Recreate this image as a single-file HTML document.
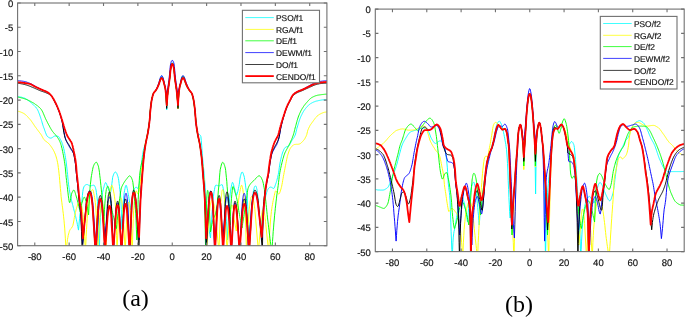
<!DOCTYPE html>
<html><head><meta charset="utf-8"><title>Radiation patterns</title>
<style>
html,body{margin:0;padding:0;background:#fff;}
body{width:685px;height:317px;overflow:hidden;position:relative;}
svg{position:absolute;left:0;top:0;display:block;}
.tk{font-family:"Liberation Sans",Arial,Helvetica,sans-serif;font-size:38px;fill:#151515;stroke:#151515;stroke-width:.7px;text-rendering:geometricPrecision;}
.lg{font-family:"Liberation Sans",Arial,Helvetica,sans-serif;font-size:33.6px;fill:#151515;stroke:#151515;stroke-width:.7px;text-rendering:geometricPrecision;}
.cap{font-family:"Liberation Serif","Times New Roman",Times,serif;font-size:24px;fill:#000;}
</style></head><body>
<svg width="685" height="317" viewBox="0 0 685 317">
<defs>
<clipPath id="cl"><rect x="17.6" y="3.0" width="309.30" height="242.70"/></clipPath>
<clipPath id="cr"><rect x="375.3" y="9.1" width="308.90" height="242.50"/></clipPath>
</defs>
<rect x="0" y="0" width="685" height="317" fill="#fff"/>
<g clip-path="url(#cl)" fill="none" stroke-linejoin="round" stroke-linecap="butt">
<path d="M17.6 96.7L18.0 96.7L18.3 96.7L18.7 96.7L19.0 96.8L19.4 96.8L19.7 96.9L20.1 96.9L20.4 97.0L20.8 97.1L21.1 97.1L21.5 97.2L21.8 97.3L22.2 97.4L22.5 97.5L22.9 97.6L23.2 97.7L23.6 97.8L23.9 97.9L24.3 98.0L24.6 98.2L25.0 98.4L25.3 98.6L25.7 98.8L26.0 99.0L26.4 99.2L26.8 99.4L27.1 99.7L27.5 99.9L27.8 100.2L28.2 100.4L28.5 100.7L28.9 101.0L29.2 101.2L29.6 101.5L29.9 101.7L30.3 102.0L30.6 102.3L31.0 102.6L31.3 102.9L31.7 103.2L32.0 103.6L32.4 103.9L32.7 104.2L33.1 104.6L33.4 104.9L33.8 105.3L34.1 105.6L34.5 106.0L34.8 106.3L35.2 106.7L35.6 107.0L35.9 107.4L36.3 107.8L36.6 108.3L37.0 108.7L37.3 109.3L37.7 109.9L38.0 110.7L38.4 111.5L38.7 112.4L39.1 113.3L39.4 114.2L39.8 115.2L40.1 116.2L40.5 117.2L40.8 118.3L41.2 119.4L41.5 120.5L41.9 121.7L42.2 122.9L42.6 124.1L42.9 125.2L43.3 126.3L43.6 127.3L44.0 128.2L44.4 129.2L44.7 130.3L45.1 131.3L45.4 132.3L45.8 133.2L46.1 134.1L46.5 134.9L46.8 135.6L47.2 136.1L47.5 136.5L47.9 136.8L48.2 137.1L48.6 137.3L48.9 137.5L49.3 137.7L49.6 137.9L50.0 138.0L50.3 138.1L50.7 138.1L51.0 138.1L51.4 138.0L51.7 137.8L52.1 137.6L52.5 137.4L52.8 137.1L53.2 136.9L53.5 136.6L53.9 136.4L54.2 136.2L54.6 136.1L54.9 136.0L55.3 136.0L55.6 136.0L56.0 136.0L56.3 136.1L56.7 136.1L57.0 136.2L57.4 136.2L57.7 136.3L58.1 136.4L58.4 136.5L58.8 136.8L59.1 137.2L59.5 137.8L59.8 138.4L60.2 139.1L60.5 139.7L60.9 140.4L61.3 141.1L61.6 141.9L62.0 142.7L62.3 143.7L62.7 144.7L63.0 145.8L63.4 147.0L63.7 148.5L64.1 150.0L64.4 151.7L64.8 153.6L65.1 155.5L65.5 157.6L65.8 159.7L66.2 162.1L66.5 165.0L66.9 168.1L67.2 171.3L67.6 174.6L67.9 178.0L68.3 181.6L68.6 184.8L69.0 187.4L69.3 189.8L69.7 191.9L70.1 193.9L70.4 195.7L70.8 197.4L71.1 198.9L71.5 200.4L71.8 201.7L72.2 203.1L72.5 204.4L72.9 205.7L73.2 207.1L73.6 208.5L73.9 209.9L74.3 211.2L74.6 212.6L75.0 213.9L75.3 215.3L75.7 216.7L76.0 218.2L76.4 219.7L76.7 221.2L77.1 222.9L77.4 224.6L77.8 226.4L78.1 228.2L78.5 230.1L78.9 226.0L79.2 222.0L79.6 218.3L79.9 214.9L80.3 211.7L80.7 208.8L81.0 206.3L81.4 204.0L81.7 201.7L82.1 199.0L82.4 195.4L82.8 191.7L83.2 189.1L83.5 188.0L83.9 187.0L84.2 186.3L84.6 185.7L85.0 185.3L85.3 185.1L85.7 184.9L86.0 184.7L86.4 184.6L86.7 184.5L87.1 184.5L87.5 184.6L87.8 184.7L88.2 184.9L88.5 185.2L88.9 185.4L89.3 185.6L89.6 185.8L90.0 185.9L90.3 185.9L90.7 185.9L91.1 185.8L91.4 185.7L91.8 185.6L92.1 185.5L92.5 185.4L92.8 185.3L93.2 185.3L93.6 185.2L93.9 185.2L94.3 185.4L94.6 185.9L95.0 186.7L95.4 187.6L95.7 188.7L96.1 190.2L96.4 192.4L96.8 195.2L97.1 198.2L97.5 201.4L97.9 205.3L98.2 210.6L98.6 219.5L98.9 234.0L99.3 251.7L99.7 238.5L100.0 226.7L100.4 217.4L100.7 210.8L101.1 205.4L101.5 200.9L101.8 197.4L102.2 194.8L102.5 192.7L102.9 191.0L103.3 189.5L103.6 188.2L104.0 186.8L104.3 185.4L104.7 184.3L105.1 183.3L105.4 182.7L105.8 182.6L106.1 183.0L106.5 183.8L106.9 184.9L107.2 186.1L107.6 187.2L107.9 188.0L108.3 188.9L108.7 189.8L109.0 190.6L109.4 191.3L109.7 191.9L110.1 192.3L110.5 192.5L110.8 191.5L111.2 189.1L111.6 186.3L111.9 183.6L112.3 180.4L112.6 177.7L113.0 176.1L113.4 175.1L113.7 174.2L114.1 173.4L114.4 172.8L114.8 172.3L115.2 172.1L115.5 172.0L115.9 172.2L116.2 172.6L116.6 173.2L117.0 173.9L117.3 174.8L117.7 175.8L118.0 176.8L118.4 178.5L118.8 180.8L119.1 183.5L119.5 186.4L119.8 189.3L120.2 192.3L120.6 196.0L120.9 201.4L121.3 209.5L121.6 218.7L122.0 229.4L122.4 218.5L122.7 209.6L123.1 203.4L123.5 198.8L123.9 195.3L124.2 192.7L124.6 190.5L125.0 188.5L125.3 186.8L125.7 185.7L126.1 185.2L126.5 185.6L126.8 186.9L127.2 188.6L127.6 190.6L127.9 192.5L128.3 194.3L128.7 196.4L129.0 198.5L129.4 200.7L129.8 202.9L130.2 205.1L130.5 207.5L130.9 210.0L131.3 206.5L131.6 203.2L132.0 200.3L132.3 197.5L132.7 194.9L133.0 192.8L133.4 191.3L133.7 190.2L134.1 189.4L134.4 188.8L134.8 188.3L135.2 187.8L135.5 187.4L135.9 187.2L136.2 187.1L136.6 187.3L136.9 187.7L137.3 188.2L137.6 188.4L138.0 188.2L138.3 187.5L138.7 186.4L139.1 185.0L139.4 183.5L139.8 180.9L140.1 177.4L140.5 173.8L140.8 170.4L141.2 166.8L141.5 163.2L141.9 160.1L142.2 157.3L142.6 154.7L143.0 152.3L143.3 150.3L143.7 148.8L144.0 147.7L144.4 146.9L144.7 146.0L145.1 144.9L145.4 143.6L145.8 142.2L146.1 140.6L146.5 138.9L146.9 137.1L147.2 135.3L147.6 133.4L147.9 131.4L148.3 129.4L148.6 127.3L149.0 124.9L149.3 122.1L149.7 118.2L150.0 113.3L150.4 109.3L150.7 106.1L151.1 103.2L151.5 100.9L151.8 99.0L152.2 97.4L152.5 96.0L152.9 94.8L153.2 93.8L153.6 93.1L153.9 92.5L154.3 92.1L154.6 91.7L155.0 91.4L155.4 91.0L155.7 90.5L156.1 90.0L156.4 89.4L156.8 88.8L157.1 88.2L157.5 87.4L157.8 86.6L158.2 85.8L158.5 85.0L158.9 84.1L159.3 83.0L159.6 81.4L160.0 79.6L160.3 78.2L160.7 77.4L161.0 76.8L161.4 76.3L161.7 76.2L162.1 76.4L162.4 76.9L162.8 77.6L163.2 78.5L163.5 80.3L163.9 82.5L164.2 84.2L164.6 85.5L164.9 86.8L165.3 88.5L165.6 91.1L166.0 95.8L166.3 102.4L166.7 110.0L167.1 102.4L167.4 96.7L167.8 92.7L168.2 89.5L168.5 86.9L168.9 84.6L169.2 82.0L169.6 79.2L170.0 75.9L170.3 71.6L170.7 68.3L171.1 66.1L171.4 64.4L171.8 63.4L172.1 62.9L172.5 62.9L172.9 63.5L173.2 64.6L173.6 66.4L174.0 68.6L174.3 72.2L174.7 76.4L175.0 79.6L175.4 82.3L175.8 84.9L176.1 87.2L176.5 89.9L176.9 93.3L177.2 97.3L177.6 101.8L177.9 107.0L178.3 100.9L178.7 95.6L179.0 91.4L179.4 88.8L179.7 87.0L180.1 85.6L180.4 84.3L180.8 82.9L181.1 81.3L181.5 79.9L181.8 79.0L182.2 78.3L182.5 77.8L182.9 77.5L183.3 77.6L183.6 78.0L184.0 78.6L184.3 79.3L184.7 80.3L185.0 81.6L185.4 82.8L185.7 83.8L186.1 84.7L186.4 85.5L186.8 86.2L187.1 87.0L187.5 87.7L187.9 88.4L188.2 88.9L188.6 89.5L188.9 90.0L189.3 90.5L189.6 91.0L190.0 91.4L190.3 91.7L190.7 92.1L191.0 92.5L191.4 93.0L191.7 93.7L192.1 94.7L192.5 95.9L192.8 97.3L193.2 98.9L193.5 100.7L193.9 102.9L194.2 105.5L194.6 108.4L194.9 111.3L195.3 114.6L195.6 118.1L196.0 121.4L196.3 125.0L196.7 128.7L197.1 131.6L197.4 132.8L197.8 133.4L198.1 133.8L198.5 134.1L198.8 134.3L199.2 134.4L199.5 134.6L199.9 134.8L200.2 135.2L200.6 135.8L200.9 136.6L201.3 140.7L201.7 145.9L202.0 150.5L202.4 155.1L202.7 159.3L203.1 163.1L203.4 166.7L203.8 170.2L204.1 173.9L204.5 177.9L204.8 182.4L205.2 187.1L205.5 191.9L205.9 196.5L206.3 200.8L206.6 205.0L207.0 209.2L207.3 213.3L207.7 217.2L208.0 220.8L208.4 224.0L208.7 226.8L209.1 229.5L209.4 232.0L209.8 234.2L210.1 236.3L210.5 238.0L210.9 231.6L211.2 225.6L211.6 219.9L211.9 214.7L212.3 209.9L212.7 205.3L213.0 200.8L213.4 196.9L213.8 193.8L214.1 191.5L214.5 189.5L214.8 187.6L215.2 186.2L215.6 185.4L215.9 185.2L216.3 185.2L216.6 185.3L217.0 185.4L217.4 185.6L217.7 185.7L218.1 185.8L218.5 185.9L218.8 185.9L219.2 185.9L219.5 185.8L219.9 185.6L220.3 185.4L220.6 185.2L221.0 185.0L221.4 184.8L221.7 184.7L222.1 184.6L222.4 185.1L222.8 186.5L223.2 188.3L223.5 190.1L223.9 192.3L224.2 194.9L224.6 197.9L225.0 201.5L225.3 205.8L225.7 210.7L226.1 215.8L226.4 221.2L226.8 227.0L227.1 233.3L227.5 240.0L227.9 230.1L228.3 221.1L228.6 213.2L229.0 206.5L229.4 201.2L229.8 197.2L230.2 193.9L230.5 191.2L230.9 188.9L231.3 186.8L231.7 184.8L232.1 183.2L232.4 182.4L232.8 182.6L233.2 183.5L233.6 184.7L233.9 186.2L234.3 187.7L234.7 189.0L235.1 190.2L235.5 191.5L235.8 192.7L236.2 194.0L236.6 195.3L237.0 194.3L237.3 193.1L237.7 191.8L238.1 190.2L238.4 188.5L238.8 186.6L239.2 184.7L239.6 182.1L239.9 179.2L240.3 176.8L240.7 175.4L241.0 174.2L241.4 173.1L241.8 172.3L242.1 172.0L242.5 172.2L242.9 172.8L243.3 173.7L243.6 174.8L244.0 176.0L244.4 177.5L244.7 179.7L245.1 182.3L245.5 185.1L245.8 187.9L246.2 190.3L246.6 192.3L247.0 194.6L247.3 198.1L247.7 206.2L248.1 216.6L248.4 226.9L248.8 238.0L252.2 200.5L252.3 198.9L252.5 197.5L252.7 196.1L252.8 194.8L253.0 193.7L253.2 192.6L253.3 191.7L253.5 190.8L253.7 190.0L253.8 189.2L254.0 188.6L254.2 188.0L254.3 187.5L254.5 187.1L254.7 186.7L254.8 186.4L255.0 186.2L255.2 186.0L255.3 185.9L255.5 185.9L255.6 185.9L255.8 186.0L255.9 186.2L256.1 186.4L256.2 186.7L256.3 187.1L256.5 187.5L256.6 188.0L256.7 188.6L256.9 189.2L257.0 190.0L257.1 190.8L257.3 191.7L257.4 192.6L257.6 193.7L257.7 194.8L257.8 196.1L258.0 197.5L258.1 198.9L258.2 200.5L261.0 232.0L261.4 227.3L261.7 222.9L262.1 218.8L262.4 215.1L262.8 211.8L263.1 209.2L263.5 206.9L263.8 204.8L264.2 202.9L264.5 201.1L264.9 199.5L265.2 198.1L265.6 196.7L265.9 195.3L266.3 194.0L266.6 192.7L267.0 191.5L267.3 190.5L267.7 189.7L268.0 189.1L268.4 188.6L268.8 188.2L269.1 187.9L269.5 187.6L269.8 187.3L270.2 187.2L270.5 187.1L270.9 187.1L271.2 187.2L271.6 187.4L271.9 187.6L272.3 187.8L272.6 188.0L273.0 188.2L273.3 188.3L273.7 188.4L274.0 188.3L274.4 187.7L274.7 186.9L275.1 185.8L275.4 184.7L275.8 183.7L276.2 182.7L276.5 181.5L276.9 180.3L277.2 179.0L277.6 177.5L277.9 176.0L278.3 174.4L278.6 172.3L279.0 170.0L279.3 167.5L279.7 165.1L280.0 163.1L280.4 161.3L280.7 159.7L281.1 158.1L281.4 156.6L281.8 155.3L282.1 154.1L282.5 153.0L282.8 152.0L283.2 151.1L283.6 150.2L283.9 149.4L284.3 148.7L284.6 148.2L285.0 147.7L285.3 147.4L285.7 147.2L286.0 147.0L286.4 146.9L286.7 146.7L287.1 146.6L287.4 146.5L287.8 146.4L288.1 146.2L288.5 146.0L288.8 145.7L289.2 145.4L289.5 144.9L289.9 144.3L290.2 143.6L290.6 142.9L291.0 142.1L291.3 141.5L291.7 140.9L292.0 140.3L292.4 139.8L292.7 139.3L293.1 138.8L293.4 138.3L293.8 137.8L294.1 137.2L294.5 136.6L294.8 135.8L295.2 135.0L295.5 134.0L295.9 132.7L296.2 131.2L296.6 129.7L296.9 128.3L297.3 127.0L297.7 125.8L298.0 124.7L298.4 123.5L298.7 122.4L299.1 121.3L299.4 120.2L299.8 119.2L300.1 118.3L300.5 117.4L300.8 116.6L301.2 115.8L301.5 115.1L301.9 114.4L302.2 113.7L302.6 113.0L302.9 112.4L303.3 111.8L303.6 111.2L304.0 110.6L304.3 110.1L304.7 109.6L305.1 109.1L305.4 108.7L305.8 108.2L306.1 107.8L306.5 107.4L306.8 107.0L307.2 106.6L307.5 106.2L307.9 105.9L308.2 105.5L308.6 105.2L308.9 104.9L309.3 104.6L309.6 104.3L310.0 104.1L310.3 103.8L310.7 103.6L311.0 103.4L311.4 103.2L311.7 103.0L312.1 102.8L312.5 102.6L312.8 102.4L313.2 102.3L313.5 102.1L313.9 101.9L314.2 101.8L314.6 101.7L314.9 101.5L315.3 101.4L315.6 101.3L316.0 101.2L316.3 101.1L316.7 101.0L317.0 100.9L317.4 100.9L317.7 100.8L318.1 100.7L318.4 100.6L318.8 100.6L319.1 100.5L319.5 100.4L319.9 100.4L320.2 100.3L320.6 100.2L320.9 100.2L321.3 100.1L321.6 100.0L322.0 100.0L322.3 99.9L322.7 99.9L323.0 99.9L323.4 99.8L323.7 99.8L324.1 99.7L324.4 99.7L324.8 99.7L325.1 99.7L325.5 99.6L325.8 99.6L326.2 99.6L326.5 99.6L326.9 99.6" stroke="#00ffff" stroke-width="0.95"/>
<path d="M17.6 111.3L18.0 111.3L18.3 111.4L18.7 111.4L19.0 111.5L19.4 111.6L19.7 111.7L20.1 111.8L20.4 111.9L20.8 112.1L21.1 112.2L21.5 112.4L21.8 112.5L22.2 112.7L22.6 112.8L22.9 113.0L23.3 113.2L23.6 113.4L24.0 113.6L24.3 113.8L24.7 114.0L25.0 114.3L25.4 114.6L25.7 114.9L26.1 115.2L26.5 115.6L26.8 115.9L27.2 116.3L27.5 116.6L27.9 117.0L28.2 117.4L28.6 117.8L28.9 118.2L29.3 118.6L29.6 118.9L30.0 119.3L30.3 119.8L30.7 120.2L31.1 120.7L31.4 121.2L31.8 121.7L32.1 122.2L32.5 122.7L32.8 123.2L33.2 123.7L33.5 124.2L33.9 124.8L34.2 125.3L34.6 125.8L34.9 126.3L35.3 126.9L35.7 127.4L36.0 127.8L36.4 128.3L36.7 128.8L37.1 129.3L37.4 129.7L37.8 130.2L38.1 130.6L38.5 131.1L38.8 131.6L39.2 132.0L39.5 132.5L39.9 133.0L40.3 133.5L40.6 134.0L41.0 134.5L41.3 135.0L41.7 135.6L42.0 136.2L42.4 136.9L42.7 137.5L43.1 138.2L43.4 138.8L43.8 139.3L44.2 139.8L44.5 140.1L44.9 140.5L45.2 140.8L45.6 141.1L45.9 141.4L46.3 141.6L46.6 141.9L47.0 142.1L47.3 142.4L47.7 142.7L48.0 143.0L48.4 143.3L48.8 143.6L49.1 144.0L49.5 144.4L49.8 144.8L50.2 145.3L50.5 145.7L50.9 146.2L51.2 146.7L51.6 147.2L51.9 147.8L52.3 148.3L52.6 148.9L53.0 149.5L53.4 150.2L53.7 150.8L54.1 151.5L54.4 152.3L54.8 153.0L55.1 153.9L55.5 154.8L55.8 155.8L56.2 156.9L56.5 158.1L56.9 159.4L57.2 160.9L57.6 162.7L58.0 164.9L58.3 167.5L58.7 170.2L59.0 173.2L59.4 176.6L59.7 180.6L60.1 184.7L60.4 188.6L60.8 192.6L61.1 196.5L61.5 200.0L61.9 202.8L62.2 205.3L62.6 207.9L62.9 210.8L63.3 213.7L63.6 216.8L64.0 220.2L64.3 223.9L64.7 228.1L65.0 233.0L65.4 238.8L65.7 245.2L66.1 251.7L66.5 248.3L66.8 244.9L67.2 241.9L67.5 239.3L67.9 237.3L68.2 235.5L68.6 233.9L69.0 232.6L69.3 231.4L69.7 230.5L70.0 229.8L70.4 229.3L70.7 228.8L71.1 228.4L71.5 228.0L71.8 227.5L72.2 227.0L72.5 226.3L72.9 225.4L73.2 224.0L73.6 222.0L74.0 219.8L74.3 217.6L74.7 215.7L75.0 214.1L75.4 212.5L75.8 211.1L76.1 209.7L76.5 208.4L76.8 207.3L77.2 206.1L77.5 205.0L77.9 204.0L78.3 203.3L78.6 202.9L79.0 202.6L79.3 202.4L79.7 202.2L80.0 202.1L80.4 202.0L80.8 202.2L81.1 203.1L81.5 204.5L81.8 206.5L82.2 208.9L82.5 211.5L82.9 214.2L83.3 217.3L83.6 221.3L84.0 226.2L84.3 231.8L84.7 238.1L85.0 244.8L85.4 251.7L85.8 244.0L86.1 236.5L86.5 229.6L86.9 223.4L87.2 218.2L87.6 213.9L88.0 210.2L88.3 206.8L88.7 203.7L89.1 201.0L89.4 198.7L89.8 196.8L90.2 195.4L90.5 194.0L90.9 192.8L91.3 191.6L91.6 190.7L92.0 190.0L92.4 189.6L92.7 189.6L93.1 190.2L93.5 191.6L93.8 193.3L94.2 195.4L94.6 197.5L94.9 199.8L95.3 202.5L95.7 206.0L96.0 210.5L96.4 217.3L96.8 226.9L97.1 238.7L97.5 251.7L99.8 217.6L99.9 216.0L100.0 214.6L100.1 213.2L100.2 211.9L100.3 210.8L100.4 209.7L100.5 208.8L100.7 207.9L100.8 207.1L100.9 206.3L101.0 205.7L101.1 205.1L101.2 204.6L101.3 204.2L101.4 203.8L101.5 203.5L101.7 203.3L101.8 203.1L101.9 203.0L102.0 203.0L102.1 203.0L102.2 203.1L102.3 203.3L102.4 203.5L102.5 203.8L102.6 204.2L102.7 204.6L102.8 205.1L102.9 205.7L103.0 206.3L103.1 207.1L103.2 207.9L103.3 208.8L103.4 209.7L103.5 210.8L103.6 211.9L103.7 213.2L103.8 214.6L103.9 216.0L104.0 217.6L106.0 251.7L106.4 242.4L106.7 233.4L107.1 225.3L107.5 218.2L107.8 212.2L108.2 207.5L108.6 203.4L108.9 199.8L109.3 196.6L109.7 194.0L110.0 191.8L110.4 189.9L110.8 188.0L111.1 186.5L111.5 185.5L111.9 185.2L112.2 185.7L112.6 186.7L113.0 188.2L113.3 190.0L113.7 191.9L114.1 193.9L114.4 196.2L114.8 199.1L115.2 202.7L115.5 207.1L115.9 213.1L116.3 221.9L116.6 235.3L117.0 251.7L118.8 212.3L118.9 210.7L119.0 209.3L119.1 207.9L119.2 206.6L119.3 205.5L119.4 204.4L119.5 203.5L119.6 202.6L119.7 201.8L119.8 201.0L119.9 200.4L120.0 199.8L120.1 199.3L120.1 198.9L120.2 198.5L120.3 198.2L120.4 198.0L120.5 197.8L120.6 197.7L120.7 197.7L120.8 197.7L120.9 197.8L121.0 198.0L121.2 198.2L121.3 198.5L121.4 198.9L121.5 199.3L121.6 199.8L121.7 200.4L121.8 201.0L121.9 201.8L122.0 202.6L122.2 203.5L122.3 204.4L122.4 205.5L122.5 206.6L122.6 207.9L122.7 209.3L122.8 210.7L123.0 212.3L125.2 251.7L126.8 216.6L126.9 215.0L127.0 213.6L127.1 212.2L127.2 210.9L127.3 209.8L127.3 208.7L127.4 207.8L127.5 206.9L127.6 206.1L127.7 205.3L127.8 204.7L127.8 204.1L127.9 203.6L128.0 203.2L128.1 202.8L128.2 202.5L128.3 202.3L128.3 202.1L128.4 202.0L128.5 202.0L128.6 202.0L128.7 202.1L128.8 202.3L128.9 202.5L129.0 202.8L129.1 203.2L129.1 203.6L129.2 204.1L129.3 204.7L129.4 205.3L129.5 206.1L129.6 206.9L129.7 207.8L129.8 208.7L129.9 209.8L130.0 210.9L130.1 212.2L130.2 213.6L130.3 215.0L130.3 216.6L132.2 251.7L132.6 239.8L132.9 228.5L133.3 218.6L133.6 210.6L134.0 205.2L134.3 201.6L134.7 198.3L135.0 195.5L135.4 193.2L135.8 191.6L136.1 190.9L136.5 191.1L136.8 191.7L137.2 192.5L137.5 193.3L137.9 193.9L138.2 193.9L138.6 193.1L139.0 191.6L139.3 189.7L139.7 187.4L140.0 185.0L140.4 181.8L140.7 177.6L141.1 173.6L141.4 170.5L141.8 167.8L142.2 165.3L142.5 163.1L142.9 161.1L143.2 159.1L143.6 156.8L143.9 154.0L144.3 151.1L144.6 148.3L145.0 145.8L145.4 143.7L145.7 141.9L146.1 140.2L146.4 138.7L146.8 137.1L147.1 135.5L147.5 133.7L147.8 131.8L148.2 129.8L148.6 127.7L148.9 125.3L149.3 122.6L149.6 119.0L150.0 114.1L150.3 109.8L150.7 106.5L151.1 103.6L151.4 101.2L151.8 99.3L152.1 97.6L152.5 96.2L152.8 94.9L153.2 93.9L153.5 93.1L153.9 92.6L154.3 92.1L154.6 91.8L155.0 91.4L155.3 91.0L155.7 90.6L156.0 90.0L156.4 89.5L156.7 88.9L157.1 88.2L157.5 87.5L157.8 86.7L158.2 85.9L158.5 85.0L158.9 84.1L159.2 83.1L159.6 82.0L159.9 80.8L160.3 79.8L160.7 79.1L161.0 78.5L161.4 78.0L161.7 77.8L162.1 78.0L162.4 78.5L162.8 79.2L163.1 79.9L163.5 81.2L163.9 82.6L164.2 84.0L164.6 85.3L164.9 86.7L165.3 88.5L165.6 90.9L166.0 94.9L166.3 100.0L166.7 106.0L167.1 101.1L167.4 96.7L167.8 92.8L168.2 89.5L168.5 86.9L168.9 84.6L169.2 82.0L169.6 79.1L170.0 76.0L170.3 71.9L170.7 68.8L171.1 66.7L171.4 65.1L171.8 64.1L172.1 63.6L172.5 63.6L172.9 64.2L173.2 65.3L173.6 67.0L174.0 69.1L174.3 72.5L174.7 76.5L175.0 79.5L175.4 82.3L175.8 84.9L176.1 87.2L176.5 89.9L176.9 93.2L177.2 97.3L177.6 102.6L177.9 109.0L178.3 102.1L178.7 96.0L179.0 91.4L179.4 88.7L179.7 86.9L180.1 85.4L180.4 84.1L180.8 82.8L181.2 81.3L181.5 80.1L181.9 79.2L182.2 78.6L182.6 78.0L182.9 77.8L183.3 77.9L183.7 78.4L184.0 79.1L184.4 79.8L184.7 80.7L185.1 81.9L185.4 83.0L185.8 84.0L186.2 84.8L186.5 85.6L186.9 86.4L187.2 87.1L187.6 87.8L187.9 88.5L188.3 89.1L188.7 89.6L189.0 90.1L189.4 90.6L189.7 91.1L190.1 91.5L190.4 91.8L190.8 92.2L191.2 92.7L191.5 93.2L191.9 94.0L192.2 95.1L192.6 96.4L192.9 97.9L193.3 99.6L193.7 101.5L194.0 103.9L194.4 106.7L194.7 109.6L195.1 112.7L195.4 116.1L195.8 119.6L196.2 122.9L196.5 126.2L196.9 129.3L197.2 132.1L197.6 134.3L197.9 136.2L198.3 137.8L198.6 139.4L199.0 140.9L199.4 142.5L199.7 144.2L200.1 146.2L200.4 148.2L200.8 150.4L201.1 152.6L201.5 155.1L201.9 157.7L202.2 160.5L202.6 163.6L202.9 166.9L203.3 170.6L203.6 174.9L204.0 179.8L204.4 186.0L204.7 193.4L205.1 201.8L205.4 211.4L205.8 223.3L206.1 236.9L206.5 251.7L209.2 214.6L209.4 213.0L209.5 211.6L209.7 210.2L209.8 208.9L209.9 207.8L210.1 206.7L210.2 205.8L210.3 204.9L210.5 204.1L210.6 203.3L210.8 202.7L210.9 202.1L211.0 201.6L211.2 201.2L211.3 200.8L211.4 200.5L211.6 200.3L211.7 200.1L211.9 200.0L212.0 200.0L212.2 200.0L212.3 200.1L212.5 200.3L212.7 200.5L212.9 200.8L213.0 201.2L213.2 201.6L213.4 202.1L213.6 202.7L213.7 203.3L213.9 204.1L214.1 204.9L214.2 205.8L214.4 206.7L214.6 207.8L214.8 208.9L214.9 210.2L215.1 211.6L215.3 213.0L215.4 214.6L218.9 251.7L220.8 204.2L220.9 202.6L221.0 201.2L221.1 199.8L221.2 198.5L221.3 197.4L221.4 196.3L221.5 195.4L221.6 194.5L221.7 193.7L221.8 192.9L221.8 192.3L221.9 191.7L222.0 191.2L222.1 190.8L222.2 190.4L222.3 190.1L222.4 189.9L222.5 189.7L222.6 189.6L222.7 189.6L222.8 189.6L222.9 189.7L223.0 189.9L223.1 190.1L223.2 190.4L223.3 190.8L223.5 191.2L223.6 191.7L223.7 192.3L223.8 192.9L223.9 193.7L224.0 194.5L224.1 195.4L224.2 196.3L224.3 197.4L224.4 198.5L224.5 199.8L224.6 201.2L224.7 202.6L224.8 204.2L227.0 251.7L229.5 219.6L229.6 218.0L229.8 216.6L229.9 215.2L230.0 213.9L230.1 212.8L230.2 211.7L230.4 210.8L230.5 209.9L230.6 209.1L230.8 208.3L230.9 207.7L231.0 207.1L231.1 206.6L231.2 206.2L231.4 205.8L231.5 205.5L231.6 205.3L231.8 205.1L231.9 205.0L232.0 205.0L232.1 205.0L232.2 205.1L232.3 205.3L232.4 205.5L232.5 205.8L232.6 206.2L232.8 206.6L232.9 207.1L233.0 207.7L233.1 208.3L233.2 209.1L233.3 209.9L233.4 210.8L233.5 211.7L233.6 212.8L233.7 213.9L233.8 215.2L233.9 216.6L234.0 218.0L234.2 219.6L236.3 231.0L236.7 224.2L237.0 217.9L237.4 212.3L237.8 207.6L238.1 203.8L238.5 200.7L238.9 197.9L239.2 195.5L239.6 193.4L239.9 191.5L240.3 189.5L240.7 187.7L241.0 186.2L241.4 185.3L241.8 185.3L242.1 186.2L242.5 187.7L242.9 189.8L243.2 192.2L243.6 194.6L243.9 197.4L244.3 201.0L244.7 205.4L245.0 210.7L245.4 218.0L245.8 227.6L246.1 239.1L246.5 251.7L249.1 211.2L249.2 209.6L249.4 208.2L249.5 206.8L249.6 205.5L249.8 204.4L249.9 203.3L250.0 202.4L250.1 201.5L250.3 200.7L250.4 199.9L250.5 199.3L250.7 198.7L250.8 198.2L250.9 197.8L251.0 197.4L251.2 197.1L251.3 196.9L251.4 196.7L251.6 196.6L251.7 196.6L251.9 196.6L252.0 196.7L252.2 196.9L252.4 197.1L252.5 197.4L252.7 197.8L252.9 198.2L253.0 198.7L253.2 199.3L253.4 199.9L253.5 200.7L253.7 201.5L253.9 202.4L254.0 203.3L254.2 204.4L254.4 205.5L254.5 206.8L254.7 208.2L254.9 209.6L255.0 211.2L258.4 251.7L260.7 224.4L260.8 222.8L260.9 221.4L261.0 220.0L261.2 218.7L261.3 217.6L261.4 216.5L261.5 215.6L261.6 214.7L261.7 213.9L261.9 213.1L262.0 212.5L262.1 211.9L262.2 211.4L262.3 211.0L262.4 210.6L262.5 210.3L262.7 210.1L262.8 209.9L262.9 209.8L263.0 209.8L263.1 209.8L263.3 209.9L263.4 210.1L263.6 210.3L263.7 210.6L263.8 211.0L264.0 211.4L264.1 211.9L264.3 212.5L264.4 213.1L264.5 213.9L264.7 214.7L264.8 215.6L265.0 216.5L265.1 217.6L265.2 218.7L265.4 220.0L265.5 221.4L265.7 222.8L265.8 224.4L268.6 251.7L269.0 245.2L269.3 238.6L269.7 232.5L270.0 227.0L270.4 222.0L270.7 217.8L271.1 214.4L271.4 211.4L271.8 208.8L272.1 206.5L272.5 204.4L272.8 202.4L273.2 200.6L273.5 199.0L273.9 197.3L274.3 195.6L274.6 193.9L275.0 192.4L275.3 191.4L275.7 190.9L276.0 191.0L276.4 191.3L276.7 191.7L277.1 192.2L277.4 192.7L277.8 193.2L278.1 193.6L278.5 193.9L278.8 194.0L279.2 193.8L279.6 193.2L279.9 192.3L280.3 191.3L280.6 190.1L281.0 188.9L281.3 187.6L281.7 186.2L282.0 184.4L282.4 182.5L282.7 180.4L283.1 178.3L283.4 176.3L283.8 174.4L284.1 172.6L284.5 170.7L284.9 168.8L285.2 167.0L285.6 165.2L285.9 163.4L286.3 161.6L286.6 159.8L287.0 158.1L287.3 156.6L287.7 155.3L288.0 154.1L288.4 153.0L288.7 152.0L289.1 151.0L289.4 150.1L289.8 149.3L290.2 148.6L290.5 148.0L290.9 147.5L291.2 147.1L291.6 146.7L291.9 146.3L292.3 145.9L292.6 145.6L293.0 145.3L293.3 145.0L293.7 144.8L294.0 144.7L294.4 144.5L294.7 144.5L295.1 144.4L295.5 144.4L295.8 144.4L296.2 144.3L296.5 144.3L296.9 144.3L297.2 144.3L297.6 144.3L297.9 144.2L298.3 144.2L298.6 144.2L299.0 144.1L299.3 144.0L299.7 143.9L300.0 143.7L300.4 143.5L300.8 143.2L301.1 142.9L301.5 142.6L301.8 142.3L302.2 141.9L302.5 141.6L302.9 141.2L303.2 140.8L303.6 140.4L303.9 140.0L304.3 139.5L304.6 139.0L305.0 138.4L305.3 137.7L305.7 137.0L306.1 136.3L306.4 135.5L306.8 134.5L307.1 133.1L307.5 131.5L307.8 130.2L308.2 129.4L308.5 128.5L308.9 127.8L309.2 127.0L309.6 126.4L309.9 125.7L310.3 125.1L310.6 124.6L311.0 124.0L311.4 123.5L311.7 123.0L312.1 122.5L312.4 122.1L312.8 121.6L313.1 121.1L313.5 120.6L313.8 120.1L314.2 119.7L314.5 119.2L314.9 118.7L315.2 118.3L315.6 117.8L315.9 117.4L316.3 117.0L316.7 116.6L317.0 116.2L317.4 115.9L317.7 115.6L318.1 115.3L318.4 115.0L318.8 114.7L319.1 114.5L319.5 114.4L319.8 114.2L320.2 114.0L320.5 113.8L320.9 113.7L321.2 113.5L321.6 113.3L322.0 113.2L322.3 113.0L322.7 112.9L323.0 112.8L323.4 112.6L323.7 112.5L324.1 112.4L324.4 112.3L324.8 112.2L325.1 112.2L325.5 112.1L325.8 112.1L326.2 112.0L326.5 112.0L326.9 112.0" stroke="#ffff00" stroke-width="0.95"/>
<path d="M17.6 97.1L18.0 97.2L18.3 97.2L18.7 97.3L19.0 97.3L19.4 97.4L19.7 97.5L20.1 97.6L20.4 97.6L20.8 97.7L21.1 97.8L21.5 97.9L21.8 98.0L22.2 98.1L22.5 98.2L22.9 98.3L23.2 98.4L23.6 98.5L23.9 98.6L24.3 98.7L24.6 98.8L25.0 98.9L25.3 99.0L25.7 99.2L26.1 99.3L26.4 99.4L26.8 99.6L27.1 99.7L27.5 99.9L27.8 100.0L28.2 100.2L28.5 100.4L28.9 100.5L29.2 100.7L29.6 100.9L29.9 101.0L30.3 101.2L30.6 101.4L31.0 101.6L31.3 101.8L31.7 102.0L32.0 102.2L32.4 102.4L32.7 102.6L33.1 102.8L33.5 103.0L33.8 103.2L34.2 103.4L34.5 103.7L34.9 103.9L35.2 104.2L35.6 104.4L35.9 104.7L36.3 104.9L36.6 105.2L37.0 105.5L37.3 105.8L37.7 106.0L38.0 106.3L38.4 106.6L38.7 106.8L39.1 107.1L39.4 107.5L39.8 107.8L40.1 108.1L40.5 108.5L40.8 108.9L41.2 109.4L41.6 109.9L41.9 110.5L42.3 111.1L42.6 111.9L43.0 112.6L43.3 113.4L43.7 114.2L44.0 115.1L44.4 115.9L44.7 116.7L45.1 117.6L45.4 118.4L45.8 119.1L46.1 119.9L46.5 120.6L46.8 121.2L47.2 121.9L47.5 122.6L47.9 123.3L48.2 124.0L48.6 124.7L49.0 125.3L49.3 126.0L49.7 126.7L50.0 127.3L50.4 127.9L50.7 128.5L51.1 129.1L51.4 129.7L51.8 130.3L52.1 130.8L52.5 131.3L52.8 131.8L53.2 132.2L53.5 132.7L53.9 133.0L54.2 133.4L54.6 133.8L54.9 134.2L55.3 134.5L55.6 134.9L56.0 135.4L56.3 135.8L56.7 136.3L57.1 136.8L57.4 137.3L57.8 137.8L58.1 138.3L58.5 138.9L58.8 139.5L59.2 140.2L59.5 140.8L59.9 141.6L60.2 142.4L60.6 143.3L60.9 144.4L61.3 145.6L61.6 147.0L62.0 148.4L62.3 150.0L62.7 151.6L63.0 153.4L63.4 155.2L63.7 157.0L64.1 159.0L64.4 161.3L64.8 163.8L65.2 166.5L65.5 170.0L65.9 174.3L66.2 177.6L66.6 180.6L66.9 183.5L67.3 186.6L67.6 189.8L68.0 192.9L68.3 195.8L68.7 198.2L69.0 200.6L69.4 202.4L69.7 202.7L70.1 201.9L70.4 200.3L70.8 198.3L71.1 196.2L71.5 194.4L71.8 193.1L72.2 192.3L72.6 191.6L72.9 190.9L73.3 190.4L73.6 190.1L74.0 190.1L74.3 190.5L74.7 191.3L75.0 192.3L75.4 193.4L75.7 194.7L76.1 195.9L76.4 197.0L76.8 198.2L77.1 199.5L77.5 200.9L77.8 202.3L78.2 203.8L78.5 205.1L78.9 206.5L79.2 207.9L79.6 209.2L79.9 210.6L80.3 212.0L80.7 209.6L81.1 207.4L81.4 205.4L81.8 203.6L82.2 202.0L82.6 200.8L82.9 199.7L83.3 198.6L83.7 197.7L84.1 197.2L84.4 197.1L84.8 197.7L85.2 198.6L85.6 199.9L86.0 201.4L86.3 202.9L86.7 204.5L87.1 206.1L87.5 208.1L87.8 210.2L88.2 212.5L88.6 214.9L89.0 207.0L89.3 199.8L89.7 193.5L90.0 188.3L90.4 184.3L90.8 181.0L91.1 178.0L91.5 175.5L91.9 173.4L92.2 171.5L92.6 169.7L92.9 168.0L93.3 166.6L93.7 165.5L94.0 164.8L94.4 164.1L94.8 163.5L95.1 163.0L95.5 162.6L95.8 162.3L96.2 162.2L96.6 162.3L96.9 162.8L97.3 163.4L97.6 164.2L98.0 165.2L98.4 166.2L98.7 167.7L99.1 169.9L99.5 172.7L99.8 175.7L100.2 178.7L100.5 181.9L100.9 185.5L101.3 189.1L101.6 192.8L102.0 196.1L102.4 199.6L102.7 203.8L103.1 209.4L103.4 216.6L103.8 225.0L104.2 216.6L104.5 209.3L104.9 203.1L105.3 198.3L105.6 194.7L106.0 191.8L106.3 189.6L106.7 188.3L107.1 187.3L107.4 186.5L107.8 186.2L108.2 186.5L108.5 187.4L108.9 188.6L109.2 190.1L109.6 192.5L110.0 195.3L110.3 198.0L110.7 200.7L111.1 203.5L111.4 206.2L111.8 208.7L112.1 210.8L112.5 212.6L112.9 214.3L113.2 215.9L113.6 217.4L114.0 218.8L114.3 220.3L114.7 221.7L115.0 223.2L115.4 224.6L115.8 225.9L116.1 227.2L116.5 228.5L116.9 224.5L117.2 220.7L117.6 217.0L117.9 213.5L118.3 210.2L118.6 207.0L119.0 204.0L119.3 201.2L119.7 198.5L120.1 195.8L120.4 193.0L120.8 190.6L121.1 188.9L121.5 187.7L121.8 186.7L122.2 185.9L122.6 185.2L122.9 184.5L123.3 183.9L123.6 183.3L124.0 182.7L124.3 182.1L124.7 181.5L125.0 181.0L125.4 180.5L125.8 180.1L126.1 179.6L126.5 179.2L126.8 178.7L127.2 178.3L127.5 177.8L127.9 177.2L128.3 176.8L128.6 176.4L129.0 176.0L129.3 175.9L129.7 175.8L130.0 175.9L130.4 176.2L130.7 176.6L131.1 177.2L131.5 177.9L131.8 178.7L132.2 179.6L132.5 180.6L132.9 182.4L133.2 185.0L133.6 188.0L134.0 191.9L134.3 197.1L134.7 201.6L135.0 205.4L135.4 209.2L135.7 213.9L136.1 220.6L136.4 229.5L136.8 240.0L137.2 228.2L137.5 217.2L137.9 207.6L138.2 199.5L138.6 192.5L138.9 185.9L139.3 180.2L139.6 175.5L140.0 172.0L140.4 169.4L140.7 167.3L141.1 165.5L141.4 164.0L141.8 162.5L142.1 161.1L142.5 159.5L142.9 157.7L143.2 155.8L143.6 153.8L143.9 151.8L144.3 149.7L144.6 147.7L145.0 145.8L145.3 144.0L145.7 142.3L146.1 140.6L146.4 139.0L146.8 137.3L147.1 135.6L147.5 133.8L147.8 131.8L148.2 129.9L148.5 127.8L148.9 125.4L149.3 122.7L149.6 119.2L150.0 114.2L150.3 109.9L150.7 106.6L151.0 103.7L151.4 101.3L151.8 99.4L152.1 97.7L152.5 96.2L152.8 94.9L153.2 93.9L153.5 93.1L153.9 92.6L154.2 92.2L154.6 91.8L155.0 91.4L155.3 91.0L155.7 90.6L156.0 90.1L156.4 89.5L156.7 88.9L157.1 88.2L157.4 87.5L157.8 86.7L158.2 85.9L158.5 85.0L158.9 84.1L159.2 83.1L159.6 81.9L159.9 80.6L160.3 79.5L160.6 78.8L161.0 78.2L161.4 77.7L161.7 77.5L162.1 77.7L162.4 78.2L162.8 78.9L163.1 79.7L163.5 81.0L163.9 82.6L164.2 84.0L164.6 85.3L164.9 86.8L165.3 88.5L165.6 90.9L166.0 94.8L166.3 100.0L166.7 106.0L167.1 101.1L167.4 96.7L167.8 92.8L168.2 89.5L168.5 86.9L168.9 84.6L169.2 82.0L169.6 79.2L170.0 75.9L170.3 71.7L170.7 68.5L171.1 66.3L171.4 64.7L171.8 63.7L172.1 63.2L172.5 63.2L172.9 63.8L173.2 64.9L173.6 66.6L174.0 68.8L174.3 72.3L174.7 76.4L175.0 79.6L175.4 82.3L175.8 84.9L176.1 87.2L176.5 89.9L176.9 93.3L177.2 97.3L177.6 101.5L177.9 106.0L178.3 100.2L178.7 95.2L179.0 91.3L179.4 88.8L179.7 87.0L180.1 85.7L180.5 84.3L180.8 82.6L181.2 80.4L181.5 78.4L181.9 77.4L182.2 76.7L182.6 76.2L183.0 76.0L183.3 76.1L183.7 76.6L184.0 77.2L184.4 78.0L184.7 79.5L185.1 81.5L185.5 83.1L185.8 84.1L186.2 84.9L186.5 85.7L186.9 86.4L187.3 87.2L187.6 87.9L188.0 88.5L188.3 89.1L188.7 89.7L189.0 90.2L189.4 90.7L189.8 91.1L190.1 91.5L190.5 91.9L190.8 92.3L191.2 92.7L191.5 93.3L191.9 94.1L192.3 95.2L192.6 96.5L193.0 98.1L193.3 99.8L193.7 101.8L194.1 104.2L194.4 107.0L194.8 109.9L195.1 113.1L195.5 116.5L195.8 120.0L196.2 123.3L196.6 126.6L196.9 129.7L197.3 132.4L197.6 134.6L198.0 136.4L198.3 138.1L198.7 139.7L199.1 141.3L199.4 143.1L199.8 145.0L200.1 147.3L200.5 149.8L200.8 152.5L201.2 155.4L201.6 158.6L201.9 162.0L202.3 165.7L202.6 169.8L203.0 174.2L203.4 178.9L203.7 183.6L204.1 189.0L204.4 195.8L204.8 206.0L205.1 223.3L205.5 245.0L206.6 204.9L206.6 203.3L206.7 201.9L206.7 200.5L206.8 199.2L206.8 198.1L206.9 197.0L206.9 196.1L207.0 195.2L207.0 194.4L207.1 193.6L207.1 193.0L207.2 192.4L207.2 191.9L207.3 191.5L207.3 191.1L207.4 190.8L207.4 190.6L207.5 190.4L207.5 190.3L207.6 190.3L207.7 190.3L207.7 190.4L207.8 190.6L207.9 190.8L208.0 191.1L208.0 191.5L208.1 191.9L208.2 192.4L208.3 193.0L208.3 193.6L208.4 194.4L208.5 195.2L208.5 196.1L208.6 197.0L208.7 198.1L208.8 199.2L208.8 200.5L208.9 201.9L209.0 203.3L209.1 204.9L210.5 232.0L210.9 230.0L211.2 228.0L211.6 226.1L211.9 224.3L212.3 222.7L212.7 221.2L213.0 219.9L213.4 218.8L213.8 217.9L214.1 217.1L214.5 216.3L214.8 215.5L215.2 214.7L215.6 213.6L215.9 212.3L216.3 210.6L216.6 208.2L217.0 205.2L217.4 201.8L217.7 198.0L218.1 194.1L218.4 190.1L218.8 186.2L219.2 182.0L219.5 177.1L219.9 172.6L220.2 169.8L220.6 168.0L221.0 166.4L221.3 165.0L221.7 163.8L222.1 162.9L222.4 162.4L222.8 162.3L223.1 162.5L223.5 162.9L223.9 163.6L224.2 164.5L224.6 165.5L224.9 166.7L225.3 168.1L225.7 170.5L226.0 173.9L226.4 177.7L226.8 181.7L227.1 186.3L227.5 191.1L227.8 196.1L228.2 201.4L228.6 206.6L228.9 211.5L229.3 216.2L229.6 220.7L230.0 225.0L230.4 216.8L230.7 209.4L231.1 203.2L231.5 198.3L231.8 194.4L232.2 190.8L232.5 188.0L232.9 186.6L233.3 186.7L233.6 187.6L234.0 188.9L234.4 190.3L234.7 191.6L235.1 192.7L235.5 193.8L235.8 194.9L236.2 196.2L236.5 197.6L236.9 199.2L237.3 201.2L237.6 203.4L238.0 205.8L238.4 208.1L238.7 210.4L239.1 212.5L239.5 214.5L239.8 216.5L240.2 218.5L240.5 220.5L240.9 222.4L241.3 224.3L241.6 226.2L242.0 228.0L242.4 225.7L242.7 223.5L243.1 221.2L243.4 218.9L243.8 216.7L244.1 214.4L244.5 212.1L244.8 209.8L245.2 207.6L245.5 205.4L245.9 203.1L246.3 200.8L246.6 198.4L247.0 195.7L247.3 192.7L247.7 190.1L248.0 188.6L248.4 187.5L248.7 186.7L249.1 186.0L249.4 185.4L249.8 184.8L250.2 184.3L250.5 183.8L250.9 183.4L251.2 183.0L251.6 182.6L251.9 182.2L252.3 181.9L252.6 181.6L253.0 181.3L253.4 181.0L253.7 180.6L254.1 180.3L254.4 180.0L254.8 179.6L255.1 179.2L255.5 178.8L255.8 178.4L256.2 178.0L256.5 177.6L256.9 177.3L257.3 176.9L257.6 176.6L258.0 176.3L258.3 176.1L258.7 175.9L259.0 175.8L259.4 175.8L259.7 175.9L260.1 176.2L260.4 176.6L260.8 177.0L261.2 177.6L261.5 178.3L261.9 179.0L262.2 179.8L262.6 180.7L262.9 181.9L263.3 183.4L263.6 185.2L264.0 187.2L264.4 189.3L264.7 191.9L265.1 194.9L265.4 198.1L265.8 201.2L266.1 204.4L266.5 207.8L266.8 211.2L267.2 214.6L267.5 217.9L267.9 221.1L268.3 224.2L268.6 227.2L269.0 230.1L269.3 233.0L269.7 235.9L270.0 238.7L270.4 241.5L270.7 244.2L271.1 246.9L271.4 249.5L271.8 251.7L272.2 246.6L272.5 241.4L272.9 236.4L273.2 231.6L273.6 227.1L273.9 222.9L274.3 219.0L274.6 215.2L275.0 211.7L275.3 208.3L275.7 205.1L276.0 201.9L276.4 198.9L276.7 196.0L277.1 193.3L277.5 190.7L277.8 188.2L278.2 185.5L278.5 182.6L278.9 179.6L279.2 176.7L279.6 174.3L279.9 172.2L280.3 170.3L280.6 168.6L281.0 167.0L281.3 165.4L281.7 164.0L282.0 162.5L282.4 161.1L282.7 159.7L283.1 158.4L283.5 157.1L283.8 155.9L284.2 154.8L284.5 153.9L284.9 153.0L285.2 152.2L285.6 151.5L285.9 150.8L286.3 150.2L286.6 149.6L287.0 148.9L287.3 148.3L287.7 147.6L288.0 146.9L288.4 146.2L288.8 145.5L289.1 144.8L289.5 144.1L289.8 143.4L290.2 142.7L290.5 141.9L290.9 141.1L291.2 140.3L291.6 139.5L291.9 138.7L292.3 137.8L292.6 136.9L293.0 135.9L293.3 134.9L293.7 133.6L294.1 132.3L294.4 130.8L294.8 129.4L295.1 128.0L295.5 126.7L295.8 125.5L296.2 124.2L296.5 122.9L296.9 121.6L297.2 120.4L297.6 119.2L297.9 118.1L298.3 117.0L298.6 116.0L299.0 115.1L299.4 114.3L299.7 113.4L300.1 112.7L300.4 111.9L300.8 111.2L301.1 110.5L301.5 109.9L301.8 109.2L302.2 108.6L302.5 108.0L302.9 107.5L303.2 106.9L303.6 106.4L303.9 105.9L304.3 105.4L304.6 105.0L305.0 104.5L305.4 104.1L305.7 103.6L306.1 103.2L306.4 102.8L306.8 102.4L307.1 102.0L307.5 101.6L307.8 101.2L308.2 100.8L308.5 100.4L308.9 100.0L309.2 99.7L309.6 99.3L309.9 99.0L310.3 98.6L310.7 98.4L311.0 98.1L311.4 97.8L311.7 97.6L312.1 97.4L312.4 97.2L312.8 97.1L313.1 96.9L313.5 96.7L313.8 96.5L314.2 96.4L314.5 96.2L314.9 96.1L315.2 95.9L315.6 95.8L316.0 95.7L316.3 95.6L316.7 95.5L317.0 95.4L317.4 95.3L317.7 95.2L318.1 95.2L318.4 95.1L318.8 95.0L319.1 95.0L319.5 94.9L319.8 94.9L320.2 94.8L320.5 94.8L320.9 94.7L321.2 94.7L321.6 94.6L322.0 94.6L322.3 94.5L322.7 94.5L323.0 94.4L323.4 94.4L323.7 94.4L324.1 94.3L324.4 94.3L324.8 94.3L325.1 94.3L325.5 94.2L325.8 94.2L326.2 94.2L326.5 94.2L326.9 94.2" stroke="#00ff00" stroke-width="0.95"/>
<path d="M17.6 80.7L18.0 80.7L18.3 80.7L18.7 80.7L19.0 80.7L19.4 80.8L19.7 80.8L20.1 80.8L20.4 80.9L20.8 80.9L21.1 81.0L21.5 81.0L21.8 81.1L22.2 81.1L22.5 81.2L22.9 81.2L23.2 81.3L23.6 81.3L23.9 81.4L24.3 81.5L24.7 81.5L25.0 81.6L25.4 81.7L25.7 81.8L26.1 81.9L26.4 82.0L26.8 82.1L27.1 82.3L27.5 82.4L27.8 82.5L28.2 82.7L28.5 82.8L28.9 82.9L29.2 83.1L29.6 83.2L29.9 83.4L30.3 83.5L30.7 83.7L31.0 83.9L31.4 84.0L31.7 84.2L32.1 84.4L32.4 84.6L32.8 84.8L33.1 85.0L33.5 85.2L33.8 85.4L34.2 85.6L34.5 85.8L34.9 86.0L35.2 86.2L35.6 86.4L35.9 86.6L36.3 86.8L36.6 87.0L37.0 87.2L37.4 87.4L37.7 87.5L38.1 87.7L38.4 87.9L38.8 88.1L39.1 88.3L39.5 88.5L39.8 88.6L40.2 88.8L40.5 89.0L40.9 89.2L41.2 89.3L41.6 89.5L41.9 89.7L42.3 89.8L42.6 90.0L43.0 90.2L43.3 90.3L43.7 90.5L44.1 90.6L44.4 90.7L44.8 90.9L45.1 91.0L45.5 91.2L45.8 91.3L46.2 91.5L46.5 91.7L46.9 91.9L47.2 92.1L47.6 92.3L47.9 92.5L48.3 92.7L48.6 93.0L49.0 93.3L49.3 93.6L49.7 93.9L50.1 94.2L50.4 94.6L50.8 94.9L51.1 95.3L51.5 95.8L51.8 96.3L52.2 96.8L52.5 97.4L52.9 98.0L53.2 98.7L53.6 99.3L53.9 100.0L54.3 100.7L54.6 101.4L55.0 102.1L55.3 102.8L55.7 103.5L56.0 104.2L56.4 105.0L56.8 105.8L57.1 106.6L57.5 107.4L57.8 108.2L58.2 109.1L58.5 110.0L58.9 111.0L59.2 111.9L59.6 112.9L59.9 113.9L60.3 114.9L60.6 116.0L61.0 117.2L61.3 118.4L61.7 119.8L62.0 121.2L62.4 122.8L62.7 124.8L63.1 126.9L63.5 129.0L63.8 131.0L64.2 132.8L64.5 134.6L64.9 136.3L65.2 137.7L65.6 138.9L65.9 139.9L66.3 140.7L66.6 141.6L67.0 142.3L67.3 143.0L67.7 143.7L68.0 144.3L68.4 144.9L68.7 145.5L69.1 146.2L69.4 146.8L69.8 147.4L70.2 148.1L70.5 148.7L70.9 149.3L71.2 149.8L71.6 150.3L71.9 150.8L72.3 151.3L72.6 151.8L73.0 152.4L73.3 153.1L73.7 154.0L74.0 155.3L74.4 157.0L74.7 158.9L75.1 161.1L75.4 163.6L75.8 166.8L76.2 170.9L76.5 174.7L76.9 177.9L77.2 180.9L77.6 184.1L77.9 187.6L78.3 191.3L78.6 194.9L79.0 198.5L79.3 201.7L79.7 204.5L80.0 207.0L80.4 209.9L80.7 213.5L81.1 218.1L81.4 223.5L81.8 229.7L82.1 236.5L82.5 244.0L86.2 205.6L86.4 204.0L86.6 202.6L86.8 201.2L87.0 199.9L87.2 198.8L87.4 197.7L87.6 196.8L87.8 195.9L87.9 195.1L88.1 194.3L88.3 193.7L88.5 193.1L88.7 192.6L88.9 192.2L89.1 191.8L89.2 191.5L89.4 191.3L89.6 191.1L89.8 191.0L90.0 191.0L90.2 191.0L90.3 191.1L90.5 191.3L90.6 191.5L90.8 191.8L90.9 192.2L91.1 192.6L91.2 193.1L91.4 193.7L91.5 194.3L91.7 195.1L91.9 195.9L92.0 196.8L92.2 197.7L92.3 198.8L92.5 199.9L92.6 201.2L92.8 202.6L92.9 204.0L93.1 205.6L96.2 251.7L98.3 215.1L98.4 213.5L98.5 212.1L98.6 210.7L98.7 209.4L98.8 208.3L98.9 207.2L99.0 206.3L99.1 205.4L99.2 204.6L99.4 203.8L99.5 203.2L99.6 202.6L99.7 202.1L99.8 201.7L99.9 201.3L100.0 201.0L100.1 200.8L100.2 200.6L100.3 200.5L100.4 200.5L100.5 200.5L100.6 200.6L100.7 200.8L100.9 201.0L101.0 201.3L101.1 201.7L101.2 202.1L101.3 202.6L101.4 203.2L101.5 203.8L101.6 204.6L101.8 205.4L101.9 206.3L102.0 207.2L102.1 208.3L102.2 209.4L102.3 210.7L102.4 212.1L102.5 213.5L102.7 215.1L104.9 237.0L107.2 211.4L107.4 209.8L107.5 208.4L107.6 207.0L107.7 205.7L107.8 204.6L108.0 203.5L108.1 202.6L108.2 201.7L108.3 200.9L108.4 200.1L108.5 199.5L108.7 198.9L108.8 198.4L108.9 198.0L109.0 197.6L109.1 197.3L109.2 197.1L109.4 196.9L109.5 196.8L109.6 196.8L109.7 196.8L109.8 196.9L109.9 197.1L110.0 197.3L110.1 197.6L110.2 198.0L110.3 198.4L110.4 198.9L110.5 199.5L110.5 200.1L110.6 200.9L110.7 201.7L110.8 202.6L110.9 203.5L111.0 204.6L111.1 205.7L111.2 207.0L111.3 208.4L111.4 209.8L111.5 211.4L113.4 251.7L115.5 217.6L115.6 216.0L115.7 214.6L115.8 213.2L115.9 211.9L116.0 210.8L116.1 209.7L116.2 208.8L116.3 207.9L116.4 207.1L116.5 206.3L116.7 205.7L116.8 205.1L116.9 204.6L117.0 204.2L117.1 203.8L117.2 203.5L117.3 203.3L117.4 203.1L117.5 203.0L117.6 203.0L117.7 203.0L117.8 203.1L117.9 203.3L118.0 203.5L118.1 203.8L118.2 204.2L118.3 204.6L118.4 205.1L118.5 205.7L118.6 206.3L118.7 207.1L118.8 207.9L118.9 208.8L119.0 209.7L119.1 210.8L119.2 211.9L119.3 213.2L119.4 214.6L119.5 216.0L119.6 217.6L121.6 251.7L123.8 207.9L123.9 206.3L124.0 204.9L124.1 203.5L124.2 202.2L124.3 201.1L124.5 200.0L124.6 199.1L124.7 198.2L124.8 197.4L124.9 196.6L125.0 196.0L125.1 195.4L125.2 194.9L125.3 194.5L125.5 194.1L125.6 193.8L125.7 193.6L125.8 193.4L125.9 193.3L126.0 193.3L126.1 193.3L126.2 193.4L126.3 193.6L126.4 193.8L126.5 194.1L126.6 194.5L126.7 194.9L126.8 195.4L126.9 196.0L127.0 196.6L127.1 197.4L127.2 198.2L127.3 199.1L127.4 200.0L127.5 201.1L127.6 202.2L127.7 203.5L127.8 204.9L127.9 206.3L128.0 207.9L129.9 251.7L131.8 207.1L131.9 205.5L132.0 204.1L132.1 202.7L132.2 201.4L132.3 200.3L132.4 199.2L132.5 198.3L132.6 197.4L132.7 196.6L132.8 195.8L132.8 195.2L132.9 194.6L133.0 194.1L133.1 193.7L133.2 193.3L133.3 193.0L133.4 192.8L133.5 192.6L133.6 192.5L133.7 192.5L133.8 192.5L134.0 192.6L134.1 192.8L134.2 193.0L134.4 193.3L134.5 193.7L134.6 194.1L134.8 194.6L134.9 195.2L135.0 195.8L135.2 196.6L135.3 197.4L135.4 198.3L135.6 199.2L135.7 200.3L135.8 201.4L136.0 202.7L136.1 204.1L136.2 205.5L136.3 207.1L139.0 240.0L139.4 228.7L139.7 218.3L140.1 209.1L140.4 201.2L140.8 194.7L141.1 189.3L141.5 184.6L141.8 180.2L142.2 175.6L142.6 170.8L142.9 165.9L143.3 161.5L143.6 157.8L144.0 154.8L144.3 152.1L144.7 149.7L145.0 147.4L145.4 145.2L145.7 143.2L146.1 141.5L146.5 139.8L146.8 138.1L147.2 136.5L147.5 134.7L147.9 132.7L148.2 130.6L148.6 128.4L148.9 126.0L149.3 123.3L149.7 119.9L150.0 115.1L150.4 110.6L150.7 107.2L151.1 104.2L151.4 101.7L151.8 99.7L152.1 98.0L152.5 96.5L152.8 95.2L153.2 94.1L153.6 93.3L153.9 92.6L154.3 92.1L154.6 91.7L155.0 91.3L155.3 90.8L155.7 90.3L156.0 89.7L156.4 89.0L156.8 88.3L157.1 87.5L157.5 86.6L157.8 85.7L158.2 84.7L158.5 83.6L158.9 82.5L159.2 81.4L159.6 80.1L160.0 78.8L160.3 77.7L160.7 77.0L161.0 76.3L161.4 75.8L161.7 75.6L162.1 75.8L162.4 76.3L162.8 77.1L163.1 77.9L163.5 79.3L163.9 80.9L164.2 82.4L164.6 84.0L164.9 85.7L165.3 87.4L165.6 89.1L166.0 90.9L166.3 92.7L166.7 94.5L167.1 92.3L167.4 90.1L167.8 87.8L168.2 85.4L168.5 82.9L168.9 80.4L169.2 77.5L169.6 73.6L170.0 69.3L170.3 66.0L170.7 63.6L171.1 62.3L171.4 61.3L171.8 60.8L172.1 60.3L172.5 60.4L172.9 60.8L173.2 61.4L173.6 62.4L174.0 63.8L174.3 66.3L174.7 69.6L175.0 73.9L175.4 77.7L175.8 80.5L176.1 83.0L176.5 85.5L176.9 87.9L177.2 90.1L177.6 92.4L178.0 94.5L178.3 92.7L178.7 90.9L179.0 89.1L179.4 87.4L179.7 85.7L180.1 84.0L180.5 82.4L180.8 80.9L181.2 79.2L181.5 77.9L181.9 77.0L182.3 76.3L182.6 75.8L183.0 75.6L183.3 75.7L183.7 76.2L184.0 76.8L184.4 77.4L184.8 78.3L185.1 79.4L185.5 80.5L185.8 81.7L186.2 82.7L186.6 83.7L186.9 84.6L187.3 85.5L187.6 86.4L188.0 87.2L188.4 88.0L188.7 88.7L189.1 89.4L189.4 90.0L189.8 90.6L190.1 91.1L190.5 91.5L190.9 91.9L191.2 92.4L191.6 92.9L191.9 93.7L192.3 94.7L192.7 95.8L193.0 97.3L193.4 98.8L193.7 100.6L194.1 102.9L194.4 105.7L194.8 108.9L195.2 112.8L195.5 117.8L195.9 121.9L196.2 124.8L196.6 127.4L197.0 129.7L197.3 131.8L197.7 133.9L198.0 135.7L198.4 137.4L198.7 139.1L199.1 140.7L199.5 142.5L199.8 144.4L200.2 146.5L200.5 148.7L200.9 151.1L201.3 153.7L201.6 156.6L202.0 160.0L202.3 164.2L202.7 168.9L203.1 173.8L203.4 178.5L203.8 182.9L204.1 187.3L204.5 192.4L204.8 198.7L205.2 207.2L205.6 217.8L205.9 230.3L206.3 244.0L208.6 205.6L208.7 204.0L208.8 202.6L208.9 201.2L209.1 199.9L209.2 198.8L209.3 197.7L209.4 196.8L209.5 195.9L209.6 195.1L209.7 194.3L209.9 193.7L210.0 193.1L210.1 192.6L210.2 192.2L210.3 191.8L210.4 191.5L210.6 191.3L210.7 191.1L210.8 191.0L210.9 191.0L211.0 191.0L211.1 191.1L211.2 191.3L211.3 191.5L211.4 191.8L211.5 192.2L211.6 192.6L211.7 193.1L211.8 193.7L211.9 194.3L211.9 195.1L212.0 195.9L212.1 196.8L212.2 197.7L212.3 198.8L212.4 199.9L212.5 201.2L212.6 202.6L212.7 204.0L212.8 205.6L214.7 251.7L216.7 215.1L216.7 213.5L216.8 212.1L216.9 210.7L217.0 209.4L217.1 208.3L217.2 207.2L217.3 206.3L217.4 205.4L217.5 204.6L217.6 203.8L217.7 203.2L217.8 202.6L217.9 202.1L218.0 201.7L218.1 201.3L218.2 201.0L218.3 200.8L218.4 200.6L218.5 200.5L218.6 200.5L218.7 200.5L218.8 200.6L218.9 200.8L219.0 201.0L219.2 201.3L219.3 201.7L219.4 202.1L219.5 202.6L219.6 203.2L219.7 203.8L219.8 204.6L219.9 205.4L220.0 206.3L220.1 207.2L220.3 208.3L220.4 209.4L220.5 210.7L220.6 212.1L220.7 213.5L220.8 215.1L223.0 237.0L225.0 211.4L225.1 209.8L225.2 208.4L225.3 207.0L225.4 205.7L225.5 204.6L225.6 203.5L225.7 202.6L225.8 201.7L225.9 200.9L226.0 200.1L226.1 199.5L226.2 198.9L226.3 198.4L226.4 198.0L226.5 197.6L226.6 197.3L226.7 197.1L226.8 196.9L226.9 196.8L227.0 196.8L227.1 196.8L227.2 196.9L227.3 197.1L227.4 197.3L227.5 197.6L227.6 198.0L227.7 198.4L227.8 198.9L227.9 199.5L228.1 200.1L228.2 200.9L228.3 201.7L228.4 202.6L228.5 203.5L228.6 204.6L228.7 205.7L228.8 207.0L228.9 208.4L229.0 209.8L229.1 211.4L231.2 251.7L233.1 217.6L233.2 216.0L233.3 214.6L233.4 213.2L233.5 211.9L233.6 210.8L233.7 209.7L233.8 208.8L233.9 207.9L234.0 207.1L234.1 206.3L234.1 205.7L234.2 205.1L234.3 204.6L234.4 204.2L234.5 203.8L234.6 203.5L234.7 203.3L234.8 203.1L234.9 203.0L235.0 203.0L235.1 203.0L235.2 203.1L235.4 203.3L235.5 203.5L235.6 203.8L235.7 204.2L235.8 204.6L235.9 205.1L236.1 205.7L236.2 206.3L236.3 207.1L236.4 207.9L236.5 208.8L236.6 209.7L236.8 210.8L236.9 211.9L237.0 213.2L237.1 214.6L237.2 216.0L237.4 217.6L239.7 251.7L242.0 207.9L242.1 206.3L242.2 204.9L242.3 203.5L242.4 202.2L242.5 201.1L242.6 200.0L242.7 199.1L242.9 198.2L243.0 197.4L243.1 196.6L243.2 196.0L243.3 195.4L243.4 194.9L243.5 194.5L243.6 194.1L243.8 193.8L243.9 193.6L244.0 193.4L244.1 193.3L244.2 193.3L244.3 193.3L244.4 193.4L244.5 193.6L244.6 193.8L244.7 194.1L244.8 194.5L244.9 194.9L245.0 195.4L245.1 196.0L245.3 196.6L245.4 197.4L245.5 198.2L245.6 199.1L245.7 200.0L245.8 201.1L245.9 202.2L246.0 203.5L246.1 204.9L246.2 206.3L246.3 207.9L248.4 251.7L251.5 207.1L251.7 205.5L251.8 204.1L252.0 202.7L252.1 201.4L252.3 200.3L252.4 199.2L252.6 198.3L252.7 197.4L252.9 196.6L253.1 195.8L253.2 195.2L253.4 194.6L253.5 194.1L253.7 193.7L253.8 193.3L254.0 193.0L254.1 192.8L254.3 192.6L254.4 192.5L254.6 192.5L254.8 192.5L255.0 192.6L255.2 192.8L255.3 193.0L255.5 193.3L255.7 193.7L255.9 194.1L256.1 194.6L256.3 195.2L256.5 195.8L256.7 196.6L256.8 197.4L257.0 198.3L257.2 199.2L257.4 200.3L257.6 201.4L257.8 202.7L258.0 204.1L258.2 205.5L258.3 207.1L262.1 240.0L262.4 232.2L262.8 224.9L263.1 218.2L263.5 212.2L263.9 207.0L264.2 202.5L264.6 198.5L264.9 194.9L265.3 191.8L265.6 189.2L266.0 186.9L266.3 184.9L266.7 183.1L267.0 181.4L267.4 179.7L267.7 178.1L268.1 176.7L268.4 175.1L268.8 172.8L269.1 170.0L269.5 167.0L269.8 164.4L270.2 162.2L270.5 160.1L270.9 158.2L271.2 156.4L271.6 154.9L272.0 153.6L272.3 152.7L272.7 151.9L273.0 151.1L273.4 150.5L273.7 149.9L274.1 149.3L274.4 148.7L274.8 148.0L275.1 147.4L275.5 146.8L275.8 146.2L276.2 145.6L276.5 145.0L276.9 144.3L277.2 143.4L277.6 142.6L277.9 141.6L278.3 140.5L278.6 139.3L279.0 138.0L279.3 136.3L279.7 134.3L280.1 132.1L280.4 130.0L280.8 128.3L281.1 126.6L281.5 125.1L281.8 123.6L282.2 122.2L282.5 120.8L282.9 119.5L283.2 118.2L283.6 116.9L283.9 115.7L284.3 114.6L284.6 113.4L285.0 112.3L285.3 111.3L285.7 110.2L286.0 109.2L286.4 108.3L286.7 107.4L287.1 106.5L287.5 105.7L287.8 104.9L288.2 104.2L288.5 103.5L288.9 102.8L289.2 102.1L289.6 101.4L289.9 100.8L290.3 100.1L290.6 99.3L291.0 98.5L291.3 97.7L291.7 97.0L292.0 96.2L292.4 95.6L292.7 95.2L293.1 94.8L293.4 94.4L293.8 94.1L294.1 93.7L294.5 93.4L294.8 93.2L295.2 92.9L295.6 92.7L295.9 92.5L296.3 92.2L296.6 92.0L297.0 91.8L297.3 91.7L297.7 91.5L298.0 91.3L298.4 91.2L298.7 91.0L299.1 90.9L299.4 90.7L299.8 90.6L300.1 90.4L300.5 90.3L300.8 90.2L301.2 90.0L301.5 89.9L301.9 89.7L302.2 89.6L302.6 89.4L302.9 89.2L303.3 89.0L303.7 88.9L304.0 88.7L304.4 88.5L304.7 88.3L305.1 88.1L305.4 87.9L305.8 87.7L306.1 87.5L306.5 87.3L306.8 87.1L307.2 86.9L307.5 86.7L307.9 86.5L308.2 86.3L308.6 86.1L308.9 85.9L309.3 85.7L309.6 85.5L310.0 85.3L310.3 85.1L310.7 84.9L311.0 84.7L311.4 84.5L311.8 84.3L312.1 84.1L312.5 83.9L312.8 83.7L313.2 83.5L313.5 83.4L313.9 83.2L314.2 83.0L314.6 82.9L314.9 82.8L315.3 82.6L315.6 82.5L316.0 82.4L316.3 82.3L316.7 82.2L317.0 82.1L317.4 82.0L317.7 82.0L318.1 81.9L318.4 81.8L318.8 81.7L319.2 81.6L319.5 81.6L319.9 81.5L320.2 81.4L320.6 81.4L320.9 81.3L321.3 81.3L321.6 81.2L322.0 81.2L322.3 81.1L322.7 81.1L323.0 81.0L323.4 81.0L323.7 80.9L324.1 80.9L324.4 80.9L324.8 80.8L325.1 80.8L325.5 80.8L325.8 80.8L326.2 80.7L326.5 80.7L326.9 80.7" stroke="#0000ff" stroke-width="0.95"/>
<path d="M17.6 83.2L18.0 83.2L18.3 83.3L18.7 83.3L19.0 83.4L19.4 83.4L19.7 83.5L20.1 83.5L20.4 83.6L20.8 83.7L21.1 83.7L21.5 83.8L21.8 83.9L22.2 83.9L22.5 84.0L22.9 84.1L23.2 84.2L23.6 84.3L24.0 84.3L24.3 84.4L24.7 84.5L25.0 84.6L25.4 84.7L25.7 84.8L26.1 84.9L26.4 85.0L26.8 85.1L27.1 85.2L27.5 85.4L27.8 85.5L28.2 85.6L28.5 85.7L28.9 85.9L29.2 86.0L29.6 86.1L30.0 86.3L30.3 86.4L30.7 86.6L31.0 86.7L31.4 86.9L31.7 87.0L32.1 87.2L32.4 87.3L32.8 87.4L33.1 87.6L33.5 87.7L33.8 87.9L34.2 88.0L34.5 88.2L34.9 88.3L35.3 88.5L35.6 88.7L36.0 88.8L36.3 89.0L36.7 89.1L37.0 89.3L37.4 89.5L37.7 89.6L38.1 89.8L38.4 89.9L38.8 90.1L39.1 90.2L39.5 90.4L39.8 90.5L40.2 90.7L40.5 90.8L40.9 90.9L41.3 91.1L41.6 91.2L42.0 91.3L42.3 91.4L42.7 91.6L43.0 91.7L43.4 91.8L43.7 91.9L44.1 92.0L44.4 92.2L44.8 92.3L45.1 92.4L45.5 92.6L45.8 92.7L46.2 92.9L46.5 93.0L46.9 93.2L47.3 93.4L47.6 93.5L48.0 93.7L48.3 93.8L48.7 94.0L49.0 94.2L49.4 94.4L49.7 94.6L50.1 94.9L50.4 95.1L50.8 95.4L51.1 95.7L51.5 96.1L51.8 96.6L52.2 97.1L52.5 97.6L52.9 98.3L53.3 98.9L53.6 99.6L54.0 100.3L54.3 101.0L54.7 101.6L55.0 102.3L55.4 103.0L55.7 103.7L56.1 104.4L56.4 105.2L56.8 105.9L57.1 106.7L57.5 107.5L57.8 108.4L58.2 109.2L58.5 110.1L58.9 111.0L59.3 112.0L59.6 112.9L60.0 113.9L60.3 115.0L60.7 116.1L61.0 117.2L61.4 118.5L61.7 119.9L62.1 121.3L62.4 123.2L62.8 125.4L63.1 127.8L63.5 130.1L63.8 132.2L64.2 134.0L64.5 135.6L64.9 137.1L65.3 138.4L65.6 139.3L66.0 140.1L66.3 140.8L66.7 141.4L67.0 142.0L67.4 142.6L67.7 143.1L68.1 143.6L68.4 144.1L68.8 144.6L69.1 145.2L69.5 145.9L69.8 146.6L70.2 147.2L70.6 147.9L70.9 148.4L71.3 148.9L71.6 149.4L72.0 150.0L72.3 150.5L72.7 151.2L73.0 152.1L73.4 153.1L73.7 154.3L74.1 155.8L74.4 157.5L74.8 159.4L75.1 161.6L75.5 164.0L75.8 167.2L76.2 171.4L76.6 175.2L76.9 178.3L77.3 181.3L77.6 184.7L78.0 188.4L78.3 192.3L78.7 196.2L79.0 199.8L79.4 203.0L79.7 205.5L80.1 208.0L80.4 211.3L80.8 216.1L81.1 222.8L81.5 231.3L81.8 241.1L82.2 251.7L86.0 205.6L86.1 204.0L86.3 202.6L86.5 201.2L86.7 199.9L86.9 198.8L87.1 197.7L87.3 196.8L87.5 195.9L87.6 195.1L87.8 194.3L88.0 193.7L88.2 193.1L88.4 192.6L88.6 192.2L88.8 191.8L89.0 191.5L89.1 191.3L89.3 191.1L89.5 191.0L89.7 191.0L89.8 191.0L90.0 191.1L90.1 191.3L90.3 191.5L90.4 191.8L90.5 192.2L90.7 192.6L90.8 193.1L91.0 193.7L91.1 194.3L91.2 195.1L91.4 195.9L91.5 196.8L91.7 197.7L91.8 198.8L91.9 199.9L92.1 201.2L92.2 202.6L92.4 204.0L92.5 205.6L95.3 251.7L97.8 210.1L97.9 208.5L98.0 207.1L98.2 205.7L98.3 204.4L98.4 203.3L98.5 202.2L98.7 201.3L98.8 200.4L98.9 199.6L99.0 198.8L99.2 198.2L99.3 197.6L99.4 197.1L99.5 196.7L99.7 196.3L99.8 196.0L99.9 195.8L100.0 195.6L100.2 195.5L100.3 195.5L100.4 195.5L100.5 195.6L100.7 195.8L100.8 196.0L100.9 196.3L101.0 196.7L101.1 197.1L101.2 197.6L101.4 198.2L101.5 198.8L101.6 199.6L101.7 200.4L101.8 201.3L101.9 202.2L102.1 203.3L102.2 204.4L102.3 205.7L102.4 207.1L102.5 208.5L102.7 210.1L105.0 251.7L107.3 206.5L107.4 204.9L107.5 203.5L107.6 202.1L107.8 200.8L107.9 199.7L108.0 198.6L108.1 197.7L108.2 196.8L108.3 196.0L108.4 195.2L108.6 194.6L108.7 194.0L108.8 193.5L108.9 193.1L109.0 192.7L109.1 192.4L109.3 192.2L109.4 192.0L109.5 191.9L109.6 191.9L109.7 191.9L109.8 192.0L109.9 192.2L110.0 192.4L110.1 192.7L110.2 193.1L110.2 193.5L110.3 194.0L110.4 194.6L110.5 195.2L110.6 196.0L110.7 196.8L110.8 197.7L110.9 198.6L111.0 199.7L111.1 200.8L111.2 202.1L111.3 203.5L111.4 204.9L111.4 206.5L113.3 251.7L115.4 215.8L115.6 214.2L115.7 212.8L115.8 211.4L115.9 210.1L116.0 209.0L116.1 207.9L116.2 207.0L116.3 206.1L116.4 205.3L116.5 204.5L116.6 203.9L116.7 203.3L116.8 202.8L117.0 202.4L117.1 202.0L117.2 201.7L117.3 201.5L117.4 201.3L117.5 201.2L117.6 201.2L117.7 201.2L117.8 201.3L117.9 201.5L118.0 201.7L118.1 202.0L118.2 202.4L118.3 202.8L118.4 203.3L118.5 203.9L118.6 204.5L118.7 205.3L118.8 206.1L118.9 207.0L119.0 207.9L119.1 209.0L119.2 210.1L119.3 211.4L119.4 212.8L119.5 214.2L119.5 215.8L121.5 251.7L123.5 213.6L123.6 212.0L123.7 210.6L123.8 209.2L123.9 207.9L124.0 206.8L124.1 205.7L124.2 204.8L124.3 203.9L124.4 203.1L124.5 202.3L124.6 201.7L124.7 201.1L124.8 200.6L124.9 200.2L125.0 199.8L125.1 199.5L125.2 199.3L125.3 199.1L125.4 199.0L125.5 199.0L125.6 199.0L125.7 199.1L125.8 199.3L125.9 199.5L126.0 199.8L126.1 200.2L126.2 200.6L126.3 201.1L126.4 201.7L126.5 202.3L126.6 203.1L126.7 203.9L126.8 204.8L126.9 205.7L127.0 206.8L127.1 207.9L127.2 209.2L127.3 210.6L127.4 212.0L127.5 213.6L129.6 251.7L131.6 204.8L131.8 203.2L131.9 201.8L132.0 200.4L132.1 199.1L132.2 198.0L132.3 196.9L132.4 196.0L132.5 195.1L132.6 194.3L132.7 193.5L132.8 192.9L132.9 192.3L133.0 191.8L133.1 191.4L133.2 191.0L133.3 190.7L133.4 190.5L133.5 190.3L133.6 190.2L133.7 190.2L133.8 190.2L134.0 190.3L134.1 190.5L134.2 190.7L134.3 191.0L134.5 191.4L134.6 191.8L134.7 192.3L134.9 192.9L135.0 193.5L135.1 194.3L135.3 195.1L135.4 196.0L135.5 196.9L135.7 198.0L135.8 199.1L135.9 200.4L136.0 201.8L136.2 203.2L136.3 204.8L138.9 251.7L139.3 237.7L139.6 224.7L140.0 213.2L140.3 203.6L140.7 196.2L141.0 190.4L141.4 185.5L141.8 181.2L142.1 176.8L142.5 172.2L142.8 167.7L143.2 163.5L143.5 159.6L143.9 156.3L144.2 153.3L144.6 150.6L145.0 148.0L145.3 145.7L145.7 143.6L146.0 141.8L146.4 140.1L146.7 138.4L147.1 136.8L147.5 135.0L147.8 133.1L148.2 131.0L148.5 128.8L148.9 126.5L149.2 123.8L149.6 120.6L149.9 115.9L150.3 111.2L150.7 107.7L151.0 104.6L151.4 102.0L151.7 99.9L152.1 98.2L152.4 96.7L152.8 95.4L153.2 94.2L153.5 93.4L153.9 92.7L154.2 92.3L154.6 91.9L154.9 91.5L155.3 91.1L155.7 90.6L156.0 90.1L156.4 89.5L156.7 88.9L157.1 88.3L157.4 87.5L157.8 86.8L158.1 85.9L158.5 85.1L158.9 84.1L159.2 83.2L159.6 82.0L159.9 80.9L160.3 79.9L160.6 79.1L161.0 78.4L161.4 77.9L161.7 77.7L162.1 77.9L162.4 78.4L162.8 79.1L163.1 79.9L163.5 81.1L163.8 82.6L164.2 84.0L164.6 85.3L164.9 86.7L165.3 88.5L165.6 91.0L166.0 95.4L166.3 101.5L166.7 108.5L167.1 101.9L167.4 96.7L167.8 92.7L168.2 89.5L168.5 86.9L168.9 84.5L169.2 82.0L169.6 79.1L170.0 76.0L170.3 71.9L170.7 68.8L171.1 66.7L171.4 65.1L171.8 64.1L172.1 63.6L172.5 63.6L172.9 64.2L173.2 65.3L173.6 66.9L174.0 69.0L174.3 72.3L174.7 76.3L175.0 79.4L175.4 82.1L175.8 84.7L176.1 87.0L176.5 89.6L176.9 92.8L177.2 96.8L177.6 102.0L178.0 108.5L178.3 101.6L178.7 95.6L179.0 91.1L179.4 88.6L179.7 86.8L180.1 85.4L180.4 84.1L180.8 82.7L181.1 81.3L181.5 80.1L181.9 79.2L182.2 78.5L182.6 78.0L182.9 77.7L183.3 77.8L183.6 78.2L184.0 78.8L184.3 79.4L184.7 80.1L185.1 81.1L185.4 82.2L185.8 83.1L186.1 84.0L186.5 84.8L186.8 85.6L187.2 86.4L187.5 87.1L187.9 87.8L188.3 88.4L188.6 89.0L189.0 89.6L189.3 90.1L189.7 90.6L190.0 91.1L190.4 91.5L190.7 91.9L191.1 92.3L191.4 92.7L191.8 93.4L192.2 94.2L192.5 95.3L192.9 96.6L193.2 98.2L193.6 99.8L193.9 101.9L194.3 104.4L194.6 107.4L195.0 110.8L195.4 115.4L195.7 120.1L196.1 123.4L196.4 126.1L196.8 128.5L197.1 130.7L197.5 132.8L197.8 134.7L198.2 136.5L198.5 138.1L198.9 139.7L199.3 141.4L199.6 143.2L200.0 145.2L200.3 147.5L200.7 149.9L201.0 152.6L201.4 155.5L201.7 158.6L202.1 162.3L202.5 166.4L202.8 170.8L203.2 175.4L203.5 179.8L203.9 184.0L204.2 188.5L204.6 193.9L204.9 200.8L205.3 210.4L205.6 222.5L206.0 236.5L206.4 251.7L208.6 205.6L208.7 204.0L208.9 202.6L209.0 201.2L209.1 199.9L209.2 198.8L209.3 197.7L209.4 196.8L209.5 195.9L209.7 195.1L209.8 194.3L209.9 193.7L210.0 193.1L210.1 192.6L210.2 192.2L210.3 191.8L210.4 191.5L210.6 191.3L210.7 191.1L210.8 191.0L210.9 191.0L211.0 191.0L211.1 191.1L211.2 191.3L211.3 191.5L211.4 191.8L211.5 192.2L211.6 192.6L211.7 193.1L211.8 193.7L211.9 194.3L212.0 195.1L212.1 195.9L212.2 196.8L212.3 197.7L212.4 198.8L212.5 199.9L212.6 201.2L212.7 202.6L212.8 204.0L213.0 205.6L215.0 251.7L217.1 210.1L217.2 208.5L217.3 207.1L217.4 205.7L217.5 204.4L217.6 203.3L217.7 202.2L217.8 201.3L217.9 200.4L218.0 199.6L218.1 198.8L218.2 198.2L218.3 197.6L218.4 197.1L218.5 196.7L218.6 196.3L218.7 196.0L218.8 195.8L218.9 195.6L219.0 195.5L219.1 195.5L219.2 195.5L219.3 195.6L219.4 195.8L219.5 196.0L219.6 196.3L219.7 196.7L219.8 197.1L219.9 197.6L220.0 198.2L220.1 198.8L220.2 199.6L220.3 200.4L220.4 201.3L220.5 202.2L220.6 203.3L220.7 204.4L220.8 205.7L220.9 207.1L221.0 208.5L221.1 210.1L223.1 251.7L225.1 206.5L225.1 204.9L225.2 203.5L225.3 202.1L225.4 200.8L225.5 199.7L225.6 198.6L225.7 197.7L225.8 196.8L225.9 196.0L226.0 195.2L226.1 194.6L226.2 194.0L226.3 193.5L226.4 193.1L226.5 192.7L226.6 192.4L226.7 192.2L226.8 192.0L226.9 191.9L227.0 191.9L227.1 191.9L227.2 192.0L227.3 192.2L227.4 192.4L227.5 192.7L227.6 193.1L227.8 193.5L227.9 194.0L228.0 194.6L228.1 195.2L228.2 196.0L228.3 196.8L228.4 197.7L228.5 198.6L228.6 199.7L228.7 200.8L228.8 202.1L228.9 203.5L229.0 204.9L229.2 206.5L231.3 251.7L233.2 215.8L233.2 214.2L233.3 212.8L233.4 211.4L233.5 210.1L233.6 209.0L233.7 207.9L233.8 207.0L233.9 206.1L234.0 205.3L234.1 204.5L234.2 203.9L234.3 203.3L234.4 202.8L234.4 202.4L234.5 202.0L234.6 201.7L234.7 201.5L234.8 201.3L234.9 201.2L235.0 201.2L235.1 201.2L235.2 201.3L235.3 201.5L235.5 201.7L235.6 202.0L235.7 202.4L235.8 202.8L235.9 203.3L236.0 203.9L236.2 204.5L236.3 205.3L236.4 206.1L236.5 207.0L236.6 207.9L236.7 209.0L236.8 210.1L237.0 211.4L237.1 212.8L237.2 214.2L237.3 215.8L239.6 251.7L242.0 213.6L242.1 212.0L242.2 210.6L242.3 209.2L242.4 207.9L242.5 206.8L242.7 205.7L242.8 204.8L242.9 203.9L243.0 203.1L243.1 202.3L243.2 201.7L243.4 201.1L243.5 200.6L243.6 200.2L243.7 199.8L243.8 199.5L243.9 199.3L244.1 199.1L244.2 199.0L244.3 199.0L244.4 199.0L244.6 199.1L244.7 199.3L244.8 199.5L244.9 199.8L245.1 200.2L245.2 200.6L245.3 201.1L245.4 201.7L245.6 202.3L245.7 203.1L245.8 203.9L245.9 204.8L246.1 205.7L246.2 206.8L246.3 207.9L246.4 209.2L246.6 210.6L246.7 212.0L246.8 213.6L249.3 251.7L252.1 204.8L252.2 203.2L252.4 201.8L252.5 200.4L252.7 199.1L252.8 198.0L252.9 196.9L253.1 196.0L253.2 195.1L253.4 194.3L253.5 193.5L253.6 192.9L253.8 192.3L253.9 191.8L254.1 191.4L254.2 191.0L254.3 190.7L254.5 190.5L254.6 190.3L254.8 190.2L254.9 190.2L255.1 190.2L255.3 190.3L255.5 190.5L255.6 190.7L255.8 191.0L256.0 191.4L256.2 191.8L256.4 192.3L256.6 192.9L256.8 193.5L257.0 194.3L257.1 195.1L257.3 196.0L257.5 196.9L257.7 198.0L257.9 199.1L258.1 200.4L258.3 201.8L258.4 203.2L258.6 204.8L262.4 251.7L262.7 233.3L263.1 217.2L263.4 206.4L263.8 201.5L264.1 197.9L264.5 195.1L264.8 192.9L265.2 190.7L265.5 188.5L265.9 186.5L266.2 184.7L266.6 182.9L266.9 181.2L267.3 179.5L267.7 178.1L268.0 176.6L268.4 174.9L268.7 172.7L269.1 169.8L269.4 166.8L269.8 164.2L270.1 162.0L270.5 159.9L270.8 157.9L271.2 156.1L271.5 154.5L271.9 153.2L272.2 152.2L272.6 151.2L272.9 150.3L273.3 149.6L273.6 148.8L274.0 148.1L274.4 147.4L274.7 146.7L275.1 146.1L275.4 145.5L275.8 144.9L276.1 144.3L276.5 143.7L276.8 143.0L277.2 142.2L277.5 141.5L277.9 140.7L278.2 139.8L278.6 138.9L278.9 137.7L279.3 136.2L279.6 134.2L280.0 131.9L280.3 129.8L280.7 128.1L281.1 126.5L281.4 125.0L281.8 123.5L282.1 122.2L282.5 120.8L282.8 119.5L283.2 118.3L283.5 117.1L283.9 115.9L284.2 114.8L284.6 113.6L284.9 112.6L285.3 111.5L285.6 110.5L286.0 109.5L286.3 108.6L286.7 107.7L287.0 106.8L287.4 106.0L287.8 105.3L288.1 104.6L288.5 103.9L288.8 103.2L289.2 102.6L289.5 101.9L289.9 101.3L290.2 100.6L290.6 100.0L290.9 99.3L291.3 98.6L291.6 97.9L292.0 97.3L292.3 96.7L292.7 96.2L293.0 95.8L293.4 95.4L293.7 95.1L294.1 94.7L294.5 94.4L294.8 94.2L295.2 93.9L295.5 93.7L295.9 93.5L296.2 93.2L296.6 93.0L296.9 92.8L297.3 92.7L297.6 92.5L298.0 92.3L298.3 92.1L298.7 92.0L299.0 91.8L299.4 91.7L299.7 91.6L300.1 91.4L300.4 91.3L300.8 91.2L301.2 91.0L301.5 90.9L301.9 90.8L302.2 90.6L302.6 90.5L302.9 90.3L303.3 90.2L303.6 90.0L304.0 89.9L304.3 89.7L304.7 89.5L305.0 89.4L305.4 89.2L305.7 89.0L306.1 88.9L306.4 88.7L306.8 88.5L307.2 88.4L307.5 88.2L307.9 88.0L308.2 87.9L308.6 87.7L308.9 87.6L309.3 87.4L309.6 87.2L310.0 87.1L310.3 86.9L310.7 86.8L311.0 86.6L311.4 86.4L311.7 86.3L312.1 86.1L312.4 86.0L312.8 85.8L313.1 85.6L313.5 85.5L313.9 85.3L314.2 85.2L314.6 85.1L314.9 84.9L315.3 84.8L315.6 84.7L316.0 84.6L316.3 84.5L316.7 84.4L317.0 84.3L317.4 84.2L317.7 84.1L318.1 84.1L318.4 84.0L318.8 83.9L319.1 83.8L319.5 83.7L319.8 83.7L320.2 83.6L320.6 83.6L320.9 83.5L321.3 83.5L321.6 83.4L322.0 83.4L322.3 83.4L322.7 83.4L323.0 83.3L323.4 83.3L323.7 83.3L324.1 83.3L324.4 83.3L324.8 83.2L325.1 83.2L325.5 83.2L325.8 83.2L326.2 83.2L326.5 83.2L326.9 83.2" stroke="#000000" stroke-width="0.95"/>
<path d="M17.6 82.2L18.0 82.2L18.3 82.3L18.7 82.3L19.0 82.3L19.4 82.4L19.7 82.4L20.1 82.4L20.4 82.5L20.8 82.5L21.1 82.6L21.5 82.6L21.8 82.7L22.2 82.7L22.5 82.7L22.9 82.8L23.2 82.8L23.6 82.9L24.0 82.9L24.3 83.0L24.7 83.0L25.0 83.1L25.4 83.1L25.7 83.2L26.1 83.2L26.4 83.3L26.8 83.3L27.1 83.4L27.5 83.5L27.8 83.5L28.2 83.6L28.5 83.7L28.9 83.7L29.2 83.8L29.6 83.9L30.0 84.0L30.3 84.1L30.7 84.2L31.0 84.4L31.4 84.6L31.7 84.7L32.1 84.9L32.4 85.1L32.8 85.3L33.1 85.5L33.5 85.7L33.8 85.9L34.2 86.1L34.5 86.3L34.9 86.5L35.2 86.7L35.6 86.9L36.0 87.0L36.3 87.2L36.7 87.4L37.0 87.5L37.4 87.7L37.7 87.9L38.1 88.0L38.4 88.2L38.8 88.3L39.1 88.5L39.5 88.7L39.8 88.8L40.2 89.0L40.5 89.2L40.9 89.3L41.2 89.5L41.6 89.6L42.0 89.8L42.3 89.9L42.7 90.1L43.0 90.2L43.4 90.4L43.7 90.5L44.1 90.7L44.4 90.8L44.8 90.9L45.1 91.1L45.5 91.2L45.8 91.4L46.2 91.5L46.5 91.7L46.9 91.9L47.2 92.1L47.6 92.3L48.0 92.5L48.3 92.8L48.7 93.0L49.0 93.3L49.4 93.6L49.7 93.9L50.1 94.2L50.4 94.6L50.8 95.0L51.1 95.4L51.5 95.8L51.8 96.3L52.2 96.8L52.5 97.4L52.9 98.0L53.3 98.6L53.6 99.3L54.0 99.9L54.3 100.6L54.7 101.2L55.0 101.9L55.4 102.6L55.7 103.3L56.1 104.0L56.4 104.7L56.8 105.5L57.1 106.3L57.5 107.1L57.8 107.9L58.2 108.7L58.5 109.6L58.9 110.5L59.3 111.5L59.6 112.5L60.0 113.5L60.3 114.6L60.7 115.7L61.0 116.8L61.4 117.9L61.7 119.0L62.1 120.1L62.4 121.2L62.8 122.4L63.1 123.6L63.5 124.8L63.8 126.0L64.2 127.1L64.5 128.3L64.9 129.4L65.3 130.5L65.6 131.5L66.0 132.5L66.3 133.5L66.7 134.4L67.0 135.2L67.4 135.9L67.7 136.6L68.1 137.1L68.4 137.7L68.8 138.2L69.1 138.8L69.5 139.3L69.8 139.9L70.2 140.4L70.5 140.9L70.9 141.5L71.3 142.1L71.6 142.8L72.0 143.7L72.3 144.9L72.7 146.2L73.0 147.7L73.4 149.2L73.7 150.9L74.1 152.6L74.4 154.3L74.8 156.1L75.1 158.0L75.5 160.2L75.8 162.7L76.2 165.9L76.5 170.4L76.9 174.7L77.3 177.9L77.6 180.9L78.0 184.1L78.3 187.7L78.7 191.5L79.0 195.3L79.4 198.7L79.7 201.7L80.1 203.9L80.4 205.9L80.8 208.0L81.1 210.9L81.5 214.8L81.8 219.6L82.2 225.2L82.5 231.4L82.9 238.3L86.3 207.0L86.5 205.4L86.6 204.0L86.8 202.6L87.0 201.3L87.2 200.2L87.3 199.1L87.5 198.2L87.7 197.3L87.8 196.5L88.0 195.7L88.2 195.1L88.3 194.5L88.5 194.0L88.7 193.6L88.9 193.2L89.0 192.9L89.2 192.7L89.4 192.5L89.5 192.4L89.7 192.4L89.8 192.4L90.0 192.5L90.1 192.7L90.3 192.9L90.4 193.2L90.6 193.6L90.7 194.0L90.9 194.5L91.0 195.1L91.2 195.7L91.3 196.5L91.4 197.3L91.6 198.2L91.7 199.1L91.9 200.2L92.0 201.3L92.2 202.6L92.3 204.0L92.5 205.4L92.6 207.0L95.5 251.7L97.9 213.6L98.0 212.0L98.1 210.6L98.3 209.2L98.4 207.9L98.5 206.8L98.6 205.7L98.7 204.8L98.9 203.9L99.0 203.1L99.1 202.3L99.2 201.7L99.3 201.1L99.5 200.6L99.6 200.2L99.7 199.8L99.8 199.5L99.9 199.3L100.1 199.1L100.2 199.0L100.3 199.0L100.4 199.0L100.5 199.1L100.7 199.3L100.8 199.5L100.9 199.8L101.0 200.2L101.1 200.6L101.2 201.1L101.4 201.7L101.5 202.3L101.6 203.1L101.7 203.9L101.8 204.8L101.9 205.7L102.1 206.8L102.2 207.9L102.3 209.2L102.4 210.6L102.5 212.0L102.7 213.6L105.0 251.7L107.3 220.6L107.4 219.0L107.5 217.6L107.6 216.2L107.8 214.9L107.9 213.8L108.0 212.7L108.1 211.8L108.2 210.9L108.3 210.1L108.4 209.3L108.6 208.7L108.7 208.1L108.8 207.6L108.9 207.2L109.0 206.8L109.1 206.5L109.3 206.3L109.4 206.1L109.5 206.0L109.6 206.0L109.7 206.0L109.8 206.1L109.9 206.3L110.0 206.5L110.1 206.8L110.2 207.2L110.2 207.6L110.3 208.1L110.4 208.7L110.5 209.3L110.6 210.1L110.7 210.9L110.8 211.8L110.9 212.7L111.0 213.8L111.1 214.9L111.2 216.2L111.3 217.6L111.4 219.0L111.4 220.6L113.3 251.7L115.4 219.8L115.6 218.2L115.7 216.8L115.8 215.4L115.9 214.1L116.0 213.0L116.1 211.9L116.2 211.0L116.3 210.1L116.4 209.3L116.5 208.5L116.6 207.9L116.7 207.3L116.8 206.8L117.0 206.4L117.1 206.0L117.2 205.7L117.3 205.5L117.4 205.3L117.5 205.2L117.6 205.2L117.7 205.2L117.8 205.3L117.9 205.5L118.0 205.7L118.1 206.0L118.2 206.4L118.3 206.8L118.4 207.3L118.5 207.9L118.6 208.5L118.7 209.3L118.8 210.1L118.9 211.0L119.0 211.9L119.1 213.0L119.2 214.1L119.3 215.4L119.4 216.8L119.5 218.2L119.5 219.8L121.5 251.7L123.5 218.5L123.6 216.9L123.7 215.5L123.8 214.1L123.9 212.8L124.0 211.7L124.1 210.6L124.2 209.7L124.3 208.8L124.4 208.0L124.5 207.2L124.6 206.6L124.7 206.0L124.8 205.5L124.9 205.1L125.0 204.7L125.1 204.4L125.2 204.2L125.3 204.0L125.4 203.9L125.5 203.9L125.6 203.9L125.7 204.0L125.8 204.2L125.9 204.4L126.0 204.7L126.1 205.1L126.2 205.5L126.3 206.0L126.4 206.6L126.5 207.2L126.6 208.0L126.7 208.8L126.8 209.7L126.9 210.6L127.0 211.7L127.1 212.8L127.2 214.1L127.3 215.5L127.4 216.9L127.5 218.5L129.6 251.7L131.6 207.4L131.7 205.8L131.8 204.4L131.9 203.0L132.0 201.7L132.1 200.6L132.2 199.5L132.3 198.6L132.4 197.7L132.5 196.9L132.6 196.1L132.7 195.5L132.8 194.9L132.9 194.4L133.0 194.0L133.1 193.6L133.2 193.3L133.3 193.1L133.4 192.9L133.5 192.8L133.6 192.8L133.7 192.8L133.9 192.9L134.0 193.1L134.2 193.3L134.3 193.6L134.4 194.0L134.6 194.4L134.7 194.9L134.8 195.5L135.0 196.1L135.1 196.9L135.2 197.7L135.4 198.6L135.5 199.5L135.7 200.6L135.8 201.7L135.9 203.0L136.1 204.4L136.2 205.8L136.3 207.4L139.1 237.0L139.5 226.6L139.8 217.0L140.2 208.3L140.5 200.8L140.9 194.5L141.3 189.1L141.6 184.4L142.0 179.9L142.3 175.3L142.7 170.5L143.0 165.9L143.4 161.6L143.8 157.9L144.1 154.7L144.5 151.7L144.8 149.0L145.2 146.5L145.6 144.3L145.9 142.3L146.3 140.6L146.6 138.9L147.0 137.3L147.3 135.6L147.7 133.7L148.1 131.6L148.4 129.5L148.8 127.2L149.1 124.6L149.5 121.5L149.9 117.3L150.2 112.3L150.6 108.6L150.9 105.4L151.3 102.6L151.6 100.4L152.0 98.6L152.4 97.0L152.7 95.6L153.1 94.5L153.4 93.5L153.8 92.9L154.2 92.3L154.5 91.9L154.9 91.5L155.2 91.1L155.6 90.7L155.9 90.2L156.3 89.6L156.7 89.0L157.0 88.4L157.4 87.7L157.7 86.9L158.1 86.0L158.5 85.2L158.8 84.2L159.2 83.3L159.5 82.2L159.9 81.1L160.2 80.1L160.6 79.4L161.0 78.7L161.3 78.2L161.7 78.0L162.0 78.2L162.4 78.7L162.8 79.3L163.1 80.1L163.5 81.2L163.8 82.5L164.2 83.9L164.5 85.2L164.9 86.7L165.3 88.5L165.6 90.8L166.0 94.6L166.3 99.5L166.7 105.2L167.1 100.8L167.4 96.7L167.8 92.8L168.2 89.5L168.5 86.9L168.9 84.5L169.2 81.9L169.6 79.1L170.0 76.0L170.3 72.0L170.7 69.0L171.1 67.0L171.4 65.5L171.8 64.5L172.1 64.0L172.5 64.0L172.9 64.6L173.2 65.6L173.6 67.2L174.0 69.3L174.3 72.4L174.7 76.3L175.0 79.3L175.4 82.1L175.8 84.7L176.1 87.0L176.5 89.6L176.9 92.9L177.2 96.8L177.6 100.8L178.0 105.2L178.3 99.6L178.7 94.7L179.0 91.0L179.4 88.6L179.7 86.8L180.1 85.3L180.5 84.0L180.8 82.7L181.2 81.3L181.5 80.2L181.9 79.4L182.2 78.7L182.6 78.2L183.0 78.0L183.3 78.1L183.7 78.5L184.0 79.1L184.4 79.7L184.7 80.4L185.1 81.3L185.5 82.3L185.8 83.3L186.2 84.1L186.5 85.0L186.9 85.8L187.2 86.5L187.6 87.2L188.0 87.9L188.3 88.5L188.7 89.1L189.0 89.7L189.4 90.2L189.8 90.7L190.1 91.2L190.5 91.6L190.8 92.0L191.2 92.4L191.5 92.9L191.9 93.6L192.3 94.5L192.6 95.7L193.0 97.1L193.3 98.6L193.7 100.4L194.0 102.6L194.4 105.3L194.8 108.5L195.1 112.2L195.5 117.1L195.8 121.4L196.2 124.4L196.5 127.0L196.9 129.3L197.3 131.5L197.6 133.6L198.0 135.4L198.3 137.1L198.7 138.7L199.0 140.4L199.4 142.1L199.8 144.0L200.1 146.2L200.5 148.6L200.8 151.2L201.2 154.1L201.6 157.3L201.9 160.9L202.3 165.1L202.6 169.6L203.0 174.3L203.3 178.9L203.7 183.3L204.1 187.8L204.4 193.0L204.8 199.1L205.1 206.9L205.5 216.2L205.8 226.7L206.2 238.3L208.6 207.0L208.7 205.4L208.8 204.0L209.0 202.6L209.1 201.3L209.2 200.2L209.3 199.1L209.4 198.2L209.6 197.3L209.7 196.5L209.8 195.7L209.9 195.1L210.0 194.5L210.2 194.0L210.3 193.6L210.4 193.2L210.5 192.9L210.6 192.7L210.8 192.5L210.9 192.4L211.0 192.4L211.1 192.4L211.2 192.5L211.3 192.7L211.4 192.9L211.5 193.2L211.6 193.6L211.7 194.0L211.8 194.5L211.9 195.1L212.0 195.7L212.1 196.5L212.2 197.3L212.3 198.2L212.4 199.1L212.5 200.2L212.6 201.3L212.7 202.6L212.8 204.0L212.9 205.4L213.0 207.0L215.0 251.7L217.1 213.6L217.2 212.0L217.3 210.6L217.4 209.2L217.5 207.9L217.6 206.8L217.7 205.7L217.8 204.8L217.9 203.9L218.0 203.1L218.1 202.3L218.2 201.7L218.3 201.1L218.4 200.6L218.5 200.2L218.6 199.8L218.7 199.5L218.8 199.3L218.9 199.1L219.0 199.0L219.1 199.0L219.2 199.0L219.3 199.1L219.4 199.3L219.5 199.5L219.6 199.8L219.7 200.2L219.8 200.6L219.9 201.1L220.0 201.7L220.1 202.3L220.2 203.1L220.3 203.9L220.4 204.8L220.5 205.7L220.6 206.8L220.7 207.9L220.8 209.2L220.9 210.6L221.0 212.0L221.1 213.6L223.1 251.7L225.1 220.6L225.1 219.0L225.2 217.6L225.3 216.2L225.4 214.9L225.5 213.8L225.6 212.7L225.7 211.8L225.8 210.9L225.9 210.1L226.0 209.3L226.1 208.7L226.2 208.1L226.3 207.6L226.4 207.2L226.5 206.8L226.6 206.5L226.7 206.3L226.8 206.1L226.9 206.0L227.0 206.0L227.1 206.0L227.2 206.1L227.3 206.3L227.4 206.5L227.5 206.8L227.6 207.2L227.8 207.6L227.9 208.1L228.0 208.7L228.1 209.3L228.2 210.1L228.3 210.9L228.4 211.8L228.5 212.7L228.6 213.8L228.7 214.9L228.8 216.2L228.9 217.6L229.0 219.0L229.2 220.6L231.3 251.7L233.2 219.8L233.2 218.2L233.3 216.8L233.4 215.4L233.5 214.1L233.6 213.0L233.7 211.9L233.8 211.0L233.9 210.1L234.0 209.3L234.1 208.5L234.2 207.9L234.3 207.3L234.4 206.8L234.4 206.4L234.5 206.0L234.6 205.7L234.7 205.5L234.8 205.3L234.9 205.2L235.0 205.2L235.1 205.2L235.2 205.3L235.3 205.5L235.5 205.7L235.6 206.0L235.7 206.4L235.8 206.8L235.9 207.3L236.0 207.9L236.2 208.5L236.3 209.3L236.4 210.1L236.5 211.0L236.6 211.9L236.7 213.0L236.8 214.1L237.0 215.4L237.1 216.8L237.2 218.2L237.3 219.8L239.6 251.7L242.0 218.5L242.1 216.9L242.2 215.5L242.3 214.1L242.4 212.8L242.5 211.7L242.7 210.6L242.8 209.7L242.9 208.8L243.0 208.0L243.1 207.2L243.2 206.6L243.4 206.0L243.5 205.5L243.6 205.1L243.7 204.7L243.8 204.4L243.9 204.2L244.1 204.0L244.2 203.9L244.3 203.9L244.4 203.9L244.5 204.0L244.7 204.2L244.8 204.4L244.9 204.7L245.0 205.1L245.1 205.5L245.3 206.0L245.4 206.6L245.5 207.2L245.6 208.0L245.7 208.8L245.9 209.7L246.0 210.6L246.1 211.7L246.2 212.8L246.3 214.1L246.5 215.5L246.6 216.9L246.7 218.5L249.1 251.7L252.0 207.4L252.1 205.8L252.3 204.4L252.4 203.0L252.6 201.7L252.7 200.6L252.9 199.5L253.0 198.6L253.2 197.7L253.3 196.9L253.5 196.1L253.6 195.5L253.7 194.9L253.9 194.4L254.0 194.0L254.2 193.6L254.3 193.3L254.5 193.1L254.6 192.9L254.8 192.8L254.9 192.8L255.1 192.8L255.2 192.9L255.4 193.1L255.6 193.3L255.8 193.6L255.9 194.0L256.1 194.4L256.3 194.9L256.4 195.5L256.6 196.1L256.8 196.9L256.9 197.7L257.1 198.6L257.3 199.5L257.5 200.6L257.6 201.7L257.8 203.0L258.0 204.4L258.1 205.8L258.3 207.4L261.7 237.0L262.1 231.4L262.4 226.0L262.8 220.9L263.1 216.1L263.5 211.5L263.8 207.2L264.2 203.1L264.5 199.2L264.9 195.6L265.2 192.3L265.6 189.4L265.9 186.7L266.3 184.3L266.6 182.1L267.0 180.1L267.3 178.3L267.7 176.8L268.0 175.0L268.4 172.6L268.7 169.5L269.1 166.4L269.5 163.6L269.8 161.2L270.2 158.9L270.5 156.8L270.9 154.8L271.2 153.1L271.6 151.6L271.9 150.2L272.3 148.9L272.6 147.7L273.0 146.5L273.3 145.5L273.7 144.5L274.0 143.5L274.4 142.6L274.7 141.8L275.1 141.1L275.4 140.4L275.8 139.7L276.1 139.0L276.5 138.4L276.9 137.8L277.2 137.1L277.6 136.5L277.9 135.7L278.3 134.8L278.6 133.7L279.0 132.3L279.3 130.9L279.7 129.4L280.0 128.0L280.4 126.7L280.7 125.5L281.1 124.2L281.4 123.0L281.8 121.8L282.1 120.7L282.5 119.5L282.8 118.4L283.2 117.3L283.6 116.2L283.9 115.1L284.3 114.0L284.6 112.9L285.0 111.9L285.3 110.8L285.7 109.8L286.0 108.8L286.4 107.9L286.7 107.0L287.1 106.1L287.4 105.3L287.8 104.6L288.1 103.9L288.5 103.2L288.8 102.6L289.2 101.9L289.5 101.2L289.9 100.6L290.2 99.9L290.6 99.2L291.0 98.4L291.3 97.7L291.7 96.9L292.0 96.3L292.4 95.7L292.7 95.2L293.1 94.8L293.4 94.4L293.8 94.1L294.1 93.8L294.5 93.5L294.8 93.2L295.2 92.9L295.5 92.7L295.9 92.5L296.2 92.3L296.6 92.0L296.9 91.9L297.3 91.7L297.6 91.5L298.0 91.4L298.4 91.2L298.7 91.1L299.1 90.9L299.4 90.8L299.8 90.7L300.1 90.5L300.5 90.4L300.8 90.3L301.2 90.2L301.5 90.0L301.9 89.9L302.2 89.7L302.6 89.6L302.9 89.4L303.3 89.3L303.6 89.1L304.0 88.9L304.3 88.8L304.7 88.6L305.0 88.4L305.4 88.2L305.8 88.1L306.1 87.9L306.5 87.7L306.8 87.5L307.2 87.3L307.5 87.2L307.9 87.0L308.2 86.8L308.6 86.6L308.9 86.5L309.3 86.3L309.6 86.1L310.0 86.0L310.3 85.8L310.7 85.6L311.0 85.4L311.4 85.3L311.7 85.1L312.1 84.9L312.5 84.7L312.8 84.6L313.2 84.4L313.5 84.3L313.9 84.1L314.2 84.0L314.6 83.9L314.9 83.7L315.3 83.6L315.6 83.5L316.0 83.5L316.3 83.4L316.7 83.3L317.0 83.2L317.4 83.1L317.7 83.0L318.1 83.0L318.4 82.9L318.8 82.8L319.1 82.8L319.5 82.7L319.9 82.6L320.2 82.6L320.6 82.5L320.9 82.5L321.3 82.5L321.6 82.4L322.0 82.4L322.3 82.3L322.7 82.3L323.0 82.3L323.4 82.2L323.7 82.2L324.1 82.2L324.4 82.1L324.8 82.1L325.1 82.1L325.5 82.1L325.8 82.0L326.2 82.0L326.5 82.0L326.9 82.0" stroke="#ff0000" stroke-width="1.8"/>
</g>
<rect x="17.6" y="3.0" width="309.30" height="242.70" fill="none" stroke="#707070" stroke-width="1.1"/>
<path d="M34.78 245.7v-3.1M34.78 3.0v3.1M69.15 245.7v-3.1M69.15 3.0v3.1M103.52 245.7v-3.1M103.52 3.0v3.1M137.88 245.7v-3.1M137.88 3.0v3.1M172.25 245.7v-3.1M172.25 3.0v3.1M206.62 245.7v-3.1M206.62 3.0v3.1M240.98 245.7v-3.1M240.98 3.0v3.1M275.35 245.7v-3.1M275.35 3.0v3.1M309.72 245.7v-3.1M309.72 3.0v3.1M17.6 3.00h3.1M326.9 3.00h-3.1M17.6 27.27h3.1M326.9 27.27h-3.1M17.6 51.54h3.1M326.9 51.54h-3.1M17.6 75.81h3.1M326.9 75.81h-3.1M17.6 100.08h3.1M326.9 100.08h-3.1M17.6 124.35h3.1M326.9 124.35h-3.1M17.6 148.62h3.1M326.9 148.62h-3.1M17.6 172.89h3.1M326.9 172.89h-3.1M17.6 197.16h3.1M326.9 197.16h-3.1M17.6 221.43h3.1M326.9 221.43h-3.1M17.6 245.70h3.1M326.9 245.70h-3.1" stroke="#707070" stroke-width="1.1" fill="none"/>
<text transform="translate(34.78 259.80) scale(.25)" text-anchor="middle" class="tk">-80</text>
<text transform="translate(69.15 259.80) scale(.25)" text-anchor="middle" class="tk">-60</text>
<text transform="translate(103.52 259.80) scale(.25)" text-anchor="middle" class="tk">-40</text>
<text transform="translate(137.88 259.80) scale(.25)" text-anchor="middle" class="tk">-20</text>
<text transform="translate(172.25 259.80) scale(.25)" text-anchor="middle" class="tk">0</text>
<text transform="translate(206.62 259.80) scale(.25)" text-anchor="middle" class="tk">20</text>
<text transform="translate(240.98 259.80) scale(.25)" text-anchor="middle" class="tk">40</text>
<text transform="translate(275.35 259.80) scale(.25)" text-anchor="middle" class="tk">60</text>
<text transform="translate(309.72 259.80) scale(.25)" text-anchor="middle" class="tk">80</text>
<text transform="translate(13.20 7.10) scale(.25)" text-anchor="end" class="tk">0</text>
<text transform="translate(13.20 31.37) scale(.25)" text-anchor="end" class="tk">-5</text>
<text transform="translate(13.20 55.64) scale(.25)" text-anchor="end" class="tk">-10</text>
<text transform="translate(13.20 79.91) scale(.25)" text-anchor="end" class="tk">-15</text>
<text transform="translate(13.20 104.18) scale(.25)" text-anchor="end" class="tk">-20</text>
<text transform="translate(13.20 128.45) scale(.25)" text-anchor="end" class="tk">-25</text>
<text transform="translate(13.20 152.72) scale(.25)" text-anchor="end" class="tk">-30</text>
<text transform="translate(13.20 176.99) scale(.25)" text-anchor="end" class="tk">-35</text>
<text transform="translate(13.20 201.26) scale(.25)" text-anchor="end" class="tk">-40</text>
<text transform="translate(13.20 225.53) scale(.25)" text-anchor="end" class="tk">-45</text>
<text transform="translate(13.20 249.80) scale(.25)" text-anchor="end" class="tk">-50</text>
<rect x="242.4" y="10.3" width="77.10" height="72.50" fill="#fff" stroke="#707070" stroke-width="1.1"/>
<path d="M245.30 17.60H273.80" stroke="#00ffff" stroke-width="0.75" fill="none"/>
<text transform="translate(276.00 21.10) scale(.25)" class="lg">PSO/f1</text>
<path d="M245.30 29.40H273.80" stroke="#ffff00" stroke-width="0.75" fill="none"/>
<text transform="translate(276.00 32.90) scale(.25)" class="lg">RGA/f1</text>
<path d="M245.30 40.80H273.80" stroke="#00ff00" stroke-width="0.75" fill="none"/>
<text transform="translate(276.00 44.30) scale(.25)" class="lg">DE/f1</text>
<path d="M245.30 52.60H273.80" stroke="#0000ff" stroke-width="0.75" fill="none"/>
<text transform="translate(276.00 56.10) scale(.25)" class="lg">DEWM/f1</text>
<path d="M245.30 64.50H273.80" stroke="#000000" stroke-width="0.75" fill="none"/>
<text transform="translate(276.00 68.00) scale(.25)" class="lg">DO/f1</text>
<path d="M245.30 76.10H273.80" stroke="#ff0000" stroke-width="1.8" fill="none"/>
<text transform="translate(276.00 79.60) scale(.25)" class="lg">CENDO/f1</text>
<g clip-path="url(#cr)" fill="none" stroke-linejoin="round" stroke-linecap="butt">
<path d="M375.3 189.5L375.7 189.6L376.0 189.6L376.4 189.7L376.7 189.7L377.1 189.8L377.4 189.9L377.8 189.9L378.1 189.9L378.5 190.0L378.8 190.0L379.2 190.0L379.5 190.0L379.9 190.0L380.2 190.1L380.6 190.1L380.9 190.1L381.3 190.1L381.6 190.1L382.0 190.1L382.4 190.1L382.7 190.1L383.1 190.1L383.4 190.0L383.8 189.9L384.1 189.8L384.5 189.7L384.8 189.5L385.2 189.3L385.5 189.1L385.9 188.9L386.2 188.7L386.6 188.4L386.9 188.1L387.3 187.9L387.6 187.6L388.0 187.2L388.4 186.6L388.7 186.0L389.1 185.2L389.4 184.4L389.8 183.6L390.1 182.7L390.5 181.8L390.8 180.9L391.2 180.1L391.5 179.1L391.9 178.1L392.2 177.1L392.6 176.1L392.9 175.2L393.3 174.2L393.6 173.3L394.0 172.5L394.3 171.6L394.7 170.7L395.1 169.8L395.4 168.8L395.8 167.8L396.1 166.7L396.5 165.5L396.8 164.3L397.2 163.0L397.5 161.7L397.9 160.3L398.2 159.0L398.6 157.6L398.9 156.3L399.3 154.9L399.6 153.7L400.0 152.3L400.3 151.0L400.7 149.6L401.1 148.3L401.4 147.1L401.8 145.9L402.1 145.0L402.5 144.1L402.8 143.4L403.2 142.6L403.5 142.0L403.9 141.3L404.2 140.7L404.6 140.2L404.9 139.6L405.3 139.0L405.6 138.5L406.0 137.9L406.3 137.3L406.7 136.7L407.0 136.1L407.4 135.5L407.8 135.0L408.1 134.5L408.5 134.0L408.8 133.5L409.2 133.1L409.5 132.7L409.9 132.4L410.2 132.1L410.6 131.9L410.9 131.8L411.3 131.6L411.6 131.4L412.0 131.3L412.3 131.2L412.7 131.1L413.0 131.0L413.4 130.8L413.8 130.7L414.1 130.6L414.5 130.5L414.8 130.4L415.2 130.3L415.5 130.2L415.9 130.0L416.2 129.8L416.6 129.7L416.9 129.5L417.3 129.3L417.6 129.1L418.0 129.0L418.3 128.8L418.7 128.7L419.0 128.5L419.4 128.4L419.7 128.4L420.1 128.3L420.5 128.3L420.8 128.3L421.2 128.3L421.5 128.3L421.9 128.3L422.2 128.3L422.6 128.3L422.9 128.3L423.3 128.3L423.6 128.3L424.0 128.3L424.3 128.3L424.7 128.3L425.0 128.3L425.4 128.4L425.7 128.6L426.1 128.8L426.4 129.1L426.8 129.5L427.2 129.8L427.5 130.2L427.9 130.6L428.2 131.1L428.6 131.7L428.9 132.4L429.3 133.2L429.6 134.1L430.0 135.1L430.3 136.0L430.7 136.9L431.0 137.7L431.4 138.5L431.7 139.1L432.1 139.6L432.4 140.2L432.8 140.7L433.2 141.3L433.5 141.8L433.9 142.3L434.2 142.7L434.6 143.0L434.9 143.2L435.3 143.4L435.6 143.4L436.0 143.3L436.3 143.2L436.7 143.0L437.0 142.7L437.4 142.4L437.7 142.1L438.1 141.8L438.4 141.5L438.8 141.3L439.1 141.1L439.5 141.0L439.9 140.9L440.2 140.9L440.6 141.0L440.9 141.2L441.3 141.4L441.6 141.7L442.0 142.1L442.3 142.4L442.7 142.9L443.0 143.3L443.4 143.9L443.7 144.7L444.1 145.8L444.4 147.0L444.8 148.4L445.1 150.0L445.5 152.0L445.9 154.3L446.2 156.9L446.6 159.7L446.9 163.2L447.3 167.2L447.6 171.8L448.0 177.9L448.3 183.7L448.7 187.4L449.0 190.1L449.4 192.5L449.7 195.5L450.1 200.4L450.4 211.1L450.8 222.2L451.1 231.7L451.5 240.9L451.8 249.7L452.2 257.6L452.6 249.8L452.9 242.6L453.3 237.1L453.7 233.8L454.0 231.6L454.4 229.9L454.8 228.3L455.1 226.5L455.5 224.4L455.8 222.1L456.2 219.8L456.6 217.6L456.9 215.4L457.3 213.2L457.7 211.0L458.0 208.8L458.4 206.8L458.8 205.0L459.1 203.5L459.5 202.1L459.9 200.7L460.2 199.4L460.6 198.3L460.9 197.5L461.3 197.1L461.7 197.0L462.0 197.3L462.4 197.9L462.8 198.6L463.1 199.5L463.5 200.5L463.9 201.6L464.2 202.7L464.6 204.2L464.9 206.0L465.3 208.0L465.7 210.1L466.0 212.2L466.4 214.5L466.8 216.8L467.1 219.4L467.5 222.0L467.9 217.3L468.2 212.8L468.6 208.7L469.0 204.9L469.3 201.5L469.7 198.4L470.1 195.5L470.4 192.8L470.8 190.4L471.2 188.4L471.5 186.9L471.9 185.7L472.3 184.5L472.6 183.5L473.0 182.7L473.4 182.2L473.7 182.1L474.1 182.6L474.4 183.7L474.8 185.1L475.2 186.8L475.5 188.7L475.9 190.6L476.3 193.2L476.6 196.4L477.0 200.0L477.4 203.7L477.7 207.5L478.1 211.5L478.5 215.7L478.8 220.3L479.2 225.0L479.6 220.4L479.9 216.1L480.3 212.1L480.6 208.4L481.0 205.2L481.3 202.5L481.7 200.2L482.0 198.1L482.4 196.0L482.7 193.8L483.1 191.3L483.4 188.4L483.8 185.4L484.2 182.5L484.5 179.9L484.9 177.8L485.2 176.0L485.6 174.2L485.9 172.4L486.3 170.4L486.6 168.4L487.0 166.2L487.3 164.1L487.7 162.1L488.1 160.2L488.4 158.4L488.8 156.9L489.1 155.5L489.5 154.2L489.8 153.0L490.2 151.8L490.5 150.6L490.9 149.4L491.2 148.2L491.6 146.9L491.9 145.7L492.3 144.5L492.7 143.3L493.0 142.0L493.4 140.6L493.7 139.0L494.1 137.3L494.4 135.4L494.8 133.5L495.1 131.7L495.5 130.1L495.8 128.6L496.2 127.1L496.5 125.7L496.9 124.5L497.3 123.6L497.6 122.9L498.0 122.3L498.3 121.8L498.7 121.4L499.0 121.1L499.4 121.1L499.7 121.4L500.1 121.8L500.4 122.4L500.8 123.0L501.1 123.8L501.5 124.6L501.9 125.5L502.2 126.6L502.6 128.0L502.9 129.6L503.3 131.2L503.6 132.8L504.0 134.5L504.3 136.3L504.7 138.1L505.0 140.1L505.4 142.2L505.8 144.3L506.1 146.6L506.5 149.3L506.8 153.0L507.2 157.9L507.5 163.6L507.9 171.0L508.2 180.5L508.6 189.6L508.9 197.4L509.3 204.8L509.6 211.7L510.0 218.0L510.4 217.4L510.7 216.3L511.1 214.8L511.5 213.0L511.8 211.0L512.2 208.8L512.5 205.7L512.9 202.0L513.3 198.2L513.6 194.7L514.0 191.8L514.4 189.0L514.7 185.6L515.1 180.6L515.4 173.8L515.8 166.9L516.2 161.6L516.5 157.4L516.9 153.4L517.3 148.8L517.6 142.5L518.0 136.5L518.4 132.8L518.7 129.9L519.1 127.8L519.4 126.4L519.8 125.2L520.2 124.5L520.5 124.4L520.9 125.6L521.3 127.6L521.6 129.8L522.0 132.9L522.3 136.5L522.7 140.0L523.1 144.2L523.4 150.5L523.8 160.0L524.2 153.4L524.5 147.0L524.9 141.1L525.3 135.5L525.6 129.8L526.0 123.5L526.4 117.2L526.8 112.1L527.1 107.9L527.5 104.3L527.9 101.3L528.2 98.5L528.6 96.4L529.0 95.2L529.3 94.3L529.7 93.9L530.1 94.3L530.4 95.2L530.8 96.4L531.2 98.5L531.5 101.3L531.9 104.3L532.3 108.0L532.6 112.2L533.0 116.8L533.4 121.9L533.8 127.1L534.1 132.2L534.5 139.0L534.9 149.7L535.2 167.0L535.6 194.0L536.0 166.7L536.3 148.8L536.7 138.6L537.1 133.3L537.4 130.2L537.8 128.0L538.2 126.1L538.5 124.4L538.9 123.0L539.3 122.4L539.6 122.8L540.0 124.0L540.4 125.7L540.7 127.6L541.1 130.0L541.5 133.4L541.8 137.0L542.2 140.6L542.6 144.3L542.9 149.0L543.3 155.6L543.7 164.7L544.0 176.2L544.4 192.8L544.8 213.2L545.1 234.5L545.5 257.6L545.9 239.8L546.2 224.4L546.6 213.2L546.9 204.8L547.3 198.0L547.6 192.3L548.0 187.4L548.4 183.4L548.7 179.8L549.1 176.4L549.4 172.7L549.8 169.1L550.1 165.5L550.5 162.0L550.8 158.6L551.2 155.4L551.6 152.1L551.9 148.4L552.3 143.9L552.6 139.5L553.0 136.4L553.3 134.0L553.7 132.1L554.1 130.8L554.4 129.9L554.8 129.1L555.1 128.4L555.5 128.1L555.8 128.0L556.2 128.1L556.6 128.2L556.9 128.4L557.3 128.5L557.6 128.5L558.0 128.4L558.3 128.0L558.7 127.5L559.0 127.0L559.4 126.6L559.8 126.2L560.1 125.8L560.5 125.3L560.8 125.0L561.2 124.7L561.5 124.7L561.9 124.9L562.3 125.3L562.6 125.9L563.0 126.5L563.3 127.2L563.7 128.2L564.0 129.4L564.4 130.6L564.8 132.0L565.1 133.7L565.5 135.6L565.8 137.3L566.2 138.7L566.5 140.1L566.9 141.5L567.3 142.8L567.6 143.6L568.0 144.0L568.3 144.0L568.7 144.0L569.0 144.0L569.4 144.0L569.7 143.9L570.1 143.5L570.5 142.8L570.8 142.2L571.2 141.7L571.5 141.5L571.9 141.6L572.2 141.9L572.6 142.3L573.0 142.9L573.3 143.6L573.7 144.4L574.0 145.4L574.4 147.6L574.7 151.0L575.1 155.1L575.5 159.5L575.8 164.0L576.2 168.7L576.5 174.0L576.9 179.7L577.2 185.6L577.6 191.5L577.9 197.2L578.3 203.1L578.7 209.1L579.0 215.5L579.4 222.4L579.7 230.1L580.1 238.7L580.4 248.1L580.8 257.6L581.2 249.7L581.5 241.9L581.9 234.9L582.2 228.9L582.6 224.3L582.9 220.5L583.3 216.9L583.6 213.8L584.0 211.0L584.3 208.6L584.7 206.6L585.0 204.9L585.4 203.5L585.7 202.2L586.1 201.1L586.4 200.1L586.8 199.2L587.1 198.5L587.5 198.0L587.8 197.6L588.2 197.2L588.5 196.9L588.9 196.6L589.2 196.5L589.6 196.4L589.9 196.5L590.3 196.9L590.6 197.5L591.0 198.1L591.4 198.8L591.7 199.5L592.1 200.1L592.4 200.7L592.8 201.4L593.1 202.1L593.5 202.6L593.8 202.9L594.2 202.9L594.5 202.1L594.9 200.7L595.2 198.9L595.6 196.9L595.9 194.9L596.3 193.0L596.6 191.5L597.0 190.0L597.3 188.4L597.7 187.0L598.0 185.7L598.4 184.7L598.7 184.1L599.1 183.5L599.4 182.9L599.8 182.6L600.1 182.5L600.5 182.7L600.8 183.0L601.2 183.5L601.6 184.2L601.9 184.8L602.3 185.5L602.6 186.2L603.0 187.0L603.3 187.8L603.7 188.8L604.0 189.8L604.4 190.8L604.7 191.8L605.1 192.8L605.4 193.7L605.8 194.5L606.1 195.2L606.5 195.9L606.8 196.7L607.2 197.4L607.5 198.1L607.9 198.8L608.2 199.4L608.6 199.9L608.9 200.3L609.3 200.6L609.6 200.8L610.0 200.8L610.3 200.5L610.7 200.0L611.0 199.3L611.4 198.4L611.7 197.4L612.1 196.2L612.5 195.0L612.8 193.7L613.2 192.4L613.5 190.5L613.9 188.1L614.2 185.4L614.6 182.5L614.9 179.6L615.3 176.8L615.6 174.1L616.0 171.3L616.3 168.4L616.7 165.5L617.0 162.7L617.4 160.3L617.7 158.3L618.1 157.0L618.4 155.8L618.8 154.8L619.1 153.8L619.5 153.0L619.8 152.2L620.2 151.5L620.5 150.9L620.9 150.2L621.2 149.6L621.6 148.9L621.9 148.2L622.3 147.5L622.7 146.7L623.0 146.0L623.4 145.2L623.7 144.4L624.1 143.6L624.4 142.9L624.8 142.1L625.1 141.5L625.5 140.8L625.8 140.3L626.2 139.8L626.5 139.4L626.9 139.0L627.2 138.7L627.6 138.3L627.9 137.8L628.3 137.2L628.6 136.4L629.0 135.5L629.3 134.5L629.7 133.5L630.0 132.4L630.4 131.3L630.7 130.2L631.1 129.3L631.4 128.4L631.8 127.7L632.1 127.1L632.5 126.5L632.9 125.9L633.2 125.4L633.6 124.9L633.9 124.4L634.3 123.9L634.6 123.5L635.0 123.1L635.3 122.8L635.7 122.6L636.0 122.3L636.4 122.0L636.7 121.8L637.1 121.6L637.4 121.3L637.8 121.2L638.1 121.0L638.5 120.9L638.8 120.8L639.2 120.7L639.5 120.7L639.9 120.7L640.2 120.8L640.6 121.0L640.9 121.1L641.3 121.3L641.6 121.5L642.0 121.8L642.3 122.0L642.7 122.3L643.1 122.6L643.4 122.9L643.8 123.3L644.1 123.7L644.5 124.3L644.8 124.9L645.2 125.5L645.5 126.2L645.9 126.9L646.2 127.6L646.6 128.3L646.9 128.9L647.3 129.7L647.6 130.4L648.0 131.2L648.3 132.1L648.7 132.9L649.0 133.8L649.4 134.7L649.7 135.5L650.1 136.3L650.4 137.1L650.8 137.9L651.1 138.6L651.5 139.3L651.8 139.9L652.2 140.6L652.5 141.2L652.9 141.8L653.3 142.5L653.6 143.1L654.0 143.8L654.3 144.6L654.7 145.4L655.0 146.2L655.4 147.1L655.7 148.1L656.1 149.1L656.4 150.2L656.8 151.2L657.1 152.3L657.5 153.3L657.8 154.4L658.2 155.4L658.5 156.4L658.9 157.4L659.2 158.3L659.6 159.1L659.9 159.9L660.3 160.7L660.6 161.6L661.0 162.4L661.3 163.2L661.7 163.9L662.0 164.7L662.4 165.4L662.7 166.1L663.1 166.8L663.4 167.4L663.8 167.9L664.2 168.5L664.5 168.9L664.9 169.3L665.2 169.7L665.6 170.1L665.9 170.4L666.3 170.8L666.6 171.0L667.0 171.3L667.3 171.4L667.7 171.5L668.0 171.5L668.4 171.5L668.7 171.5L669.1 171.6L669.4 171.6L669.8 171.6L670.1 171.6L670.5 171.6L670.8 171.6L671.2 171.6L671.5 171.6L671.9 171.6L672.2 171.6L672.6 171.6L672.9 171.6L673.3 171.6L673.6 171.6L674.0 171.6L674.4 171.6L674.7 171.6L675.1 171.6L675.4 171.6L675.8 171.6L676.1 171.6L676.5 171.6L676.8 171.6L677.2 171.6L677.5 171.6L677.9 171.6L678.2 171.6L678.6 171.6L678.9 171.6L679.3 171.6L679.6 171.6L680.0 171.6L680.3 171.6L680.7 171.6L681.0 171.6L681.4 171.6L681.7 171.5L682.1 171.5L682.4 171.5L682.8 171.5L683.1 171.5L683.5 171.5L683.8 171.5L684.2 171.5" stroke="#00ffff" stroke-width="0.95"/>
<path d="M375.3 149.5L375.7 149.2L376.0 149.0L376.4 148.7L376.7 148.4L377.1 148.1L377.4 147.9L377.8 147.6L378.1 147.3L378.5 147.1L378.8 146.8L379.2 146.5L379.5 146.3L379.9 146.0L380.2 145.7L380.6 145.5L380.9 145.2L381.3 144.9L381.6 144.6L382.0 144.3L382.3 144.1L382.7 143.8L383.1 143.5L383.4 143.2L383.8 142.8L384.1 142.5L384.5 142.2L384.8 141.8L385.2 141.4L385.5 141.1L385.9 140.7L386.2 140.3L386.6 139.9L386.9 139.5L387.3 139.1L387.6 138.6L388.0 138.2L388.3 137.8L388.7 137.4L389.0 137.0L389.4 136.6L389.7 136.2L390.1 135.9L390.5 135.5L390.8 135.2L391.2 134.8L391.5 134.5L391.9 134.2L392.2 133.9L392.6 133.5L392.9 133.2L393.3 132.9L393.6 132.6L394.0 132.3L394.3 131.9L394.7 131.7L395.0 131.4L395.4 131.1L395.7 130.9L396.1 130.7L396.4 130.5L396.8 130.3L397.1 130.2L397.5 130.1L397.9 129.9L398.2 129.8L398.6 129.7L398.9 129.6L399.3 129.5L399.6 129.4L400.0 129.3L400.3 129.2L400.7 129.1L401.0 129.1L401.4 129.0L401.7 129.0L402.1 128.9L402.4 128.9L402.8 128.9L403.1 128.9L403.5 129.0L403.8 129.0L404.2 129.1L404.6 129.2L404.9 129.3L405.3 129.4L405.6 129.5L406.0 129.6L406.3 129.7L406.7 129.8L407.0 129.9L407.4 130.0L407.7 130.1L408.1 130.1L408.4 130.2L408.8 130.2L409.1 130.2L409.5 130.2L409.8 130.2L410.2 130.2L410.5 130.2L410.9 130.2L411.2 130.2L411.6 130.1L412.0 130.1L412.3 130.1L412.7 130.1L413.0 130.1L413.4 130.0L413.7 130.0L414.1 130.0L414.4 129.9L414.8 129.9L415.1 129.8L415.5 129.6L415.8 129.5L416.2 129.3L416.5 129.1L416.9 128.9L417.2 128.7L417.6 128.5L417.9 128.3L418.3 128.1L418.6 127.9L419.0 127.7L419.4 127.6L419.7 127.4L420.1 127.1L420.4 126.9L420.8 126.7L421.1 126.5L421.5 126.2L421.8 126.1L422.2 125.9L422.5 125.8L422.9 125.8L423.2 125.8L423.6 126.0L423.9 126.3L424.3 126.6L424.6 127.0L425.0 127.5L425.3 128.0L425.7 128.5L426.0 129.1L426.4 129.7L426.8 130.3L427.1 131.0L427.5 131.9L427.8 132.9L428.2 134.1L428.5 135.3L428.9 136.5L429.2 137.7L429.6 138.9L429.9 140.0L430.3 141.0L430.6 141.8L431.0 142.5L431.3 143.2L431.7 143.8L432.0 144.4L432.4 145.0L432.7 145.6L433.1 146.2L433.4 146.8L433.8 147.4L434.2 147.9L434.5 148.5L434.9 149.0L435.2 149.6L435.6 150.1L435.9 150.6L436.3 151.0L436.6 151.4L437.0 151.8L437.3 152.1L437.7 152.5L438.0 153.0L438.4 153.5L438.7 154.0L439.1 154.7L439.4 155.4L439.8 156.5L440.1 158.0L440.5 159.6L440.9 161.4L441.2 163.3L441.6 165.2L441.9 166.9L442.3 168.5L442.6 170.1L443.0 171.8L443.3 173.8L443.7 176.3L444.0 180.1L444.4 184.5L444.7 187.2L445.1 189.4L445.4 191.5L445.8 193.8L446.1 196.3L446.5 198.7L446.8 201.1L447.2 203.4L447.5 205.5L447.9 207.7L448.3 209.8L448.6 211.3L449.0 211.5L449.3 211.3L449.7 210.9L450.0 210.4L450.4 209.9L450.7 209.4L451.1 208.9L451.4 208.6L451.8 208.4L452.1 208.4L452.5 208.5L452.8 208.7L453.2 209.0L453.5 209.4L453.9 209.8L454.2 210.2L454.6 210.7L454.9 211.2L455.3 211.7L455.7 212.1L456.0 212.6L456.4 213.1L456.7 213.6L457.1 214.1L457.4 214.8L457.8 215.5L458.1 216.4L458.5 217.5L458.8 218.9L459.2 220.8L459.5 222.9L459.9 225.3L460.2 227.9L460.6 230.7L460.9 234.0L461.3 237.9L461.6 242.3L462.0 247.2L462.3 252.5L462.7 257.6L463.1 249.9L463.4 242.2L463.8 235.3L464.1 229.5L464.5 224.9L464.9 221.3L465.2 218.0L465.6 215.0L465.9 212.4L466.3 210.2L466.7 208.3L467.0 206.9L467.4 205.6L467.8 204.4L468.1 203.3L468.5 202.3L468.8 201.6L469.2 201.1L469.6 201.0L469.9 201.2L470.3 201.7L470.6 202.5L471.0 203.5L471.4 204.7L471.7 206.0L472.1 207.4L472.4 209.5L472.8 212.6L473.2 216.3L473.5 220.3L473.9 224.5L474.3 228.5L474.6 232.1L475.0 235.5L475.3 238.8L475.7 242.0L476.1 245.3L476.4 248.5L476.8 251.7L477.1 254.9L477.5 257.6L477.9 250.2L478.2 242.6L478.6 235.3L478.9 228.4L479.3 221.7L479.6 215.3L480.0 209.2L480.3 203.4L480.7 197.8L481.0 192.5L481.4 187.5L481.8 182.6L482.1 177.9L482.5 173.6L482.8 170.1L483.2 167.0L483.5 164.0L483.9 161.4L484.2 159.3L484.6 157.9L484.9 157.1L485.3 156.6L485.7 156.1L486.0 156.0L486.4 156.1L486.7 156.5L487.1 156.8L487.4 157.0L487.8 156.6L488.1 155.2L488.5 153.3L488.8 151.1L489.2 149.2L489.5 147.4L489.9 145.5L490.3 143.5L490.6 141.4L491.0 139.4L491.3 137.4L491.7 135.3L492.0 133.2L492.4 130.8L492.7 128.5L493.1 126.6L493.4 125.2L493.8 124.4L494.2 123.7L494.5 123.1L494.9 122.7L495.2 122.4L495.6 122.4L495.9 122.5L496.3 122.7L496.6 122.9L497.0 123.1L497.3 123.4L497.7 123.7L498.1 124.1L498.4 124.6L498.8 125.2L499.1 125.7L499.5 126.1L499.8 126.6L500.2 127.1L500.5 127.6L500.9 128.1L501.2 128.5L501.6 128.9L502.0 129.4L502.3 129.7L502.7 129.7L503.0 129.6L503.4 129.5L503.7 129.3L504.1 129.1L504.4 129.0L504.8 128.9L505.1 129.0L505.5 129.4L505.8 130.0L506.2 130.9L506.6 131.9L506.9 133.1L507.3 135.1L507.6 137.7L508.0 140.6L508.3 143.2L508.7 145.9L509.0 149.8L509.4 155.9L509.7 162.9L510.1 169.9L510.5 177.4L510.8 185.2L511.2 193.3L511.5 201.7L511.9 210.3L512.2 218.7L512.6 226.9L512.9 234.8L513.3 242.7L513.6 250.4L514.0 257.6L514.4 241.1L514.8 225.1L515.1 209.7L515.5 194.8L515.9 182.1L516.3 171.7L516.6 163.1L517.0 156.2L517.4 149.8L517.8 142.4L518.1 135.8L518.5 131.9L518.9 129.0L519.3 127.2L519.7 126.0L520.0 125.0L520.4 124.7L520.8 125.4L521.2 127.1L521.5 129.2L521.9 132.1L522.3 135.8L522.7 140.0L523.0 145.2L523.4 154.2L523.8 169.6L524.2 157.5L524.5 147.6L524.9 140.8L525.2 135.4L525.6 130.3L526.0 124.2L526.3 117.9L526.7 112.7L527.1 108.5L527.4 104.9L527.8 101.8L528.1 99.0L528.5 96.8L528.9 95.5L529.2 94.5L529.6 93.9L530.0 94.1L530.3 94.9L530.7 96.0L531.0 97.7L531.4 100.2L531.8 103.1L532.1 106.5L532.5 110.5L532.9 114.8L533.2 119.6L533.6 124.8L533.9 129.9L534.3 135.5L534.7 142.4L535.0 152.3L535.4 167.0L535.8 154.1L536.1 144.6L536.5 138.8L536.8 134.8L537.2 131.5L537.6 128.9L537.9 127.0L538.3 125.3L538.6 123.9L539.0 122.9L539.4 122.6L539.7 123.2L540.1 124.4L540.4 126.1L540.8 128.0L541.2 130.5L541.5 134.0L541.9 137.4L542.2 140.4L542.6 143.2L542.9 146.5L543.3 150.7L543.7 155.8L544.0 161.3L544.4 166.7L544.7 172.1L545.1 177.7L545.5 184.0L545.8 191.5L546.2 200.0L546.5 208.9L546.9 217.7L547.3 226.0L547.6 234.1L548.0 242.2L548.3 250.1L548.7 257.6L549.1 240.3L549.4 223.4L549.8 206.9L550.1 191.0L550.5 178.6L550.9 168.7L551.2 159.9L551.6 152.1L551.9 146.1L552.3 141.2L552.6 137.4L553.0 135.0L553.4 133.0L553.7 131.5L554.1 130.6L554.4 129.8L554.8 129.1L555.1 128.6L555.5 128.3L555.9 128.3L556.2 128.4L556.6 128.6L556.9 128.7L557.3 128.9L557.7 128.9L558.0 128.7L558.4 128.2L558.7 127.7L559.1 127.1L559.5 126.6L559.8 126.1L560.2 125.6L560.5 125.1L560.9 124.7L561.2 124.5L561.6 124.5L562.0 124.7L562.3 125.0L562.7 125.4L563.0 125.8L563.4 126.3L563.8 126.9L564.1 127.7L564.5 128.6L564.8 129.5L565.2 130.5L565.5 131.6L565.9 132.8L566.3 134.0L566.6 135.3L567.0 136.7L567.3 138.2L567.7 139.8L568.0 141.3L568.4 142.7L568.8 143.9L569.1 145.0L569.5 146.0L569.8 147.0L570.2 147.9L570.6 148.8L570.9 149.8L571.3 150.7L571.6 151.5L572.0 152.2L572.4 153.0L572.7 153.8L573.1 154.6L573.4 155.7L573.8 156.9L574.1 158.6L574.5 160.7L574.9 163.3L575.2 166.4L575.6 169.9L575.9 174.5L576.3 180.8L576.6 188.6L577.0 199.6L577.4 211.2L577.7 220.8L578.1 229.6L578.4 237.7L578.8 245.0L580.8 223.6L580.8 222.0L580.9 220.5L581.0 219.2L581.1 217.9L581.2 216.8L581.3 215.7L581.4 214.7L581.5 213.9L581.6 213.1L581.7 212.3L581.8 211.7L581.9 211.1L582.0 210.6L582.1 210.2L582.2 209.8L582.3 209.5L582.4 209.3L582.5 209.1L582.6 209.0L582.7 209.0L582.8 209.0L582.9 209.1L583.0 209.3L583.1 209.5L583.2 209.8L583.3 210.2L583.4 210.6L583.5 211.1L583.6 211.7L583.7 212.3L583.7 213.1L583.8 213.9L583.9 214.7L584.0 215.7L584.1 216.8L584.2 217.9L584.3 219.2L584.4 220.5L584.5 222.0L584.6 223.6L586.5 257.6L587.9 232.6L588.0 231.0L588.0 229.5L588.1 228.2L588.2 226.9L588.2 225.8L588.3 224.7L588.4 223.7L588.5 222.9L588.5 222.1L588.6 221.3L588.7 220.7L588.7 220.1L588.8 219.6L588.9 219.2L588.9 218.8L589.0 218.5L589.1 218.3L589.2 218.1L589.2 218.0L589.3 218.0L589.4 218.0L589.4 218.1L589.5 218.3L589.6 218.5L589.7 218.8L589.7 219.2L589.8 219.6L589.9 220.1L590.0 220.7L590.0 221.3L590.1 222.1L590.2 222.9L590.2 223.7L590.3 224.7L590.4 225.8L590.5 226.9L590.5 228.2L590.6 229.5L590.7 231.0L590.8 232.6L592.2 257.6L592.6 250.0L592.9 242.4L593.3 235.5L593.6 229.5L594.0 224.9L594.4 221.1L594.7 217.6L595.1 214.4L595.5 211.4L595.8 208.9L596.2 206.6L596.5 204.8L596.9 203.3L597.3 202.2L597.6 201.1L598.0 200.1L598.3 199.2L598.7 198.4L599.1 197.7L599.4 197.3L599.8 197.0L600.2 197.1L600.5 197.6L600.9 198.8L601.2 200.3L601.6 202.3L602.0 204.5L602.3 206.8L602.7 209.3L603.1 211.7L603.4 214.1L603.8 216.6L604.1 219.4L604.5 222.5L604.9 225.7L605.2 229.1L605.6 232.4L605.9 235.5L606.3 238.5L606.7 241.2L607.0 243.9L607.4 246.4L607.8 248.9L608.1 251.3L608.5 253.6L608.8 255.8L609.2 257.6L609.6 252.1L609.9 246.3L610.3 240.6L610.6 235.0L611.0 229.5L611.3 224.0L611.7 218.7L612.0 213.8L612.4 209.1L612.7 204.5L613.1 199.5L613.4 193.9L613.8 186.2L614.1 179.7L614.5 177.0L614.8 175.0L615.2 173.4L615.5 172.1L615.9 170.7L616.2 169.1L616.6 167.3L616.9 165.5L617.3 163.8L617.7 162.1L618.0 160.6L618.4 159.3L618.7 158.3L619.1 157.7L619.4 157.5L619.8 157.3L620.1 157.1L620.5 157.0L620.8 157.0L621.2 157.3L621.5 157.9L621.9 158.5L622.2 158.9L622.6 158.9L622.9 158.7L623.3 158.4L623.6 158.1L624.0 157.7L624.3 157.4L624.7 157.0L625.0 156.6L625.4 156.2L625.7 155.7L626.1 155.1L626.5 154.3L626.8 153.4L627.2 152.2L627.5 150.8L627.9 149.2L628.2 147.3L628.6 145.2L628.9 141.7L629.3 137.9L629.6 135.8L630.0 133.9L630.3 132.3L630.7 130.9L631.0 129.7L631.4 128.7L631.7 127.8L632.1 127.1L632.4 126.4L632.8 125.7L633.1 125.1L633.5 124.6L633.8 124.1L634.2 123.7L634.6 123.4L634.9 123.2L635.3 123.1L635.6 122.9L636.0 122.8L636.3 122.7L636.7 122.6L637.0 122.5L637.4 122.5L637.7 122.4L638.1 122.4L638.4 122.4L638.8 122.5L639.1 122.6L639.5 122.8L639.8 123.0L640.2 123.2L640.5 123.4L640.9 123.6L641.2 123.8L641.6 124.0L641.9 124.2L642.3 124.4L642.7 124.6L643.0 124.7L643.4 124.9L643.7 125.1L644.1 125.2L644.4 125.4L644.8 125.6L645.1 125.7L645.5 125.8L645.8 125.9L646.2 126.0L646.5 126.1L646.9 126.1L647.2 126.1L647.6 126.1L647.9 126.0L648.3 126.0L648.6 126.0L649.0 125.9L649.3 125.9L649.7 125.8L650.0 125.8L650.4 125.7L650.7 125.6L651.1 125.6L651.5 125.5L651.8 125.5L652.2 125.5L652.5 125.4L652.9 125.4L653.2 125.4L653.6 125.4L653.9 125.5L654.3 125.5L654.6 125.6L655.0 125.8L655.3 125.9L655.7 126.1L656.0 126.3L656.4 126.5L656.7 126.7L657.1 126.9L657.4 127.1L657.8 127.4L658.1 127.6L658.5 127.8L658.8 128.1L659.2 128.5L659.6 128.8L659.9 129.3L660.3 129.7L660.6 130.2L661.0 130.7L661.3 131.2L661.7 131.7L662.0 132.2L662.4 132.7L662.7 133.2L663.1 133.7L663.4 134.2L663.8 134.6L664.1 135.1L664.5 135.7L664.8 136.2L665.2 136.7L665.5 137.2L665.9 137.8L666.2 138.3L666.6 138.8L666.9 139.4L667.3 139.9L667.7 140.4L668.0 140.9L668.4 141.3L668.7 141.8L669.1 142.2L669.4 142.6L669.8 143.0L670.1 143.3L670.5 143.6L670.8 143.9L671.2 144.2L671.5 144.5L671.9 144.8L672.2 145.1L672.6 145.5L672.9 145.9L673.3 146.4L673.6 146.9L674.0 147.3L674.3 147.8L674.7 148.3L675.0 148.8L675.4 149.3L675.7 149.7L676.1 150.2L676.5 150.6L676.8 150.9L677.2 151.3L677.5 151.6L677.9 151.9L678.2 152.2L678.6 152.5L678.9 152.8L679.3 153.0L679.6 153.3L680.0 153.6L680.3 153.8L680.7 154.0L681.0 154.2L681.4 154.3L681.7 154.4L682.1 154.5L682.4 154.5L682.8 154.5L683.1 154.6L683.5 154.6L683.8 154.6L684.2 154.6" stroke="#ffff00" stroke-width="0.95"/>
<path d="M375.3 205.2L375.7 205.4L376.0 205.5L376.4 205.7L376.7 205.8L377.1 206.0L377.4 206.1L377.8 206.2L378.1 206.4L378.5 206.5L378.8 206.7L379.2 206.8L379.5 206.9L379.9 207.1L380.2 207.2L380.6 207.3L380.9 207.5L381.3 207.7L381.7 207.8L382.0 208.0L382.4 208.1L382.7 208.2L383.1 208.3L383.4 208.4L383.8 208.4L384.1 208.4L384.5 208.2L384.8 208.0L385.2 207.7L385.5 207.3L385.9 206.9L386.2 206.4L386.6 205.8L387.0 205.2L387.3 204.6L387.7 203.9L388.0 202.9L388.4 201.6L388.7 200.0L389.1 198.3L389.4 196.3L389.8 194.4L390.1 192.4L390.5 190.3L390.8 187.9L391.2 185.4L391.5 182.9L391.9 180.6L392.2 178.6L392.6 176.6L393.0 174.8L393.3 173.0L393.7 171.3L394.0 169.7L394.4 168.1L394.7 166.6L395.1 165.2L395.4 163.8L395.8 162.5L396.1 161.1L396.5 159.8L396.8 158.4L397.2 157.1L397.5 155.7L397.9 154.3L398.3 152.8L398.6 151.2L399.0 149.7L399.3 148.2L399.7 146.8L400.0 145.6L400.4 144.5L400.7 143.6L401.1 142.7L401.4 141.9L401.8 141.1L402.1 140.2L402.5 139.2L402.8 138.0L403.2 136.8L403.6 135.6L403.9 134.4L404.3 133.2L404.6 132.0L405.0 131.0L405.3 130.0L405.7 129.3L406.0 128.7L406.4 128.2L406.7 127.7L407.1 127.2L407.4 126.7L407.8 126.3L408.1 125.9L408.5 125.5L408.8 125.1L409.2 124.8L409.6 124.6L409.9 124.4L410.3 124.2L410.6 124.1L411.0 124.1L411.3 124.2L411.7 124.3L412.0 124.6L412.4 124.8L412.7 125.2L413.1 125.6L413.4 126.0L413.8 126.4L414.1 126.9L414.5 127.3L414.9 127.7L415.2 128.1L415.6 128.5L415.9 128.9L416.3 129.3L416.6 129.8L417.0 130.2L417.3 130.6L417.7 130.8L418.0 130.8L418.4 130.7L418.7 130.5L419.1 130.1L419.4 129.7L419.8 129.3L420.1 128.8L420.5 128.3L420.9 127.8L421.2 127.4L421.6 126.9L421.9 126.5L422.3 126.0L422.6 125.6L423.0 125.1L423.3 124.6L423.7 124.1L424.0 123.6L424.4 123.2L424.7 122.7L425.1 122.3L425.4 122.0L425.8 121.6L426.1 121.2L426.5 120.8L426.9 120.4L427.2 120.0L427.6 119.6L427.9 119.3L428.3 119.0L428.6 118.7L429.0 118.5L429.3 118.3L429.7 118.2L430.0 118.2L430.4 118.3L430.7 118.5L431.1 118.8L431.4 119.1L431.8 119.5L432.2 120.0L432.5 120.6L432.9 121.2L433.2 121.9L433.6 122.5L433.9 123.4L434.3 124.6L434.6 126.1L435.0 127.9L435.3 129.9L435.7 132.0L436.0 134.2L436.4 136.5L436.7 139.2L437.1 142.3L437.4 145.4L437.8 148.8L438.2 152.4L438.5 155.9L438.9 159.0L439.2 162.3L439.6 165.4L439.9 168.4L440.3 170.9L440.6 172.8L441.0 174.5L441.3 176.1L441.7 177.5L442.0 178.5L442.4 179.0L442.7 178.9L443.1 178.3L443.5 177.3L443.8 176.2L444.2 175.1L444.5 174.1L444.9 173.5L445.2 173.3L445.6 173.1L445.9 172.9L446.3 172.8L446.6 172.7L447.0 172.7L447.3 173.8L447.7 175.6L448.0 177.5L448.4 179.2L448.8 181.0L449.1 182.9L449.5 185.0L449.8 187.3L450.2 189.6L450.5 192.1L450.9 194.9L451.2 198.1L451.6 202.3L451.9 207.7L452.3 212.7L452.6 216.3L453.0 219.5L453.3 222.5L453.7 225.0L454.0 227.1L454.4 228.5L454.8 227.5L455.1 226.4L455.5 225.3L455.8 224.2L456.2 222.9L456.6 221.7L456.9 220.4L457.3 219.0L457.6 217.6L458.0 216.1L458.4 214.3L458.7 212.5L459.1 210.7L459.4 209.0L459.8 207.6L460.2 206.6L460.5 205.5L460.9 204.6L461.2 203.7L461.6 202.9L462.0 202.3L462.3 202.0L462.7 202.1L463.0 202.4L463.4 203.1L463.8 204.1L464.1 205.2L464.5 206.3L464.8 207.5L465.2 208.6L465.6 209.9L465.9 211.3L466.3 212.8L466.6 214.4L467.0 216.0L467.4 217.6L467.7 219.4L468.1 221.2L468.4 223.1L468.8 225.0L471.4 187.9L471.5 186.3L471.6 184.8L471.7 183.5L471.9 182.2L472.0 181.1L472.1 180.0L472.2 179.0L472.4 178.2L472.5 177.4L472.6 176.6L472.8 176.0L472.9 175.4L473.0 174.9L473.1 174.5L473.3 174.1L473.4 173.8L473.5 173.6L473.6 173.4L473.8 173.3L473.9 173.3L474.1 173.3L474.2 173.4L474.4 173.6L474.6 173.8L474.7 174.1L474.9 174.5L475.1 174.9L475.2 175.4L475.4 176.0L475.5 176.6L475.7 177.4L475.9 178.2L476.0 179.0L476.2 180.0L476.4 181.1L476.5 182.2L476.7 183.5L476.9 184.8L477.0 186.3L477.2 187.9L480.5 215.0L480.9 211.5L481.2 208.1L481.6 204.7L481.9 201.5L482.3 198.3L482.6 195.1L483.0 192.0L483.3 188.9L483.7 185.9L484.0 183.2L484.4 180.7L484.7 178.4L485.1 176.3L485.5 174.1L485.8 171.9L486.2 169.5L486.5 166.9L486.9 164.4L487.2 162.3L487.6 160.6L487.9 159.1L488.3 157.8L488.6 156.6L489.0 155.5L489.3 154.4L489.7 153.4L490.1 152.4L490.4 151.5L490.8 150.7L491.1 149.9L491.5 149.1L491.8 148.3L492.2 147.3L492.5 146.1L492.9 144.8L493.2 143.4L493.6 141.9L493.9 140.4L494.3 138.8L494.7 137.0L495.0 135.3L495.4 133.7L495.7 132.2L496.1 130.8L496.4 129.5L496.8 128.3L497.1 127.5L497.5 126.8L497.8 126.1L498.2 125.6L498.6 125.5L498.9 125.7L499.3 126.1L499.6 126.7L500.0 127.3L500.3 127.9L500.7 128.4L501.0 128.8L501.4 128.9L501.7 129.1L502.1 129.2L502.4 129.3L502.8 129.3L503.2 129.2L503.5 129.0L503.9 128.8L504.2 128.7L504.6 128.5L504.9 128.5L505.3 128.7L505.6 129.3L506.0 130.1L506.3 131.2L506.7 132.3L507.0 133.8L507.4 136.1L507.8 138.8L508.1 141.6L508.5 144.0L508.8 147.0L509.2 153.0L509.5 162.0L509.9 170.1L510.2 178.3L510.6 187.3L510.9 197.0L511.3 208.0L511.6 220.7L512.0 235.0L512.4 223.9L512.7 214.0L513.1 205.5L513.5 198.8L513.8 193.7L514.2 189.5L514.6 185.0L515.0 179.6L515.3 173.9L515.7 168.3L516.1 163.2L516.4 158.8L516.8 154.7L517.2 150.2L517.5 144.2L517.9 137.8L518.3 133.6L518.6 130.6L519.0 128.3L519.4 126.9L519.7 125.7L520.1 124.9L520.5 124.7L520.8 125.7L521.2 127.4L521.6 129.5L522.0 132.6L522.3 136.2L522.7 139.7L523.1 143.9L523.4 151.8L523.8 166.0L524.2 156.0L524.5 147.5L524.9 141.0L525.2 135.6L525.6 130.3L526.0 124.2L526.3 117.9L526.7 112.7L527.1 108.5L527.4 104.9L527.8 101.8L528.1 99.0L528.5 96.8L528.9 95.4L529.2 94.3L529.6 93.7L530.0 93.9L530.3 94.8L530.7 96.0L531.0 97.7L531.4 100.2L531.8 103.1L532.1 106.5L532.5 110.5L532.9 114.8L533.2 119.6L533.6 124.8L533.9 129.9L534.3 135.5L534.7 142.5L535.0 152.1L535.4 166.0L535.8 153.5L536.1 144.2L536.5 138.5L536.9 134.5L537.2 131.2L537.6 128.6L538.0 126.7L538.3 125.0L538.7 123.6L539.1 122.8L539.4 122.7L539.8 123.4L540.2 124.8L540.5 126.6L540.9 128.6L541.3 131.6L541.6 135.2L542.0 138.5L542.4 141.4L542.7 144.4L543.1 148.1L543.5 152.9L543.8 158.3L544.2 163.9L544.6 169.3L544.9 174.8L545.3 180.9L545.7 188.3L546.0 197.6L546.4 207.4L546.8 216.7L547.1 225.9L547.5 235.0L547.9 226.7L548.2 218.4L548.6 210.2L548.9 202.1L549.3 194.2L549.6 186.1L550.0 177.2L550.4 168.2L550.7 160.9L551.1 154.8L551.4 149.3L551.8 144.3L552.1 139.7L552.5 136.0L552.9 133.2L553.2 130.7L553.6 128.8L553.9 127.7L554.3 126.9L554.6 126.1L555.0 125.6L555.4 125.2L555.7 125.1L556.1 125.4L556.4 126.1L556.8 127.0L557.1 128.0L557.5 129.0L557.8 130.0L558.2 131.3L558.6 132.5L558.9 133.2L559.3 133.2L559.6 132.7L560.0 131.7L560.3 130.5L560.7 129.3L561.1 128.1L561.4 126.5L561.8 124.8L562.1 123.2L562.5 122.0L562.8 121.1L563.2 120.2L563.6 119.4L563.9 118.9L564.3 118.8L564.6 119.1L565.0 119.9L565.3 120.8L565.7 122.0L566.1 123.2L566.4 124.7L566.8 126.7L567.1 128.9L567.5 131.2L567.8 133.9L568.2 137.0L568.6 140.6L568.9 144.8L569.3 149.5L569.6 155.6L570.0 163.1L570.3 169.9L570.7 174.0L571.1 175.8L571.4 177.3L571.8 178.2L572.1 178.4L572.5 178.1L572.8 177.5L573.2 176.9L573.5 176.3L573.9 176.0L574.3 176.2L574.6 176.9L575.0 177.9L575.3 179.3L575.7 181.1L576.0 184.2L576.4 188.2L576.8 192.4L577.1 196.2L577.5 200.0L577.8 203.9L578.2 207.7L578.5 211.2L578.9 214.3L579.3 216.9L579.6 219.3L580.0 221.6L580.3 223.7L580.7 225.6L581.0 227.2L581.4 228.5L581.8 225.8L582.1 223.2L582.5 220.8L582.9 218.5L583.2 216.4L583.6 214.5L584.0 212.7L584.3 211.0L584.7 209.4L585.1 207.9L585.4 206.6L585.8 205.5L586.2 204.6L586.5 203.8L586.9 203.0L587.3 202.3L587.6 201.7L588.0 201.2L588.4 201.0L588.7 201.1L589.1 201.4L589.5 202.0L589.8 202.8L590.2 203.8L590.6 204.8L590.9 205.8L591.3 207.0L591.7 208.5L592.0 210.3L592.4 212.1L592.8 213.9L593.1 215.6L593.5 217.2L593.9 218.8L594.2 220.4L594.6 222.0L595.0 210.8L595.3 201.3L595.7 194.0L596.0 188.3L596.4 183.7L596.7 180.9L597.1 178.9L597.4 177.2L597.8 176.1L598.1 175.3L598.5 174.6L598.8 174.1L599.2 173.7L599.5 173.4L599.9 173.4L600.2 173.7L600.6 174.1L600.9 174.6L601.3 175.1L601.6 175.7L602.0 176.4L602.3 177.3L602.7 178.2L603.0 179.2L603.4 180.0L603.7 180.8L604.1 181.6L604.4 182.4L604.8 183.2L605.1 183.9L605.5 184.6L605.8 185.2L606.2 185.8L606.5 186.4L606.9 187.0L607.2 187.6L607.6 188.1L608.0 188.6L608.3 189.0L608.7 189.3L609.0 189.5L609.4 189.4L609.7 188.9L610.1 188.0L610.4 186.9L610.8 185.6L611.1 184.3L611.5 182.6L611.8 180.5L612.2 178.3L612.5 175.9L612.9 173.6L613.2 171.6L613.6 169.9L613.9 168.4L614.3 166.9L614.6 165.6L615.0 164.3L615.3 163.0L615.7 161.9L616.0 160.8L616.4 159.8L616.7 158.8L617.1 157.9L617.4 157.1L617.8 156.3L618.1 155.5L618.5 154.8L618.8 154.1L619.2 153.4L619.5 152.8L619.9 152.1L620.3 151.5L620.6 150.9L621.0 150.3L621.3 149.6L621.7 149.1L622.0 148.6L622.4 148.1L622.7 147.6L623.1 147.1L623.4 146.6L623.8 145.9L624.1 145.2L624.5 144.2L624.8 142.9L625.2 141.5L625.5 140.2L625.9 139.2L626.2 138.2L626.6 137.2L626.9 136.3L627.3 135.4L627.6 134.6L628.0 133.8L628.3 133.1L628.7 132.4L629.0 131.8L629.4 131.3L629.7 130.8L630.1 130.3L630.4 129.8L630.8 129.4L631.1 129.0L631.5 128.6L631.8 128.2L632.2 127.9L632.5 127.6L632.9 127.4L633.3 127.2L633.6 127.0L634.0 126.9L634.3 126.8L634.7 126.7L635.0 126.7L635.4 126.6L635.7 126.5L636.1 126.4L636.4 126.4L636.8 126.3L637.1 126.3L637.5 126.2L637.8 126.2L638.2 126.1L638.5 126.1L638.9 126.1L639.2 126.1L639.6 126.1L639.9 126.1L640.3 126.1L640.6 126.1L641.0 126.1L641.3 126.1L641.7 126.1L642.0 126.2L642.4 126.2L642.7 126.2L643.1 126.2L643.4 126.2L643.8 126.2L644.1 126.3L644.5 126.3L644.8 126.3L645.2 126.4L645.5 126.4L645.9 126.4L646.3 126.6L646.6 126.8L647.0 127.1L647.3 127.4L647.7 127.9L648.0 128.3L648.4 128.8L648.7 129.2L649.1 129.7L649.4 130.2L649.8 130.7L650.1 131.3L650.5 131.9L650.8 132.6L651.2 133.3L651.5 134.1L651.9 134.8L652.2 135.6L652.6 136.4L652.9 137.1L653.3 137.9L653.6 138.6L654.0 139.3L654.3 140.1L654.7 140.8L655.0 141.6L655.4 142.4L655.7 143.1L656.1 143.9L656.4 144.7L656.8 145.5L657.1 146.4L657.5 147.2L657.8 148.1L658.2 149.0L658.5 149.9L658.9 150.8L659.3 151.8L659.6 152.7L660.0 153.7L660.3 154.7L660.7 155.7L661.0 156.7L661.4 157.8L661.7 158.9L662.1 160.0L662.4 161.1L662.8 162.3L663.1 163.6L663.5 164.9L663.8 166.2L664.2 167.5L664.5 168.9L664.9 170.3L665.2 171.7L665.6 173.1L665.9 174.5L666.3 176.0L666.6 177.5L667.0 179.1L667.3 180.6L667.7 181.9L668.0 183.3L668.4 184.6L668.7 185.8L669.1 187.1L669.4 188.3L669.8 189.4L670.1 190.5L670.5 191.5L670.8 192.5L671.2 193.3L671.6 194.2L671.9 195.0L672.3 195.9L672.6 196.6L673.0 197.4L673.3 198.2L673.7 198.9L674.0 199.5L674.4 200.1L674.7 200.7L675.1 201.2L675.4 201.6L675.8 202.0L676.1 202.3L676.5 202.6L676.8 202.9L677.2 203.2L677.5 203.4L677.9 203.7L678.2 203.9L678.6 204.1L678.9 204.3L679.3 204.5L679.6 204.6L680.0 204.8L680.3 204.9L680.7 205.0L681.0 205.0L681.4 205.0L681.7 205.1L682.1 205.1L682.4 205.1L682.8 205.2L683.1 205.2L683.5 205.2L683.8 205.2L684.2 205.2" stroke="#00ff00" stroke-width="0.95"/>
<path d="M375.3 150.0L375.7 150.1L376.0 150.2L376.4 150.3L376.7 150.5L377.1 150.7L377.5 150.9L377.8 151.2L378.2 151.5L378.5 151.9L378.9 152.3L379.2 152.6L379.6 153.0L380.0 153.5L380.3 153.9L380.7 154.3L381.0 154.8L381.4 155.2L381.8 155.7L382.1 156.3L382.5 156.9L382.8 157.6L383.2 158.3L383.5 159.1L383.9 160.0L384.3 160.8L384.6 161.7L385.0 162.7L385.3 163.7L385.7 164.7L386.1 165.7L386.4 166.7L386.8 167.8L387.1 169.0L387.5 170.3L387.9 171.6L388.2 173.0L388.6 174.4L388.9 176.0L389.3 177.6L389.6 179.3L390.0 181.0L390.4 182.9L390.7 184.9L391.1 187.0L391.4 189.3L391.8 191.8L392.2 194.5L392.5 197.3L392.9 200.5L393.2 204.2L393.6 208.3L393.9 212.8L394.3 217.3L394.7 221.8L395.0 226.4L395.4 231.1L395.7 236.1L396.1 241.1L396.5 235.6L396.8 230.4L397.2 225.8L397.5 221.6L397.9 218.1L398.2 215.1L398.6 212.4L398.9 210.0L399.3 207.5L399.6 205.0L400.0 202.2L400.3 199.4L400.7 196.5L401.0 193.8L401.4 191.2L401.8 188.9L402.1 187.0L402.5 185.3L402.8 183.6L403.2 182.1L403.5 180.8L403.9 179.6L404.2 178.6L404.6 177.8L404.9 177.3L405.3 176.8L405.6 176.5L406.0 176.1L406.3 175.9L406.7 175.6L407.1 175.3L407.4 175.1L407.8 174.8L408.1 174.5L408.5 174.1L408.8 173.7L409.2 173.1L409.5 172.5L409.9 171.7L410.2 170.8L410.6 169.8L410.9 168.7L411.3 167.5L411.6 166.2L412.0 164.7L412.4 162.9L412.7 160.9L413.1 158.7L413.4 156.6L413.8 154.4L414.1 152.5L414.5 150.6L414.8 148.8L415.2 147.0L415.5 145.2L415.9 143.5L416.2 141.9L416.6 140.3L416.9 138.8L417.3 137.3L417.7 135.6L418.0 133.8L418.4 132.0L418.7 130.2L419.1 128.7L419.4 127.4L419.8 126.5L420.1 125.8L420.5 125.1L420.8 124.5L421.2 123.9L421.5 123.4L421.9 122.9L422.2 122.5L422.6 122.1L423.0 121.8L423.3 121.6L423.7 121.4L424.0 121.3L424.4 121.3L424.7 121.4L425.1 121.5L425.4 121.7L425.8 122.0L426.1 122.2L426.5 122.5L426.8 122.9L427.2 123.2L427.5 123.5L427.9 123.8L428.3 124.1L428.6 124.5L429.0 125.0L429.3 125.5L429.7 125.9L430.0 126.3L430.4 126.7L430.7 126.9L431.1 127.0L431.4 127.0L431.8 127.0L432.1 126.9L432.5 126.8L432.8 126.8L433.2 126.7L433.6 126.6L433.9 126.5L434.3 126.4L434.6 126.3L435.0 126.1L435.3 125.9L435.7 125.7L436.0 125.6L436.4 125.5L436.7 125.5L437.1 125.7L437.4 126.1L437.8 126.5L438.1 127.0L438.5 127.6L438.9 128.2L439.2 128.9L439.6 129.9L439.9 131.1L440.3 132.5L440.6 134.0L441.0 135.6L441.3 137.2L441.7 138.9L442.0 141.0L442.4 143.2L442.7 145.1L443.1 146.2L443.4 147.0L443.8 147.5L444.2 147.9L444.5 148.5L444.9 149.1L445.2 150.3L445.6 152.2L445.9 154.4L446.3 156.2L446.6 157.5L447.0 158.9L447.3 160.0L447.7 160.9L448.0 161.5L448.4 161.7L448.7 161.8L449.1 161.9L449.5 162.0L449.8 162.1L450.2 162.2L450.5 162.2L450.9 162.3L451.2 162.4L451.6 162.5L451.9 162.7L452.3 162.9L452.6 163.3L453.0 163.7L453.3 164.2L453.7 165.0L454.0 166.6L454.4 168.8L454.8 171.6L455.1 176.1L455.5 181.6L455.8 184.9L456.2 187.4L456.5 189.6L456.9 192.1L457.2 195.3L457.6 199.2L457.9 203.8L458.3 209.0L458.6 214.8L459.0 221.0L459.3 227.8L459.7 235.0L460.1 229.2L460.4 223.8L460.8 218.6L461.2 213.9L461.5 209.7L461.9 205.9L462.3 202.6L462.6 199.5L463.0 196.6L463.4 194.0L463.7 191.7L464.1 189.7L464.5 188.1L464.8 186.8L465.2 185.5L465.6 184.4L465.9 183.6L466.3 183.2L466.7 183.4L467.0 184.3L467.4 185.7L467.8 187.6L468.1 189.7L468.5 192.0L468.9 194.7L469.2 198.1L469.6 202.3L470.0 207.1L470.3 212.4L470.7 218.4L471.1 226.1L471.4 235.1L471.8 245.0L472.2 237.3L472.5 230.1L472.9 223.8L473.2 218.4L473.6 214.2L473.9 210.6L474.3 207.4L474.6 204.6L475.0 202.3L475.4 200.5L475.7 199.3L476.1 198.3L476.4 197.4L476.8 196.7L477.1 196.4L477.5 196.6L477.8 197.3L478.2 198.5L478.5 199.9L478.9 201.4L479.3 202.8L479.6 204.4L480.0 206.5L480.3 208.8L480.7 210.9L481.0 212.7L481.4 213.8L481.7 213.9L482.1 212.4L482.4 209.7L482.8 206.2L483.2 202.4L483.5 198.8L483.9 195.3L484.2 191.4L484.6 187.4L484.9 183.5L485.3 180.1L485.6 177.2L486.0 174.4L486.4 171.9L486.7 169.7L487.1 167.7L487.4 165.9L487.8 164.4L488.1 162.9L488.5 161.5L488.8 159.9L489.2 158.3L489.6 156.8L489.9 155.3L490.3 153.8L490.6 152.5L491.0 151.4L491.3 150.4L491.7 149.4L492.0 148.4L492.4 147.3L492.7 146.2L493.1 145.1L493.5 144.0L493.8 142.8L494.2 141.5L494.5 140.1L494.9 138.6L495.2 137.0L495.6 135.5L495.9 134.0L496.3 132.7L496.6 131.3L497.0 130.1L497.4 128.9L497.7 128.0L498.1 127.4L498.4 127.0L498.8 126.6L499.1 126.3L499.5 126.1L499.8 126.0L500.2 126.0L500.6 126.1L500.9 126.1L501.3 126.2L501.6 126.3L502.0 126.4L502.3 126.4L502.7 126.3L503.0 126.0L503.4 125.6L503.8 125.1L504.1 124.6L504.5 124.3L504.8 124.1L505.2 124.2L505.5 124.5L505.9 125.0L506.2 125.7L506.6 126.5L506.9 127.5L507.3 128.6L507.7 130.1L508.0 132.7L508.4 135.9L508.7 139.2L509.1 142.5L509.4 146.2L509.8 151.0L510.1 157.7L510.5 165.5L510.8 173.2L511.2 181.4L511.6 189.8L511.9 198.1L512.3 205.6L512.6 212.2L513.0 218.2L513.3 223.9L513.7 229.1L514.0 233.8L514.4 238.0L514.8 224.4L515.2 211.4L515.5 199.1L515.9 187.0L516.3 175.7L516.7 166.4L517.0 158.6L517.4 151.4L517.8 144.0L518.2 137.0L518.5 132.8L518.9 129.7L519.3 127.5L519.7 126.1L520.0 124.9L520.4 124.5L520.8 125.2L521.2 126.8L521.5 128.7L521.9 131.0L522.3 133.8L522.7 136.4L523.0 138.0L523.4 139.4L523.8 140.3L524.2 137.7L524.5 134.6L524.9 131.0L525.3 126.8L525.6 122.4L526.0 117.6L526.4 112.7L526.7 108.3L527.1 104.1L527.5 100.3L527.8 97.2L528.2 94.4L528.6 92.2L528.9 90.6L529.3 89.3L529.6 88.6L530.0 89.0L530.4 90.2L530.7 91.7L531.1 93.7L531.5 96.4L531.8 99.4L532.2 103.0L532.6 107.1L532.9 111.5L533.3 116.2L533.7 121.1L534.0 125.6L534.4 129.8L534.8 133.7L535.1 137.2L535.5 140.5L535.9 138.0L536.2 135.7L536.6 133.5L537.0 131.3L537.3 129.2L537.7 127.5L538.0 126.0L538.4 124.5L538.8 123.2L539.1 122.5L539.5 122.6L539.9 123.5L540.2 125.0L540.6 126.9L541.0 129.0L541.3 131.9L541.7 135.5L542.1 139.2L542.4 143.0L542.8 147.9L543.1 156.3L543.5 170.8L543.9 190.7L544.2 217.4L544.6 241.1L545.0 228.4L545.3 214.6L545.7 196.8L546.0 181.8L546.4 177.2L546.7 174.1L547.1 171.8L547.4 170.1L547.8 168.6L548.1 167.0L548.5 165.2L548.9 162.8L549.2 160.3L549.6 157.6L549.9 154.9L550.3 151.9L550.6 148.8L551.0 145.3L551.3 141.6L551.7 138.0L552.0 134.2L552.4 130.8L552.8 128.1L553.1 125.7L553.5 124.1L553.8 123.1L554.2 122.3L554.5 121.7L554.9 121.6L555.2 121.9L555.6 122.5L556.0 123.3L556.3 124.1L556.7 124.8L557.0 125.7L557.4 126.6L557.7 127.3L558.1 127.5L558.4 127.4L558.8 127.3L559.1 127.1L559.5 126.8L559.9 126.6L560.2 126.3L560.6 125.9L560.9 125.4L561.3 125.1L561.6 125.0L562.0 125.2L562.3 125.6L562.7 126.1L563.0 126.7L563.4 127.4L563.8 128.3L564.1 129.4L564.5 130.7L564.8 132.1L565.2 133.6L565.5 135.4L565.9 137.3L566.2 139.2L566.6 141.2L566.9 143.2L567.3 145.5L567.7 148.5L568.0 153.4L568.4 158.3L568.7 161.3L569.1 161.5L569.4 161.6L569.8 161.7L570.1 161.7L570.5 161.8L570.9 161.8L571.2 161.9L571.6 162.1L571.9 162.3L572.3 162.7L572.6 163.2L573.0 163.9L573.3 164.6L573.7 165.6L574.0 167.3L574.4 169.8L574.8 172.7L575.1 176.1L575.5 181.0L575.8 187.2L576.2 193.9L576.5 200.5L576.9 206.9L577.2 213.4L577.6 220.2L577.9 227.1L578.3 234.2L578.7 227.8L579.0 221.8L579.4 216.3L579.8 211.3L580.1 206.9L580.5 203.1L580.9 199.5L581.2 196.2L581.6 193.2L581.9 190.7L582.3 188.8L582.7 187.4L583.0 186.2L583.4 185.1L583.8 184.2L584.1 183.5L584.5 183.2L584.9 183.4L585.2 184.3L585.6 185.7L586.0 187.6L586.3 189.8L586.7 192.2L587.0 194.9L587.4 198.7L587.8 203.3L588.1 208.9L588.5 215.1L588.9 223.1L589.2 233.4L589.6 245.0L590.0 237.4L590.3 230.3L590.7 223.9L591.0 218.6L591.4 214.4L591.7 210.8L592.1 207.5L592.4 204.7L592.8 202.3L593.1 200.6L593.5 199.5L593.8 198.6L594.2 197.7L594.5 197.1L594.9 196.6L595.2 196.4L595.6 196.6L595.9 197.3L596.3 198.3L596.6 199.6L597.0 201.1L597.3 202.4L597.7 203.8L598.0 205.4L598.4 207.4L598.8 209.4L599.1 211.2L599.5 212.7L599.8 213.7L600.2 214.0L600.5 213.0L600.9 210.7L601.2 207.6L601.6 204.1L601.9 200.4L602.3 196.9L602.6 194.1L603.0 191.4L603.3 188.7L603.7 186.0L604.0 183.4L604.4 180.9L604.7 178.2L605.1 175.4L605.4 172.6L605.8 170.0L606.1 167.7L606.5 166.0L606.8 164.7L607.2 163.6L607.5 162.6L607.9 161.7L608.3 160.9L608.6 160.1L609.0 159.4L609.3 158.6L609.7 157.9L610.0 157.1L610.4 156.4L610.7 155.7L611.1 155.1L611.4 154.4L611.8 153.8L612.1 153.1L612.5 152.4L612.8 151.7L613.2 150.9L613.5 150.1L613.9 149.3L614.2 148.4L614.6 147.5L614.9 146.6L615.3 145.6L615.6 144.6L616.0 143.5L616.3 142.2L616.7 140.8L617.1 139.2L617.4 137.6L617.8 136.0L618.1 134.5L618.5 133.1L618.8 131.9L619.2 130.7L619.5 129.5L619.9 128.5L620.2 127.5L620.6 126.8L620.9 126.4L621.3 126.0L621.6 125.6L622.0 125.3L622.3 125.1L622.7 124.9L623.0 124.8L623.4 124.8L623.7 124.9L624.1 125.1L624.4 125.3L624.8 125.5L625.1 125.7L625.5 126.0L625.9 126.2L626.2 126.3L626.6 126.4L626.9 126.4L627.3 126.4L627.6 126.3L628.0 126.3L628.3 126.2L628.7 126.1L629.0 126.0L629.4 125.9L629.7 125.8L630.1 125.6L630.4 125.5L630.8 125.4L631.1 125.3L631.5 125.2L631.8 125.1L632.2 125.0L632.5 124.9L632.9 124.8L633.2 124.6L633.6 124.5L633.9 124.4L634.3 124.3L634.7 124.2L635.0 124.1L635.4 124.1L635.7 124.1L636.1 124.2L636.4 124.3L636.8 124.5L637.1 124.8L637.5 125.2L637.8 125.5L638.2 126.0L638.5 126.4L638.9 126.9L639.2 127.4L639.6 128.0L639.9 128.8L640.3 129.7L640.6 130.8L641.0 132.0L641.3 133.3L641.7 134.7L642.0 136.0L642.4 137.3L642.7 138.6L643.1 139.9L643.5 141.3L643.8 142.6L644.2 144.0L644.5 145.4L644.9 146.8L645.2 148.2L645.6 149.6L645.9 151.0L646.3 152.4L646.6 153.9L647.0 155.3L647.3 156.8L647.7 158.4L648.0 159.9L648.4 161.6L648.7 163.2L649.1 164.9L649.4 166.6L649.8 168.3L650.1 170.0L650.5 171.7L650.8 173.4L651.2 175.0L651.5 176.6L651.9 178.2L652.2 179.9L652.6 181.6L653.0 183.4L653.3 185.3L653.7 187.4L654.0 189.6L654.4 191.9L654.7 194.1L655.1 196.2L655.4 198.1L655.8 200.0L656.1 201.7L656.5 203.5L656.8 205.2L657.2 206.9L657.5 208.6L657.9 210.5L658.2 212.4L658.6 214.4L658.9 216.4L659.3 218.5L659.6 220.8L660.0 223.3L660.3 226.3L660.7 229.9L661.0 234.1L661.4 238.6L661.8 235.4L662.1 232.1L662.5 228.5L662.8 224.7L663.2 220.4L663.5 215.9L663.9 212.1L664.2 209.2L664.6 206.8L665.0 204.7L665.3 202.5L665.7 199.9L666.0 196.6L666.4 192.3L666.7 188.0L667.1 184.7L667.5 182.3L667.8 180.3L668.2 178.5L668.5 176.9L668.9 175.5L669.2 174.1L669.6 173.0L670.0 171.9L670.3 170.9L670.7 169.9L671.0 169.0L671.4 168.0L671.7 167.1L672.1 166.1L672.4 165.1L672.8 164.1L673.2 163.0L673.5 162.0L673.9 161.1L674.2 160.1L674.6 159.2L674.9 158.3L675.3 157.5L675.6 156.7L676.0 156.1L676.4 155.5L676.7 154.9L677.1 154.5L677.4 154.0L677.8 153.6L678.1 153.2L678.5 152.8L678.9 152.5L679.2 152.1L679.6 151.8L679.9 151.5L680.3 151.2L680.6 151.0L681.0 150.7L681.4 150.4L681.7 150.2L682.1 150.0L682.4 149.7L682.8 149.5L683.1 149.3L683.5 149.1L683.8 149.0L684.2 148.8" stroke="#0000ff" stroke-width="0.95"/>
<path d="M375.3 149.0L375.7 149.0L376.0 149.1L376.4 149.1L376.7 149.2L377.1 149.4L377.4 149.5L377.8 149.7L378.1 149.9L378.5 150.1L378.8 150.3L379.2 150.6L379.5 150.8L379.9 151.1L380.2 151.4L380.6 151.8L380.9 152.1L381.3 152.4L381.6 152.8L382.0 153.2L382.3 153.5L382.7 153.9L383.1 154.4L383.4 154.9L383.8 155.6L384.1 156.4L384.5 157.2L384.8 158.1L385.2 159.0L385.5 160.0L385.9 161.0L386.2 162.1L386.6 163.2L386.9 164.3L387.3 165.4L387.6 166.5L388.0 167.6L388.3 168.9L388.7 170.2L389.0 171.6L389.4 173.0L389.7 174.4L390.1 175.9L390.4 177.4L390.8 179.0L391.2 180.5L391.5 181.9L391.9 183.4L392.2 185.0L392.6 186.5L392.9 188.1L393.3 189.7L393.6 191.3L394.0 192.9L394.3 194.9L394.7 197.0L395.0 199.2L395.4 201.2L395.7 203.0L396.1 204.4L396.4 205.3L396.8 205.8L397.1 206.2L397.5 206.5L397.8 206.4L398.2 206.0L398.6 205.1L398.9 203.9L399.3 202.5L399.6 201.1L400.0 199.7L400.3 198.5L400.7 197.2L401.0 195.7L401.4 194.3L401.7 193.2L402.1 192.6L402.4 192.4L402.8 192.3L403.1 192.1L403.5 192.0L403.8 192.0L404.2 192.1L404.5 192.6L404.9 193.4L405.2 194.5L405.6 195.5L406.0 196.5L406.3 197.7L406.7 199.0L407.0 200.4L407.4 201.8L407.7 202.9L408.1 203.7L408.4 204.0L408.8 203.7L409.1 203.0L409.5 202.0L409.8 200.7L410.2 199.4L410.5 197.9L410.9 195.9L411.2 193.5L411.6 190.9L411.9 188.2L412.3 185.6L412.6 182.9L413.0 180.1L413.3 177.2L413.7 174.1L414.1 170.7L414.4 167.1L414.8 163.7L415.1 160.7L415.5 158.2L415.8 155.9L416.2 153.9L416.5 152.0L416.9 150.1L417.2 148.4L417.6 146.6L417.9 144.9L418.3 143.2L418.6 141.6L419.0 140.1L419.3 138.6L419.7 137.2L420.0 135.7L420.4 134.2L420.7 132.7L421.1 131.3L421.5 130.1L421.8 129.1L422.2 128.5L422.5 128.1L422.9 127.8L423.2 127.6L423.6 127.4L423.9 127.2L424.3 127.1L424.6 127.0L425.0 127.0L425.3 127.1L425.7 127.4L426.0 127.7L426.4 128.0L426.7 128.4L427.1 128.7L427.4 129.0L427.8 129.5L428.1 129.9L428.5 130.2L428.8 130.2L429.2 130.1L429.6 130.0L429.9 129.9L430.3 129.7L430.6 129.5L431.0 129.3L431.3 129.1L431.7 128.9L432.0 128.7L432.4 128.3L432.7 127.9L433.1 127.5L433.4 127.1L433.8 126.7L434.1 126.3L434.5 126.0L434.8 125.7L435.2 125.5L435.5 125.2L435.9 125.0L436.2 124.8L436.6 124.7L437.0 124.7L437.3 124.8L437.7 125.1L438.0 125.4L438.4 125.9L438.7 126.4L439.1 126.9L439.4 127.6L439.8 128.3L440.1 129.5L440.5 131.0L440.8 132.7L441.2 134.6L441.5 136.4L441.9 138.1L442.2 140.0L442.6 142.0L442.9 143.8L443.3 145.4L443.6 146.8L444.0 148.1L444.4 149.4L444.7 150.5L445.1 151.5L445.4 152.3L445.8 152.8L446.1 153.3L446.5 153.7L446.8 154.1L447.2 154.3L447.5 154.5L447.9 154.6L448.2 154.7L448.6 154.7L448.9 154.8L449.3 154.8L449.6 154.9L450.0 154.9L450.3 155.0L450.7 155.1L451.0 155.3L451.4 155.6L451.7 156.1L452.1 156.7L452.5 157.4L452.8 158.3L453.2 159.7L453.5 161.7L453.9 164.1L454.2 166.9L454.6 169.9L454.9 173.8L455.3 178.5L455.6 182.3L456.0 185.4L456.3 188.4L456.7 191.6L457.0 195.4L457.4 199.7L457.7 204.7L458.1 210.8L458.4 218.4L458.8 229.1L459.1 242.6L459.5 257.6L459.9 245.0L460.2 233.3L460.6 223.4L461.0 215.5L461.3 209.3L461.7 203.9L462.1 199.5L462.4 196.4L462.8 194.2L463.2 192.1L463.5 190.4L463.9 188.9L464.3 187.8L464.6 187.1L465.0 187.0L465.4 187.5L465.8 188.5L466.1 189.8L466.5 191.4L466.9 193.2L467.2 195.1L467.6 196.8L468.0 198.5L468.3 200.2L468.7 202.2L469.1 204.6L469.4 207.8L469.8 212.0L470.2 221.6L470.5 238.4L470.9 257.6L471.3 242.5L471.6 229.4L472.0 220.5L472.3 215.7L472.7 212.1L473.0 209.3L473.4 206.8L473.7 204.1L474.1 201.2L474.5 198.5L474.8 196.2L475.2 194.4L475.5 193.4L475.9 192.5L476.2 191.7L476.6 191.1L476.9 190.8L477.3 190.7L477.7 191.2L478.0 192.1L478.4 193.4L478.7 194.8L479.1 196.3L479.4 197.8L479.8 199.3L480.1 201.2L480.5 203.3L480.9 205.5L481.2 207.4L481.6 209.0L481.9 210.0L482.3 210.2L482.6 208.4L483.0 204.9L483.3 200.5L483.7 196.1L484.1 191.9L484.4 187.3L484.8 182.7L485.1 178.6L485.5 174.7L485.8 170.9L486.2 167.5L486.5 164.6L486.9 162.4L487.3 160.7L487.6 159.1L488.0 157.7L488.3 156.4L488.7 155.3L489.0 154.2L489.4 153.3L489.7 152.4L490.1 151.7L490.5 151.0L490.8 150.4L491.2 149.7L491.5 148.9L491.9 148.0L492.2 146.8L492.6 145.4L493.0 143.9L493.3 142.3L493.7 140.8L494.0 139.2L494.4 137.4L494.7 135.7L495.1 134.1L495.4 132.5L495.8 131.0L496.2 129.6L496.5 128.3L496.9 127.4L497.2 126.5L497.6 125.8L497.9 125.2L498.3 125.0L498.6 125.1L499.0 125.4L499.4 125.8L499.7 126.3L500.1 126.8L500.4 127.4L500.8 127.9L501.1 128.3L501.5 128.8L501.8 129.2L502.2 129.6L502.6 129.7L502.9 129.6L503.3 129.5L503.6 129.3L504.0 129.2L504.3 129.0L504.7 128.9L505.0 128.9L505.4 129.2L505.8 129.8L506.1 130.7L506.5 131.7L506.8 132.8L507.2 134.5L507.5 137.0L507.9 139.9L508.2 142.5L508.6 145.0L509.0 148.7L509.3 156.1L509.7 166.1L510.0 177.2L510.4 190.5L510.7 203.0L511.1 212.9L511.4 221.6L511.8 229.0L512.2 222.4L512.5 216.1L512.9 210.0L513.3 204.1L513.6 198.7L514.0 193.5L514.3 188.4L514.7 183.1L515.1 177.5L515.4 172.0L515.8 166.6L516.2 161.8L516.5 157.7L516.9 153.6L517.3 148.9L517.6 142.6L518.0 136.6L518.3 132.9L518.7 130.1L519.1 128.0L519.4 126.7L519.8 125.6L520.2 124.9L520.5 124.8L520.9 125.8L521.3 127.6L521.6 129.7L522.0 132.7L522.3 136.4L522.7 140.7L523.1 145.9L523.4 152.6L523.8 161.4L524.2 154.7L524.5 148.3L524.9 142.2L525.2 136.2L525.6 130.3L526.0 124.1L526.3 117.9L526.7 112.7L527.1 108.5L527.4 104.9L527.8 101.8L528.1 99.0L528.5 96.8L528.9 95.4L529.2 94.3L529.6 93.7L530.0 93.9L530.3 94.8L530.7 96.0L531.0 97.7L531.4 100.2L531.8 103.1L532.1 106.5L532.5 110.5L532.9 114.8L533.2 119.6L533.6 124.8L533.9 129.9L534.3 135.5L534.7 142.7L535.0 151.4L535.4 161.4L535.8 153.3L536.1 146.1L536.5 139.4L536.9 134.4L537.2 131.0L537.6 128.5L538.0 126.6L538.4 124.9L538.7 123.6L539.1 122.7L539.5 122.7L539.8 123.5L540.2 125.0L540.6 126.8L540.9 128.9L541.3 132.0L541.7 135.7L542.1 139.0L542.4 141.9L542.8 145.0L543.2 148.9L543.5 153.8L543.9 159.4L544.3 165.0L544.6 170.6L545.0 176.4L545.4 182.6L545.8 189.4L546.1 196.9L546.5 204.8L546.9 212.9L547.2 221.3L547.6 230.0L548.0 222.0L548.3 214.2L548.7 206.7L549.0 199.5L549.4 192.8L549.7 186.0L550.1 177.5L550.5 168.3L550.8 161.0L551.2 154.8L551.5 149.4L551.9 144.3L552.2 139.8L552.6 136.1L552.9 133.2L553.3 130.8L553.7 129.3L554.0 128.2L554.4 127.4L554.7 127.0L555.1 127.1L555.4 127.5L555.8 128.0L556.2 128.4L556.5 128.6L556.9 128.8L557.2 128.9L557.6 129.0L557.9 128.8L558.3 128.4L558.7 127.9L559.0 127.2L559.4 126.7L559.7 126.2L560.1 125.7L560.4 125.2L560.8 124.8L561.1 124.6L561.5 124.5L561.9 124.7L562.2 125.2L562.6 125.7L562.9 126.4L563.3 127.1L563.6 128.1L564.0 129.2L564.4 130.5L564.7 131.8L565.1 133.3L565.4 135.0L565.8 136.9L566.1 138.7L566.5 140.4L566.8 142.4L567.2 144.8L567.6 149.2L567.9 153.0L568.3 153.4L568.6 153.7L569.0 153.8L569.3 153.9L569.7 154.0L570.1 154.2L570.4 154.3L570.8 154.6L571.1 154.8L571.5 155.2L571.8 155.5L572.2 156.0L572.6 156.5L572.9 157.2L573.3 158.3L573.6 159.8L574.0 161.7L574.3 164.0L574.7 166.7L575.0 169.7L575.4 173.9L575.8 180.1L576.1 187.6L576.5 197.2L576.8 208.9L577.2 222.4L577.5 239.0L577.9 257.6L578.3 243.3L578.6 230.4L579.0 219.8L579.4 212.0L579.7 205.4L580.1 200.1L580.4 196.4L580.8 194.0L581.2 191.8L581.5 190.0L581.9 188.5L582.3 187.5L582.6 187.0L583.0 187.2L583.3 188.0L583.7 189.2L584.1 190.7L584.4 192.5L584.8 194.4L585.2 196.2L585.5 198.0L585.9 199.8L586.3 201.8L586.6 204.2L587.0 207.2L587.3 210.9L587.7 215.8L588.1 226.2L588.4 241.2L588.8 257.6L589.2 244.9L589.5 233.5L589.9 224.6L590.2 218.7L590.6 214.0L590.9 210.2L591.3 207.0L591.6 204.2L592.0 201.6L592.3 199.1L592.7 197.0L593.0 195.3L593.4 194.0L593.7 193.1L594.1 192.2L594.5 191.5L594.8 191.0L595.2 190.7L595.5 190.8L595.9 191.4L596.2 192.3L596.6 193.5L596.9 194.8L597.3 196.2L597.6 197.5L598.0 198.6L598.3 199.9L598.7 201.3L599.0 202.8L599.4 204.4L599.8 205.8L600.1 207.2L600.5 208.4L600.8 209.3L601.2 210.0L601.5 210.3L601.9 209.5L602.2 206.5L602.6 202.1L602.9 197.4L603.3 193.1L603.6 189.9L604.0 187.0L604.3 184.1L604.7 181.1L605.1 177.9L605.4 174.5L605.8 171.4L606.1 168.4L606.5 165.3L606.8 162.3L607.2 159.7L607.5 157.9L607.9 156.7L608.2 155.7L608.6 154.9L608.9 154.2L609.3 153.5L609.6 153.0L610.0 152.4L610.4 151.9L610.7 151.3L611.1 150.7L611.4 150.2L611.8 149.8L612.1 149.4L612.5 149.0L612.8 148.6L613.2 148.2L613.5 147.7L613.9 147.2L614.2 146.5L614.6 145.7L614.9 144.6L615.3 142.9L615.7 141.3L616.0 139.7L616.4 138.0L616.7 136.4L617.1 134.8L617.4 133.4L617.8 132.1L618.1 131.0L618.5 130.0L618.8 129.0L619.2 128.1L619.5 127.3L619.9 126.6L620.2 126.1L620.6 125.7L621.0 125.4L621.3 125.1L621.7 124.8L622.0 124.6L622.4 124.4L622.7 124.3L623.1 124.3L623.4 124.4L623.8 124.6L624.1 125.0L624.5 125.4L624.8 125.8L625.2 126.2L625.6 126.7L625.9 127.0L626.3 127.3L626.6 127.7L627.0 128.0L627.3 128.3L627.7 128.7L628.0 129.0L628.4 129.3L628.7 129.6L629.1 129.8L629.4 129.9L629.8 130.0L630.1 130.0L630.5 129.9L630.9 129.9L631.2 129.8L631.6 129.7L631.9 129.6L632.3 129.4L632.6 129.3L633.0 129.2L633.3 129.1L633.7 129.1L634.0 129.0L634.4 129.0L634.7 129.1L635.1 129.3L635.4 129.6L635.8 129.9L636.2 130.3L636.5 130.8L636.9 131.3L637.2 131.8L637.6 132.4L637.9 133.1L638.3 134.1L638.6 135.2L639.0 136.4L639.3 137.7L639.7 138.9L640.0 140.1L640.4 141.2L640.7 142.3L641.1 143.3L641.5 144.5L641.8 145.7L642.2 147.2L642.5 148.9L642.9 150.7L643.2 152.8L643.6 154.9L643.9 157.1L644.3 159.5L644.6 162.1L645.0 164.9L645.3 167.7L645.7 170.4L646.0 173.0L646.4 175.4L646.8 177.6L647.1 179.9L647.5 182.5L647.8 185.2L648.2 188.1L648.5 191.2L648.9 194.5L649.2 198.1L649.6 202.3L649.9 207.2L650.3 212.3L650.6 217.2L651.0 221.6L651.3 225.8L651.7 229.8L652.1 225.9L652.4 222.4L652.8 219.5L653.1 217.3L653.5 215.5L653.8 213.9L654.2 212.6L654.6 211.3L654.9 210.0L655.3 208.8L655.6 207.7L656.0 206.5L656.3 205.5L656.7 204.4L657.1 203.4L657.4 202.4L657.8 201.5L658.1 200.6L658.5 199.8L658.8 198.9L659.2 198.2L659.6 197.5L659.9 196.8L660.3 196.1L660.6 195.5L661.0 194.8L661.3 194.2L661.7 193.5L662.1 192.8L662.4 192.1L662.8 191.3L663.1 190.5L663.5 189.6L663.8 188.7L664.2 187.7L664.6 186.7L664.9 185.6L665.3 184.5L665.6 183.2L666.0 181.9L666.3 180.5L666.7 179.0L667.1 177.6L667.4 176.0L667.8 174.5L668.1 173.1L668.5 171.6L668.8 170.3L669.2 169.0L669.6 167.8L669.9 166.8L670.3 165.7L670.6 164.6L671.0 163.6L671.3 162.6L671.7 161.6L672.1 160.7L672.4 159.8L672.8 158.9L673.1 158.1L673.5 157.3L673.8 156.6L674.2 155.9L674.6 155.3L674.9 154.8L675.3 154.2L675.6 153.7L676.0 153.2L676.3 152.7L676.7 152.3L677.1 151.8L677.4 151.4L677.8 151.0L678.1 150.7L678.5 150.3L678.8 150.0L679.2 149.7L679.6 149.5L679.9 149.3L680.3 149.1L680.6 148.8L681.0 148.6L681.3 148.5L681.7 148.3L682.1 148.1L682.4 148.0L682.8 147.8L683.1 147.7L683.5 147.6L683.8 147.5L684.2 147.5" stroke="#000000" stroke-width="0.95"/>
<path d="M375.3 143.4L375.7 143.4L376.0 143.4L376.4 143.5L376.7 143.6L377.1 143.7L377.4 143.8L377.8 143.9L378.1 144.0L378.5 144.2L378.8 144.3L379.2 144.5L379.6 144.7L379.9 144.9L380.3 145.0L380.6 145.3L381.0 145.6L381.3 145.9L381.7 146.3L382.0 146.7L382.4 147.2L382.7 147.6L383.1 148.1L383.4 148.6L383.8 149.1L384.2 149.6L384.5 150.2L384.9 150.9L385.2 151.5L385.6 152.2L385.9 152.9L386.3 153.7L386.6 154.4L387.0 155.2L387.3 156.0L387.7 156.9L388.1 157.7L388.4 158.5L388.8 159.4L389.1 160.3L389.5 161.1L389.8 162.0L390.2 162.9L390.5 163.8L390.9 164.7L391.2 165.6L391.6 166.5L391.9 167.5L392.3 168.4L392.7 169.4L393.0 170.4L393.4 171.3L393.7 172.3L394.1 173.3L394.4 174.3L394.8 175.3L395.1 176.3L395.5 177.4L395.8 178.5L396.2 179.5L396.6 180.3L396.9 181.1L397.3 181.7L397.6 182.4L398.0 183.0L398.3 183.5L398.7 184.1L399.0 184.6L399.4 185.1L399.7 185.6L400.1 186.1L400.4 186.6L400.8 187.1L401.2 187.5L401.5 187.9L401.9 188.3L402.2 188.6L402.6 189.1L402.9 189.5L403.3 190.0L403.6 190.6L404.0 191.3L404.3 192.1L404.7 193.2L405.1 194.5L405.4 196.0L405.8 197.6L406.1 199.4L406.5 201.2L406.8 203.4L407.2 206.1L407.5 209.0L407.9 211.9L408.2 214.6L408.6 217.1L408.9 219.7L409.3 222.2L409.7 218.3L410.0 214.5L410.4 210.7L410.7 207.1L411.1 203.5L411.4 200.0L411.8 196.6L412.1 193.3L412.5 190.0L412.8 186.9L413.2 183.5L413.5 179.3L413.9 173.0L414.3 168.7L414.6 165.8L415.0 163.6L415.3 161.6L415.7 159.6L416.0 157.4L416.4 155.0L416.7 152.5L417.1 150.3L417.4 148.5L417.8 146.7L418.2 145.2L418.5 143.7L418.9 142.4L419.2 141.1L419.6 139.9L419.9 138.7L420.3 137.6L420.6 136.5L421.0 135.6L421.3 134.7L421.7 134.0L422.0 133.4L422.4 132.8L422.8 132.2L423.1 131.6L423.5 131.1L423.8 130.7L424.2 130.4L424.5 130.2L424.9 130.2L425.2 130.2L425.6 130.2L425.9 130.2L426.3 130.2L426.6 130.2L427.0 130.2L427.4 130.2L427.7 130.2L428.1 130.2L428.4 130.2L428.8 130.2L429.1 130.1L429.5 130.1L429.8 129.9L430.2 129.8L430.5 129.6L430.9 129.4L431.2 129.2L431.6 129.0L432.0 128.7L432.3 128.4L432.7 128.0L433.0 127.6L433.4 127.2L433.7 126.8L434.1 126.4L434.4 126.1L434.8 125.8L435.1 125.4L435.5 125.1L435.9 124.9L436.2 124.7L436.6 124.5L436.9 124.5L437.3 124.6L437.6 124.8L438.0 125.1L438.3 125.4L438.7 125.9L439.0 126.4L439.4 126.9L439.7 127.4L440.1 128.1L440.5 129.0L440.8 130.1L441.2 131.5L441.5 133.0L441.9 134.7L442.2 136.4L442.6 138.1L442.9 140.5L443.3 143.1L443.6 144.8L444.0 145.6L444.3 146.2L444.7 146.7L445.1 147.2L445.4 147.6L445.8 147.9L446.1 148.2L446.5 148.5L446.8 148.7L447.2 149.0L447.5 149.3L447.9 149.5L448.2 149.7L448.6 149.8L449.0 150.0L449.3 150.2L449.7 150.4L450.0 150.7L450.4 151.0L450.7 151.3L451.1 151.8L451.4 152.4L451.8 153.2L452.1 154.1L452.5 155.2L452.8 156.3L453.2 157.6L453.6 159.1L453.9 160.9L454.3 163.1L454.6 165.8L455.0 168.9L455.3 173.6L455.7 179.8L456.0 183.0L456.4 185.5L456.7 187.6L457.1 189.5L457.4 191.6L457.8 194.1L458.2 197.2L458.5 200.5L458.9 203.4L459.2 205.3L459.6 205.9L459.9 205.3L460.3 204.0L460.6 202.3L461.0 200.3L461.3 198.2L461.7 196.4L462.0 194.9L462.4 193.6L462.8 192.1L463.1 190.7L463.5 189.3L463.8 188.2L464.2 187.2L464.5 186.5L464.9 186.3L465.2 186.5L465.6 187.3L465.9 188.4L466.3 189.8L466.7 191.4L467.0 193.1L467.4 194.8L467.7 196.5L468.1 197.9L468.4 199.2L468.8 200.5L469.1 202.2L469.5 204.4L469.8 207.4L470.2 211.4L470.5 228.6L470.9 257.6L471.3 236.8L471.6 221.7L472.0 216.1L472.3 212.6L472.7 210.0L473.0 207.9L473.4 205.4L473.7 202.3L474.1 199.1L474.4 196.0L474.8 193.2L475.2 190.9L475.5 189.1L475.9 187.5L476.2 186.0L476.6 184.8L476.9 184.0L477.3 183.8L477.6 184.3L478.0 185.2L478.3 186.6L478.7 188.1L479.0 189.8L479.4 191.4L479.8 192.8L480.1 194.5L480.5 196.3L480.8 198.1L481.2 199.5L481.5 200.2L481.9 200.0L482.2 199.0L482.6 197.6L482.9 195.8L483.3 193.8L483.7 191.5L484.0 188.3L484.4 184.5L484.7 180.8L485.1 177.1L485.4 173.8L485.8 170.8L486.1 168.1L486.5 165.5L486.8 163.3L487.2 161.4L487.6 159.8L487.9 158.4L488.3 157.2L488.6 156.0L489.0 155.0L489.3 153.9L489.7 152.9L490.0 152.0L490.4 151.1L490.7 150.3L491.1 149.5L491.4 148.7L491.8 147.8L492.2 146.7L492.5 145.4L492.9 144.1L493.2 142.6L493.6 141.2L493.9 139.6L494.3 137.9L494.6 136.2L495.0 134.5L495.3 132.9L495.7 131.4L496.1 130.0L496.4 128.6L496.8 127.6L497.1 126.8L497.5 126.0L497.8 125.4L498.2 125.0L498.5 125.0L498.9 125.3L499.2 125.6L499.6 126.1L500.0 126.7L500.3 127.2L500.7 127.7L501.0 128.2L501.4 128.6L501.7 129.1L502.1 129.5L502.4 129.7L502.8 129.7L503.1 129.6L503.5 129.4L503.9 129.2L504.2 129.1L504.6 128.9L504.9 128.9L505.3 129.1L505.6 129.6L506.0 130.3L506.3 131.3L506.7 132.3L507.0 133.7L507.4 136.0L507.7 138.7L508.1 141.5L508.5 144.0L508.8 147.0L509.2 152.9L509.5 162.0L509.9 170.1L510.2 178.2L510.6 187.6L510.9 197.8L511.3 207.4L511.6 216.3L512.0 224.7L512.4 217.5L512.7 210.7L513.1 204.5L513.5 198.9L513.8 194.1L514.2 189.6L514.6 185.0L515.0 179.6L515.3 173.9L515.7 168.3L516.1 163.2L516.4 158.8L516.8 154.7L517.2 150.2L517.5 144.2L517.9 137.8L518.3 133.6L518.6 130.6L519.0 128.3L519.4 126.9L519.7 125.7L520.1 124.9L520.5 124.7L520.8 125.7L521.2 127.4L521.6 129.5L522.0 132.6L522.3 136.2L522.7 140.0L523.1 144.2L523.4 149.7L523.8 157.0L524.2 152.2L524.5 147.1L524.9 141.7L525.2 136.1L525.6 130.3L526.0 124.2L526.3 117.9L526.7 112.7L527.1 108.5L527.4 104.9L527.8 101.8L528.1 99.0L528.5 96.8L528.9 95.5L529.2 94.5L529.6 93.9L530.0 94.1L530.3 94.9L530.7 96.0L531.0 97.7L531.4 100.2L531.8 103.1L532.1 106.5L532.5 110.5L532.9 114.8L533.2 119.6L533.6 124.8L533.9 130.1L534.3 135.6L534.7 142.0L535.0 148.3L535.4 153.8L535.8 148.8L536.1 143.9L536.5 138.9L536.9 134.6L537.2 131.3L537.6 128.6L538.0 126.7L538.3 125.1L538.7 123.7L539.1 122.8L539.4 122.7L539.8 123.4L540.2 124.8L540.5 126.5L540.9 128.5L541.3 131.4L541.6 135.0L542.0 138.4L542.3 141.3L542.7 144.3L543.1 147.9L543.4 152.6L543.8 158.0L544.2 163.6L544.5 169.2L544.9 175.1L545.3 181.1L545.6 186.9L546.0 192.9L546.4 198.7L546.7 204.1L547.1 209.1L547.5 213.8L547.8 218.2L548.2 222.2L548.6 214.2L548.9 206.3L549.3 198.5L549.6 190.8L550.0 182.8L550.3 173.7L550.7 165.2L551.0 157.7L551.4 151.2L551.8 146.0L552.1 141.5L552.5 138.0L552.8 135.5L553.2 133.4L553.5 131.8L553.9 130.8L554.3 130.0L554.6 129.3L555.0 128.8L555.3 128.4L555.7 128.3L556.0 128.3L556.4 128.5L556.7 128.6L557.1 128.8L557.5 128.9L557.8 128.8L558.2 128.5L558.5 128.0L558.9 127.4L559.2 126.8L559.6 126.4L560.0 125.9L560.3 125.4L560.7 125.0L561.0 124.6L561.4 124.5L561.7 124.6L562.1 125.0L562.4 125.5L562.8 126.1L563.2 126.8L563.5 127.7L563.9 128.8L564.2 130.0L564.6 131.3L564.9 132.8L565.3 134.4L565.7 136.2L566.0 138.0L566.4 140.1L566.7 142.3L567.1 144.2L567.4 145.4L567.8 146.2L568.1 146.9L568.5 147.5L568.9 148.1L569.2 148.6L569.6 149.1L569.9 149.7L570.3 150.3L570.6 150.9L571.0 151.5L571.3 152.1L571.7 152.7L572.1 153.4L572.4 154.1L572.8 155.0L573.1 156.1L573.5 157.5L573.8 159.6L574.2 162.3L574.6 165.3L574.9 168.5L575.3 171.8L575.6 175.5L576.0 179.7L576.3 185.3L576.7 191.2L577.0 195.6L577.4 199.8L577.8 203.4L578.1 205.6L578.5 205.7L578.8 204.3L579.2 202.0L579.5 199.3L579.9 196.8L580.3 194.9L580.6 193.2L581.0 191.5L581.3 189.9L581.7 188.4L582.0 187.3L582.4 186.5L582.7 186.3L583.1 186.7L583.5 187.7L583.8 189.2L584.2 190.9L584.5 192.8L584.9 194.7L585.2 196.6L585.6 198.2L586.0 199.8L586.3 201.5L586.7 203.5L587.0 206.0L587.4 209.2L587.7 213.2L588.1 223.1L588.4 239.4L588.8 257.6L589.2 245.1L589.5 233.8L589.9 224.8L590.2 218.3L590.6 213.2L590.9 209.0L591.3 205.4L591.6 202.2L592.0 199.2L592.3 196.4L592.7 194.0L593.0 191.9L593.4 190.1L593.8 188.5L594.1 186.9L594.5 185.5L594.8 184.4L595.2 183.8L595.5 183.9L595.9 184.7L596.2 185.8L596.6 187.3L596.9 189.0L597.3 190.6L597.6 192.1L598.0 193.3L598.4 194.6L598.7 195.9L599.1 197.3L599.4 198.5L599.8 199.4L600.1 200.0L600.5 200.2L600.8 199.7L601.2 198.7L601.5 197.2L601.9 195.5L602.2 193.6L602.6 191.7L602.9 189.9L603.3 188.1L603.7 186.1L604.0 184.0L604.4 181.5L604.7 178.5L605.1 175.1L605.4 171.7L605.8 168.7L606.1 165.6L606.5 162.6L606.8 160.0L607.2 158.0L607.5 156.8L607.9 155.8L608.3 155.0L608.6 154.2L609.0 153.6L609.3 153.0L609.7 152.5L610.0 151.9L610.4 151.3L610.7 150.8L611.1 150.3L611.4 149.9L611.8 149.5L612.1 149.1L612.5 148.7L612.9 148.3L613.2 147.9L613.6 147.3L613.9 146.7L614.3 146.0L614.6 145.1L615.0 143.6L615.3 141.8L615.7 140.3L616.0 138.7L616.4 137.1L616.7 135.6L617.1 134.2L617.5 132.8L617.8 131.7L618.2 130.7L618.5 129.7L618.9 128.7L619.2 127.9L619.6 127.1L619.9 126.4L620.3 125.9L620.6 125.6L621.0 125.2L621.3 124.9L621.7 124.6L622.0 124.4L622.4 124.2L622.8 124.1L623.1 124.1L623.5 124.2L623.8 124.5L624.2 124.8L624.5 125.2L624.9 125.6L625.2 126.1L625.6 126.5L625.9 126.9L626.3 127.2L626.6 127.5L627.0 127.9L627.4 128.2L627.7 128.6L628.1 128.9L628.4 129.2L628.8 129.5L629.1 129.7L629.5 129.8L629.8 129.9L630.2 129.9L630.5 129.8L630.9 129.8L631.2 129.7L631.6 129.6L632.0 129.4L632.3 129.3L632.7 129.2L633.0 129.1L633.4 129.0L633.7 128.9L634.1 128.9L634.4 128.9L634.8 129.0L635.1 129.2L635.5 129.5L635.8 129.8L636.2 130.2L636.6 130.7L636.9 131.2L637.3 131.7L637.6 132.3L638.0 133.1L638.3 134.2L638.7 135.4L639.0 136.7L639.4 138.1L639.7 139.4L640.1 140.6L640.4 141.7L640.8 142.7L641.1 143.8L641.5 145.0L641.9 146.3L642.2 147.9L642.6 149.8L642.9 151.9L643.3 154.1L643.6 156.4L644.0 158.9L644.3 161.5L644.7 164.4L645.0 167.4L645.4 170.3L645.7 173.1L646.1 175.6L646.5 178.0L646.8 180.5L647.2 183.3L647.5 186.3L647.9 189.5L648.2 192.9L648.6 196.5L648.9 200.4L649.3 204.6L649.6 209.2L650.0 214.1L650.3 219.3L650.7 224.7L651.1 219.7L651.4 215.5L651.8 212.2L652.1 210.0L652.5 208.3L652.8 206.8L653.2 205.2L653.6 203.5L653.9 201.7L654.3 199.9L654.6 198.2L655.0 196.5L655.3 195.1L655.7 193.9L656.0 193.0L656.4 192.1L656.8 191.3L657.1 190.6L657.5 190.0L657.8 189.4L658.2 188.8L658.5 188.1L658.9 187.5L659.3 186.8L659.6 186.1L660.0 185.3L660.3 184.6L660.7 183.8L661.0 183.0L661.4 182.2L661.7 181.4L662.1 180.6L662.5 179.6L662.8 178.7L663.2 177.6L663.5 176.4L663.9 175.1L664.2 173.9L664.6 172.7L665.0 171.6L665.3 170.5L665.7 169.4L666.0 168.3L666.4 167.2L666.7 166.1L667.1 165.0L667.5 164.0L667.8 163.0L668.2 162.0L668.5 161.1L668.9 160.1L669.2 159.2L669.6 158.2L669.9 157.3L670.3 156.4L670.7 155.5L671.0 154.7L671.4 153.9L671.7 153.2L672.1 152.6L672.4 152.1L672.8 151.6L673.2 151.1L673.5 150.6L673.9 150.1L674.2 149.7L674.6 149.3L674.9 148.9L675.3 148.5L675.6 148.2L676.0 147.9L676.4 147.6L676.7 147.3L677.1 147.0L677.4 146.7L677.8 146.5L678.1 146.2L678.5 146.0L678.9 145.8L679.2 145.6L679.6 145.4L679.9 145.2L680.3 145.1L680.6 144.9L681.0 144.8L681.3 144.7L681.7 144.6L682.1 144.5L682.4 144.4L682.8 144.3L683.1 144.2L683.5 144.1L683.8 144.0L684.2 144.0" stroke="#ff0000" stroke-width="1.8"/>
</g>
<rect x="375.3" y="9.1" width="308.90" height="242.50" fill="none" stroke="#707070" stroke-width="1.1"/>
<path d="M392.46 251.6v-3.1M392.46 9.1v3.1M426.78 251.6v-3.1M426.78 9.1v3.1M461.11 251.6v-3.1M461.11 9.1v3.1M495.43 251.6v-3.1M495.43 9.1v3.1M529.75 251.6v-3.1M529.75 9.1v3.1M564.07 251.6v-3.1M564.07 9.1v3.1M598.39 251.6v-3.1M598.39 9.1v3.1M632.72 251.6v-3.1M632.72 9.1v3.1M667.04 251.6v-3.1M667.04 9.1v3.1M375.3 9.10h3.1M684.2 9.10h-3.1M375.3 33.35h3.1M684.2 33.35h-3.1M375.3 57.60h3.1M684.2 57.60h-3.1M375.3 81.85h3.1M684.2 81.85h-3.1M375.3 106.10h3.1M684.2 106.10h-3.1M375.3 130.35h3.1M684.2 130.35h-3.1M375.3 154.60h3.1M684.2 154.60h-3.1M375.3 178.85h3.1M684.2 178.85h-3.1M375.3 203.10h3.1M684.2 203.10h-3.1M375.3 227.35h3.1M684.2 227.35h-3.1M375.3 251.60h3.1M684.2 251.60h-3.1" stroke="#707070" stroke-width="1.1" fill="none"/>
<text transform="translate(392.46 265.70) scale(.25)" text-anchor="middle" class="tk">-80</text>
<text transform="translate(426.78 265.70) scale(.25)" text-anchor="middle" class="tk">-60</text>
<text transform="translate(461.11 265.70) scale(.25)" text-anchor="middle" class="tk">-40</text>
<text transform="translate(495.43 265.70) scale(.25)" text-anchor="middle" class="tk">-20</text>
<text transform="translate(529.75 265.70) scale(.25)" text-anchor="middle" class="tk">0</text>
<text transform="translate(564.07 265.70) scale(.25)" text-anchor="middle" class="tk">20</text>
<text transform="translate(598.39 265.70) scale(.25)" text-anchor="middle" class="tk">40</text>
<text transform="translate(632.72 265.70) scale(.25)" text-anchor="middle" class="tk">60</text>
<text transform="translate(667.04 265.70) scale(.25)" text-anchor="middle" class="tk">80</text>
<text transform="translate(370.90 13.20) scale(.25)" text-anchor="end" class="tk">0</text>
<text transform="translate(370.90 37.45) scale(.25)" text-anchor="end" class="tk">-5</text>
<text transform="translate(370.90 61.70) scale(.25)" text-anchor="end" class="tk">-10</text>
<text transform="translate(370.90 85.95) scale(.25)" text-anchor="end" class="tk">-15</text>
<text transform="translate(370.90 110.20) scale(.25)" text-anchor="end" class="tk">-20</text>
<text transform="translate(370.90 134.45) scale(.25)" text-anchor="end" class="tk">-25</text>
<text transform="translate(370.90 158.70) scale(.25)" text-anchor="end" class="tk">-30</text>
<text transform="translate(370.90 182.95) scale(.25)" text-anchor="end" class="tk">-35</text>
<text transform="translate(370.90 207.20) scale(.25)" text-anchor="end" class="tk">-40</text>
<text transform="translate(370.90 231.45) scale(.25)" text-anchor="end" class="tk">-45</text>
<text transform="translate(370.90 255.70) scale(.25)" text-anchor="end" class="tk">-50</text>
<rect x="600.3" y="16.4" width="76.70" height="72.60" fill="#fff" stroke="#707070" stroke-width="1.1"/>
<path d="M603.20 23.50H631.70" stroke="#00ffff" stroke-width="0.75" fill="none"/>
<text transform="translate(633.90 27.00) scale(.25)" class="lg">PSO/f2</text>
<path d="M603.20 35.30H631.70" stroke="#ffff00" stroke-width="0.75" fill="none"/>
<text transform="translate(633.90 38.80) scale(.25)" class="lg">RGA/f2</text>
<path d="M603.20 46.60H631.70" stroke="#00ff00" stroke-width="0.75" fill="none"/>
<text transform="translate(633.90 50.10) scale(.25)" class="lg">DE/f2</text>
<path d="M603.20 58.40H631.70" stroke="#0000ff" stroke-width="0.75" fill="none"/>
<text transform="translate(633.90 61.90) scale(.25)" class="lg">DEWM/f2</text>
<path d="M603.20 70.40H631.70" stroke="#000000" stroke-width="0.75" fill="none"/>
<text transform="translate(633.90 73.90) scale(.25)" class="lg">DO/f2</text>
<path d="M603.20 81.80H631.70" stroke="#ff0000" stroke-width="1.8" fill="none"/>
<text transform="translate(633.90 85.30) scale(.25)" class="lg">CENDO/f2</text>
<text x="122.2" y="305.9" class="cap">(a)</text>
<text x="504.9" y="311.5" class="cap">(b)</text>
</svg>
</body></html>
